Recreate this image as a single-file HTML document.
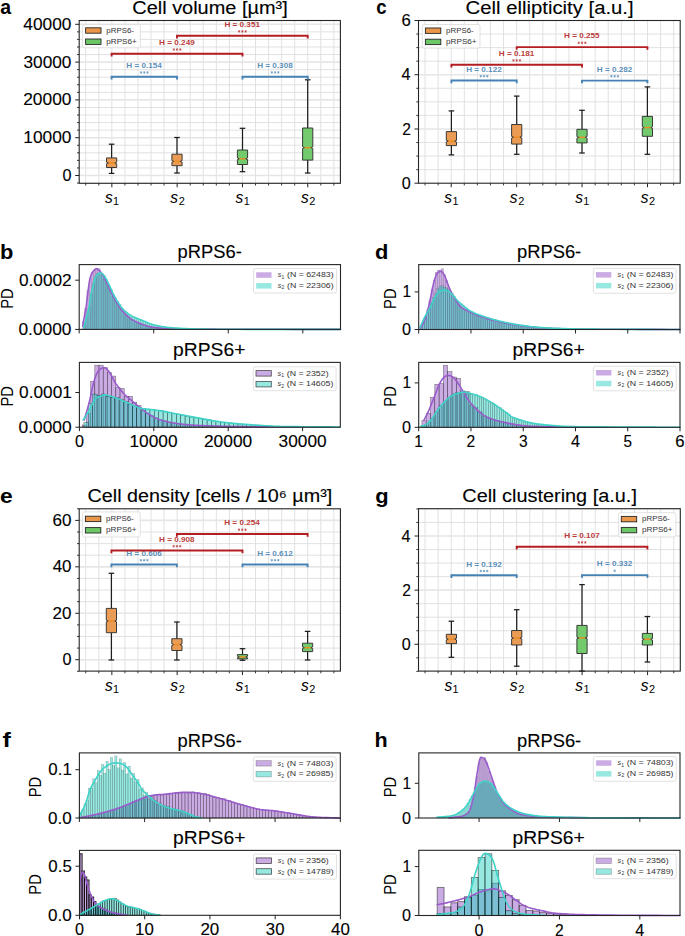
<!DOCTYPE html><html><head><meta charset="utf-8"><style>html,body{margin:0;padding:0;background:#fff;}svg{display:block;}</style></head><body><svg width="685" height="936" viewBox="0 0 685 936" font-family='"Liberation Sans", sans-serif'>
<rect width="685" height="936" fill="#fff"/>
<line x1="85.73" y1="20.5" x2="85.73" y2="183.3" stroke="#dedede" stroke-width="0.9"/>
<line x1="98.79" y1="20.5" x2="98.79" y2="183.3" stroke="#dedede" stroke-width="0.9"/>
<line x1="111.85" y1="20.5" x2="111.85" y2="183.3" stroke="#dedede" stroke-width="0.9"/>
<line x1="124.91" y1="20.5" x2="124.91" y2="183.3" stroke="#dedede" stroke-width="0.9"/>
<line x1="137.97" y1="20.5" x2="137.97" y2="183.3" stroke="#dedede" stroke-width="0.9"/>
<line x1="151.03" y1="20.5" x2="151.03" y2="183.3" stroke="#dedede" stroke-width="0.9"/>
<line x1="164.09" y1="20.5" x2="164.09" y2="183.3" stroke="#dedede" stroke-width="0.9"/>
<line x1="177.15" y1="20.5" x2="177.15" y2="183.3" stroke="#dedede" stroke-width="0.9"/>
<line x1="190.21" y1="20.5" x2="190.21" y2="183.3" stroke="#dedede" stroke-width="0.9"/>
<line x1="203.27" y1="20.5" x2="203.27" y2="183.3" stroke="#dedede" stroke-width="0.9"/>
<line x1="216.33" y1="20.5" x2="216.33" y2="183.3" stroke="#dedede" stroke-width="0.9"/>
<line x1="229.39" y1="20.5" x2="229.39" y2="183.3" stroke="#dedede" stroke-width="0.9"/>
<line x1="242.45" y1="20.5" x2="242.45" y2="183.3" stroke="#dedede" stroke-width="0.9"/>
<line x1="255.51" y1="20.5" x2="255.51" y2="183.3" stroke="#dedede" stroke-width="0.9"/>
<line x1="268.57" y1="20.5" x2="268.57" y2="183.3" stroke="#dedede" stroke-width="0.9"/>
<line x1="281.63" y1="20.5" x2="281.63" y2="183.3" stroke="#dedede" stroke-width="0.9"/>
<line x1="294.69" y1="20.5" x2="294.69" y2="183.3" stroke="#dedede" stroke-width="0.9"/>
<line x1="307.75" y1="20.5" x2="307.75" y2="183.3" stroke="#dedede" stroke-width="0.9"/>
<line x1="320.81" y1="20.5" x2="320.81" y2="183.3" stroke="#dedede" stroke-width="0.9"/>
<line x1="333.87" y1="20.5" x2="333.87" y2="183.3" stroke="#dedede" stroke-width="0.9"/>
<line x1="79.2" y1="183.06" x2="340.4" y2="183.06" stroke="#dedede" stroke-width="0.9"/>
<line x1="79.2" y1="167.94" x2="340.4" y2="167.94" stroke="#dedede" stroke-width="0.9"/>
<line x1="79.2" y1="160.38" x2="340.4" y2="160.38" stroke="#dedede" stroke-width="0.9"/>
<line x1="79.2" y1="152.82" x2="340.4" y2="152.82" stroke="#dedede" stroke-width="0.9"/>
<line x1="79.2" y1="145.26" x2="340.4" y2="145.26" stroke="#dedede" stroke-width="0.9"/>
<line x1="79.2" y1="130.14" x2="340.4" y2="130.14" stroke="#dedede" stroke-width="0.9"/>
<line x1="79.2" y1="122.58" x2="340.4" y2="122.58" stroke="#dedede" stroke-width="0.9"/>
<line x1="79.2" y1="115.02" x2="340.4" y2="115.02" stroke="#dedede" stroke-width="0.9"/>
<line x1="79.2" y1="107.46" x2="340.4" y2="107.46" stroke="#dedede" stroke-width="0.9"/>
<line x1="79.2" y1="92.34" x2="340.4" y2="92.34" stroke="#dedede" stroke-width="0.9"/>
<line x1="79.2" y1="84.78" x2="340.4" y2="84.78" stroke="#dedede" stroke-width="0.9"/>
<line x1="79.2" y1="77.22" x2="340.4" y2="77.22" stroke="#dedede" stroke-width="0.9"/>
<line x1="79.2" y1="69.66" x2="340.4" y2="69.66" stroke="#dedede" stroke-width="0.9"/>
<line x1="79.2" y1="54.54" x2="340.4" y2="54.54" stroke="#dedede" stroke-width="0.9"/>
<line x1="79.2" y1="46.98" x2="340.4" y2="46.98" stroke="#dedede" stroke-width="0.9"/>
<line x1="79.2" y1="39.42" x2="340.4" y2="39.42" stroke="#dedede" stroke-width="0.9"/>
<line x1="79.2" y1="31.86" x2="340.4" y2="31.86" stroke="#dedede" stroke-width="0.9"/>
<line x1="79.2" y1="175.5" x2="340.4" y2="175.5" stroke="#e6e6e6" stroke-width="1.6"/>
<line x1="79.2" y1="137.7" x2="340.4" y2="137.7" stroke="#e6e6e6" stroke-width="1.6"/>
<line x1="79.2" y1="99.9" x2="340.4" y2="99.9" stroke="#e6e6e6" stroke-width="1.6"/>
<line x1="79.2" y1="62.1" x2="340.4" y2="62.1" stroke="#e6e6e6" stroke-width="1.6"/>
<line x1="79.2" y1="24.3" x2="340.4" y2="24.3" stroke="#e6e6e6" stroke-width="1.6"/>
<line x1="77" y1="183.06" x2="79.2" y2="183.06" stroke="#222" stroke-width="0.9"/>
<line x1="77" y1="167.94" x2="79.2" y2="167.94" stroke="#222" stroke-width="0.9"/>
<line x1="77" y1="160.38" x2="79.2" y2="160.38" stroke="#222" stroke-width="0.9"/>
<line x1="77" y1="152.82" x2="79.2" y2="152.82" stroke="#222" stroke-width="0.9"/>
<line x1="77" y1="145.26" x2="79.2" y2="145.26" stroke="#222" stroke-width="0.9"/>
<line x1="77" y1="130.14" x2="79.2" y2="130.14" stroke="#222" stroke-width="0.9"/>
<line x1="77" y1="122.58" x2="79.2" y2="122.58" stroke="#222" stroke-width="0.9"/>
<line x1="77" y1="115.02" x2="79.2" y2="115.02" stroke="#222" stroke-width="0.9"/>
<line x1="77" y1="107.46" x2="79.2" y2="107.46" stroke="#222" stroke-width="0.9"/>
<line x1="77" y1="92.34" x2="79.2" y2="92.34" stroke="#222" stroke-width="0.9"/>
<line x1="77" y1="84.78" x2="79.2" y2="84.78" stroke="#222" stroke-width="0.9"/>
<line x1="77" y1="77.22" x2="79.2" y2="77.22" stroke="#222" stroke-width="0.9"/>
<line x1="77" y1="69.66" x2="79.2" y2="69.66" stroke="#222" stroke-width="0.9"/>
<line x1="77" y1="54.54" x2="79.2" y2="54.54" stroke="#222" stroke-width="0.9"/>
<line x1="77" y1="46.98" x2="79.2" y2="46.98" stroke="#222" stroke-width="0.9"/>
<line x1="77" y1="39.42" x2="79.2" y2="39.42" stroke="#222" stroke-width="0.9"/>
<line x1="77" y1="31.86" x2="79.2" y2="31.86" stroke="#222" stroke-width="0.9"/>
<line x1="75.2" y1="175.5" x2="79.2" y2="175.5" stroke="#222" stroke-width="1"/>
<text x="62.43" y="181.05" font-size="16.11" fill="#000" textLength="9" lengthAdjust="spacingAndGlyphs" stroke="#000" stroke-width="0.12">0</text>
<line x1="75.2" y1="137.7" x2="79.2" y2="137.7" stroke="#222" stroke-width="1"/>
<text x="23.35" y="143.25" font-size="16.11" fill="#000" textLength="48.13" lengthAdjust="spacingAndGlyphs" stroke="#000" stroke-width="0.12">10000</text>
<line x1="75.2" y1="99.9" x2="79.2" y2="99.9" stroke="#222" stroke-width="1"/>
<text x="23.23" y="105.45" font-size="16.11" fill="#000" textLength="48.24" lengthAdjust="spacingAndGlyphs" stroke="#000" stroke-width="0.12">20000</text>
<line x1="75.2" y1="62.1" x2="79.2" y2="62.1" stroke="#222" stroke-width="1"/>
<text x="23.49" y="67.65" font-size="16.11" fill="#000" textLength="47.98" lengthAdjust="spacingAndGlyphs" stroke="#000" stroke-width="0.12">30000</text>
<line x1="75.2" y1="24.3" x2="79.2" y2="24.3" stroke="#222" stroke-width="1"/>
<text x="23.33" y="29.85" font-size="16.11" fill="#000" textLength="48.14" lengthAdjust="spacingAndGlyphs" stroke="#000" stroke-width="0.12">40000</text>
<line x1="85.73" y1="183.3" x2="85.73" y2="185.5" stroke="#222" stroke-width="0.9"/>
<line x1="98.79" y1="183.3" x2="98.79" y2="185.5" stroke="#222" stroke-width="0.9"/>
<line x1="124.91" y1="183.3" x2="124.91" y2="185.5" stroke="#222" stroke-width="0.9"/>
<line x1="137.97" y1="183.3" x2="137.97" y2="185.5" stroke="#222" stroke-width="0.9"/>
<line x1="151.03" y1="183.3" x2="151.03" y2="185.5" stroke="#222" stroke-width="0.9"/>
<line x1="164.09" y1="183.3" x2="164.09" y2="185.5" stroke="#222" stroke-width="0.9"/>
<line x1="190.21" y1="183.3" x2="190.21" y2="185.5" stroke="#222" stroke-width="0.9"/>
<line x1="203.27" y1="183.3" x2="203.27" y2="185.5" stroke="#222" stroke-width="0.9"/>
<line x1="216.33" y1="183.3" x2="216.33" y2="185.5" stroke="#222" stroke-width="0.9"/>
<line x1="229.39" y1="183.3" x2="229.39" y2="185.5" stroke="#222" stroke-width="0.9"/>
<line x1="255.51" y1="183.3" x2="255.51" y2="185.5" stroke="#222" stroke-width="0.9"/>
<line x1="268.57" y1="183.3" x2="268.57" y2="185.5" stroke="#222" stroke-width="0.9"/>
<line x1="281.63" y1="183.3" x2="281.63" y2="185.5" stroke="#222" stroke-width="0.9"/>
<line x1="294.69" y1="183.3" x2="294.69" y2="185.5" stroke="#222" stroke-width="0.9"/>
<line x1="320.81" y1="183.3" x2="320.81" y2="185.5" stroke="#222" stroke-width="0.9"/>
<line x1="333.87" y1="183.3" x2="333.87" y2="185.5" stroke="#222" stroke-width="0.9"/>
<line x1="111.85" y1="183.3" x2="111.85" y2="187.3" stroke="#222" stroke-width="1"/>
<line x1="177.15" y1="183.3" x2="177.15" y2="187.3" stroke="#222" stroke-width="1"/>
<line x1="242.45" y1="183.3" x2="242.45" y2="187.3" stroke="#222" stroke-width="1"/>
<line x1="307.75" y1="183.3" x2="307.75" y2="187.3" stroke="#222" stroke-width="1"/>
<rect x="82.6" y="24.6" width="57.7" height="23.2" fill="rgba(255,255,255,0.85)" stroke="#d9d9d9" stroke-width="0.8" rx="1.8"/>
<rect x="85.6" y="27.8" width="15.4" height="5.4" fill="#ea974b" stroke="#262626" stroke-width="0.9"/>
<rect x="85.6" y="39" width="15.4" height="5.4" fill="#6cc866" stroke="#262626" stroke-width="0.9"/>
<text x="106.29" y="33.3" font-size="7.42" fill="#333" textLength="27.66" lengthAdjust="spacingAndGlyphs">pRPS6-</text>
<text x="106.28" y="44.2" font-size="7.42" fill="#333" textLength="30.53" lengthAdjust="spacingAndGlyphs">pRPS6+</text>
<line x1="111.6" y1="144.2" x2="111.6" y2="157.9" stroke="#1e1e1e" stroke-width="1.25"/>
<line x1="111.6" y1="167.5" x2="111.6" y2="173.4" stroke="#1e1e1e" stroke-width="1.25"/>
<line x1="108.8" y1="144.2" x2="114.4" y2="144.2" stroke="#1e1e1e" stroke-width="1.25"/>
<line x1="108.8" y1="173.4" x2="114.4" y2="173.4" stroke="#1e1e1e" stroke-width="1.25"/>
<path d="M106.5,167.5 L116.7,167.5 L116.7,163.8 L114.7,163 L116.7,162.2 L116.7,157.9 L106.5,157.9 L106.5,162.2 L108.5,163 L106.5,163.8 Z" fill="#ea974b" stroke="#333" stroke-width="0.95" fill-opacity="0.95" stroke-linejoin="miter"/>
<line x1="108.5" y1="163" x2="114.7" y2="163" stroke="#ef8a1c" stroke-width="1.4"/>
<line x1="177" y1="137.5" x2="177" y2="154.2" stroke="#1e1e1e" stroke-width="1.25"/>
<line x1="177" y1="165.7" x2="177" y2="173" stroke="#1e1e1e" stroke-width="1.25"/>
<line x1="174.2" y1="137.5" x2="179.8" y2="137.5" stroke="#1e1e1e" stroke-width="1.25"/>
<line x1="174.2" y1="173" x2="179.8" y2="173" stroke="#1e1e1e" stroke-width="1.25"/>
<path d="M171.9,165.7 L182.1,165.7 L182.1,162.2 L180.1,161.4 L182.1,160.6 L182.1,154.2 L171.9,154.2 L171.9,160.6 L173.9,161.4 L171.9,162.2 Z" fill="#ea974b" stroke="#333" stroke-width="0.95" fill-opacity="0.95" stroke-linejoin="miter"/>
<line x1="173.9" y1="161.4" x2="180.1" y2="161.4" stroke="#ef8a1c" stroke-width="1.4"/>
<line x1="242.5" y1="128.3" x2="242.5" y2="150" stroke="#1e1e1e" stroke-width="1.25"/>
<line x1="242.5" y1="164.5" x2="242.5" y2="171.7" stroke="#1e1e1e" stroke-width="1.25"/>
<line x1="239.7" y1="128.3" x2="245.3" y2="128.3" stroke="#1e1e1e" stroke-width="1.25"/>
<line x1="239.7" y1="171.7" x2="245.3" y2="171.7" stroke="#1e1e1e" stroke-width="1.25"/>
<path d="M237.4,164.5 L247.6,164.5 L247.6,159.6 L245.6,158.8 L247.6,158 L247.6,150 L237.4,150 L237.4,158 L239.4,158.8 L237.4,159.6 Z" fill="#6cc866" stroke="#333" stroke-width="0.95" fill-opacity="0.95" stroke-linejoin="miter"/>
<line x1="239.4" y1="158.8" x2="245.6" y2="158.8" stroke="#ef8a1c" stroke-width="1.4"/>
<line x1="307.7" y1="79.8" x2="307.7" y2="128" stroke="#1e1e1e" stroke-width="1.25"/>
<line x1="307.7" y1="160.1" x2="307.7" y2="173" stroke="#1e1e1e" stroke-width="1.25"/>
<line x1="304.9" y1="79.8" x2="310.5" y2="79.8" stroke="#1e1e1e" stroke-width="1.25"/>
<line x1="304.9" y1="173" x2="310.5" y2="173" stroke="#1e1e1e" stroke-width="1.25"/>
<path d="M302.6,160.1 L312.8,160.1 L312.8,148.4 L310.8,147.6 L312.8,146.8 L312.8,128 L302.6,128 L302.6,146.8 L304.6,147.6 L302.6,148.4 Z" fill="#6cc866" stroke="#333" stroke-width="0.95" fill-opacity="0.95" stroke-linejoin="miter"/>
<line x1="304.6" y1="147.6" x2="310.8" y2="147.6" stroke="#ef8a1c" stroke-width="1.4"/>
<path d="M111.6,78.6 L111.6,76.8 L177,76.8 L177,78.6" fill="none" stroke="#4682b4" stroke-width="1.9" stroke-linecap="square"/>
<text x="126.31" y="68.1" font-size="6.78" font-weight="bold" fill="#4682b4" textLength="35.47" lengthAdjust="spacingAndGlyphs" fill-opacity="0.9">H = 0.154</text>
<path d="M141.05,71.2 L141.05,73.8 M139.92,71.85 L142.18,73.15 M142.18,71.85 L139.92,73.15 " fill="none" stroke="#4682b4" stroke-width="0.6" stroke-opacity="0.9"/>
<path d="M144.3,71.2 L144.3,73.8 M143.17,71.85 L145.43,73.15 M145.43,71.85 L143.17,73.15 " fill="none" stroke="#4682b4" stroke-width="0.6" stroke-opacity="0.9"/>
<path d="M147.55,71.2 L147.55,73.8 M146.42,71.85 L148.68,73.15 M148.68,71.85 L146.42,73.15 " fill="none" stroke="#4682b4" stroke-width="0.6" stroke-opacity="0.9"/>
<path d="M242.5,78.5 L242.5,76.7 L307.7,76.7 L307.7,78.5" fill="none" stroke="#4682b4" stroke-width="1.9" stroke-linecap="square"/>
<text x="257.17" y="68" font-size="6.78" font-weight="bold" fill="#4682b4" textLength="35.57" lengthAdjust="spacingAndGlyphs" fill-opacity="0.9">H = 0.308</text>
<path d="M271.85,71.1 L271.85,73.7 M270.72,71.75 L272.98,73.05 M272.98,71.75 L270.72,73.05 " fill="none" stroke="#4682b4" stroke-width="0.6" stroke-opacity="0.9"/>
<path d="M275.1,71.1 L275.1,73.7 M273.97,71.75 L276.23,73.05 M276.23,71.75 L273.97,73.05 " fill="none" stroke="#4682b4" stroke-width="0.6" stroke-opacity="0.9"/>
<path d="M278.35,71.1 L278.35,73.7 M277.22,71.75 L279.48,73.05 M279.48,71.75 L277.22,73.05 " fill="none" stroke="#4682b4" stroke-width="0.6" stroke-opacity="0.9"/>
<path d="M111.6,55.6 L111.6,53.8 L242.5,53.8 L242.5,55.6" fill="none" stroke="#b41e22" stroke-width="1.9" stroke-linecap="square"/>
<text x="159.12" y="45.1" font-size="6.78" font-weight="bold" fill="#b41e22" textLength="35.61" lengthAdjust="spacingAndGlyphs" fill-opacity="0.9">H = 0.249</text>
<path d="M173.8,48.2 L173.8,50.8 M172.67,48.85 L174.93,50.15 M174.93,48.85 L172.67,50.15 " fill="none" stroke="#b41e22" stroke-width="0.6" stroke-opacity="0.9"/>
<path d="M177.05,48.2 L177.05,50.8 M175.92,48.85 L178.18,50.15 M178.18,48.85 L175.92,50.15 " fill="none" stroke="#b41e22" stroke-width="0.6" stroke-opacity="0.9"/>
<path d="M180.3,48.2 L180.3,50.8 M179.17,48.85 L181.43,50.15 M181.43,48.85 L179.17,50.15 " fill="none" stroke="#b41e22" stroke-width="0.6" stroke-opacity="0.9"/>
<path d="M177,37.5 L177,35.7 L307.7,35.7 L307.7,37.5" fill="none" stroke="#b41e22" stroke-width="1.9" stroke-linecap="square"/>
<text x="224.44" y="27" font-size="6.78" font-weight="bold" fill="#b41e22" textLength="35.51" lengthAdjust="spacingAndGlyphs" fill-opacity="0.9">H = 0.351</text>
<path d="M239.1,30.1 L239.1,32.7 M237.97,30.75 L240.23,32.05 M240.23,30.75 L237.97,32.05 " fill="none" stroke="#b41e22" stroke-width="0.6" stroke-opacity="0.9"/>
<path d="M242.35,30.1 L242.35,32.7 M241.22,30.75 L243.48,32.05 M243.48,30.75 L241.22,32.05 " fill="none" stroke="#b41e22" stroke-width="0.6" stroke-opacity="0.9"/>
<path d="M245.6,30.1 L245.6,32.7 M244.47,30.75 L246.73,32.05 M246.73,30.75 L244.47,32.05 " fill="none" stroke="#b41e22" stroke-width="0.6" stroke-opacity="0.9"/>
<rect x="79.2" y="20.5" width="261.2" height="162.8" fill="none" stroke="#262626" stroke-width="1.1"/>
<text x="105.01" y="202.5" font-size="16.32" font-style="italic" fill="#000" textLength="7.76" lengthAdjust="spacingAndGlyphs">s</text>
<text x="113.12" y="204.9" font-size="11.34" fill="#000" textLength="6.05" lengthAdjust="spacingAndGlyphs">1</text>
<text x="170.31" y="202.5" font-size="16.32" font-style="italic" fill="#000" textLength="7.76" lengthAdjust="spacingAndGlyphs">s</text>
<text x="178.7" y="204.9" font-size="11.34" fill="#000" textLength="6.11" lengthAdjust="spacingAndGlyphs">2</text>
<text x="235.61" y="202.5" font-size="16.32" font-style="italic" fill="#000" textLength="7.76" lengthAdjust="spacingAndGlyphs">s</text>
<text x="243.72" y="204.9" font-size="11.34" fill="#000" textLength="6.05" lengthAdjust="spacingAndGlyphs">1</text>
<text x="300.91" y="202.5" font-size="16.32" font-style="italic" fill="#000" textLength="7.76" lengthAdjust="spacingAndGlyphs">s</text>
<text x="309.3" y="204.9" font-size="11.34" fill="#000" textLength="6.11" lengthAdjust="spacingAndGlyphs">2</text>
<line x1="425.04" y1="20.5" x2="425.04" y2="183.2" stroke="#dedede" stroke-width="0.9"/>
<line x1="438.13" y1="20.5" x2="438.13" y2="183.2" stroke="#dedede" stroke-width="0.9"/>
<line x1="451.21" y1="20.5" x2="451.21" y2="183.2" stroke="#dedede" stroke-width="0.9"/>
<line x1="464.3" y1="20.5" x2="464.3" y2="183.2" stroke="#dedede" stroke-width="0.9"/>
<line x1="477.38" y1="20.5" x2="477.38" y2="183.2" stroke="#dedede" stroke-width="0.9"/>
<line x1="490.47" y1="20.5" x2="490.47" y2="183.2" stroke="#dedede" stroke-width="0.9"/>
<line x1="503.55" y1="20.5" x2="503.55" y2="183.2" stroke="#dedede" stroke-width="0.9"/>
<line x1="516.64" y1="20.5" x2="516.64" y2="183.2" stroke="#dedede" stroke-width="0.9"/>
<line x1="529.72" y1="20.5" x2="529.72" y2="183.2" stroke="#dedede" stroke-width="0.9"/>
<line x1="542.81" y1="20.5" x2="542.81" y2="183.2" stroke="#dedede" stroke-width="0.9"/>
<line x1="555.89" y1="20.5" x2="555.89" y2="183.2" stroke="#dedede" stroke-width="0.9"/>
<line x1="568.98" y1="20.5" x2="568.98" y2="183.2" stroke="#dedede" stroke-width="0.9"/>
<line x1="582.06" y1="20.5" x2="582.06" y2="183.2" stroke="#dedede" stroke-width="0.9"/>
<line x1="595.15" y1="20.5" x2="595.15" y2="183.2" stroke="#dedede" stroke-width="0.9"/>
<line x1="608.23" y1="20.5" x2="608.23" y2="183.2" stroke="#dedede" stroke-width="0.9"/>
<line x1="621.32" y1="20.5" x2="621.32" y2="183.2" stroke="#dedede" stroke-width="0.9"/>
<line x1="634.4" y1="20.5" x2="634.4" y2="183.2" stroke="#dedede" stroke-width="0.9"/>
<line x1="647.49" y1="20.5" x2="647.49" y2="183.2" stroke="#dedede" stroke-width="0.9"/>
<line x1="660.57" y1="20.5" x2="660.57" y2="183.2" stroke="#dedede" stroke-width="0.9"/>
<line x1="673.66" y1="20.5" x2="673.66" y2="183.2" stroke="#dedede" stroke-width="0.9"/>
<line x1="418.5" y1="169.64" x2="680.2" y2="169.64" stroke="#dedede" stroke-width="0.9"/>
<line x1="418.5" y1="156.08" x2="680.2" y2="156.08" stroke="#dedede" stroke-width="0.9"/>
<line x1="418.5" y1="142.52" x2="680.2" y2="142.52" stroke="#dedede" stroke-width="0.9"/>
<line x1="418.5" y1="115.41" x2="680.2" y2="115.41" stroke="#dedede" stroke-width="0.9"/>
<line x1="418.5" y1="101.85" x2="680.2" y2="101.85" stroke="#dedede" stroke-width="0.9"/>
<line x1="418.5" y1="88.29" x2="680.2" y2="88.29" stroke="#dedede" stroke-width="0.9"/>
<line x1="418.5" y1="61.17" x2="680.2" y2="61.17" stroke="#dedede" stroke-width="0.9"/>
<line x1="418.5" y1="47.62" x2="680.2" y2="47.62" stroke="#dedede" stroke-width="0.9"/>
<line x1="418.5" y1="34.06" x2="680.2" y2="34.06" stroke="#dedede" stroke-width="0.9"/>
<line x1="418.5" y1="128.97" x2="680.2" y2="128.97" stroke="#e6e6e6" stroke-width="1.6"/>
<line x1="418.5" y1="74.73" x2="680.2" y2="74.73" stroke="#e6e6e6" stroke-width="1.6"/>
<line x1="416.3" y1="169.64" x2="418.5" y2="169.64" stroke="#222" stroke-width="0.9"/>
<line x1="416.3" y1="156.08" x2="418.5" y2="156.08" stroke="#222" stroke-width="0.9"/>
<line x1="416.3" y1="142.52" x2="418.5" y2="142.52" stroke="#222" stroke-width="0.9"/>
<line x1="416.3" y1="115.41" x2="418.5" y2="115.41" stroke="#222" stroke-width="0.9"/>
<line x1="416.3" y1="101.85" x2="418.5" y2="101.85" stroke="#222" stroke-width="0.9"/>
<line x1="416.3" y1="88.29" x2="418.5" y2="88.29" stroke="#222" stroke-width="0.9"/>
<line x1="416.3" y1="61.17" x2="418.5" y2="61.17" stroke="#222" stroke-width="0.9"/>
<line x1="416.3" y1="47.62" x2="418.5" y2="47.62" stroke="#222" stroke-width="0.9"/>
<line x1="416.3" y1="34.06" x2="418.5" y2="34.06" stroke="#222" stroke-width="0.9"/>
<line x1="414.5" y1="183.2" x2="418.5" y2="183.2" stroke="#222" stroke-width="1"/>
<text x="401.73" y="188.75" font-size="16.11" fill="#000" textLength="9" lengthAdjust="spacingAndGlyphs" stroke="#000" stroke-width="0.12">0</text>
<line x1="414.5" y1="128.97" x2="418.5" y2="128.97" stroke="#222" stroke-width="1"/>
<text x="402.21" y="134.52" font-size="16.11" fill="#000" textLength="8.68" lengthAdjust="spacingAndGlyphs" stroke="#000" stroke-width="0.12">2</text>
<line x1="414.5" y1="74.73" x2="418.5" y2="74.73" stroke="#222" stroke-width="1"/>
<text x="401.57" y="80.28" font-size="16.11" fill="#000" textLength="9" lengthAdjust="spacingAndGlyphs" stroke="#000" stroke-width="0.12">4</text>
<line x1="414.5" y1="20.5" x2="418.5" y2="20.5" stroke="#222" stroke-width="1"/>
<text x="401.52" y="26.05" font-size="16.11" fill="#000" textLength="9.32" lengthAdjust="spacingAndGlyphs" stroke="#000" stroke-width="0.12">6</text>
<line x1="425.04" y1="183.2" x2="425.04" y2="185.4" stroke="#222" stroke-width="0.9"/>
<line x1="438.13" y1="183.2" x2="438.13" y2="185.4" stroke="#222" stroke-width="0.9"/>
<line x1="464.3" y1="183.2" x2="464.3" y2="185.4" stroke="#222" stroke-width="0.9"/>
<line x1="477.38" y1="183.2" x2="477.38" y2="185.4" stroke="#222" stroke-width="0.9"/>
<line x1="490.47" y1="183.2" x2="490.47" y2="185.4" stroke="#222" stroke-width="0.9"/>
<line x1="503.55" y1="183.2" x2="503.55" y2="185.4" stroke="#222" stroke-width="0.9"/>
<line x1="529.72" y1="183.2" x2="529.72" y2="185.4" stroke="#222" stroke-width="0.9"/>
<line x1="542.81" y1="183.2" x2="542.81" y2="185.4" stroke="#222" stroke-width="0.9"/>
<line x1="555.89" y1="183.2" x2="555.89" y2="185.4" stroke="#222" stroke-width="0.9"/>
<line x1="568.98" y1="183.2" x2="568.98" y2="185.4" stroke="#222" stroke-width="0.9"/>
<line x1="595.15" y1="183.2" x2="595.15" y2="185.4" stroke="#222" stroke-width="0.9"/>
<line x1="608.23" y1="183.2" x2="608.23" y2="185.4" stroke="#222" stroke-width="0.9"/>
<line x1="621.32" y1="183.2" x2="621.32" y2="185.4" stroke="#222" stroke-width="0.9"/>
<line x1="634.4" y1="183.2" x2="634.4" y2="185.4" stroke="#222" stroke-width="0.9"/>
<line x1="660.57" y1="183.2" x2="660.57" y2="185.4" stroke="#222" stroke-width="0.9"/>
<line x1="673.66" y1="183.2" x2="673.66" y2="185.4" stroke="#222" stroke-width="0.9"/>
<line x1="451.21" y1="183.2" x2="451.21" y2="187.2" stroke="#222" stroke-width="1"/>
<line x1="516.64" y1="183.2" x2="516.64" y2="187.2" stroke="#222" stroke-width="1"/>
<line x1="582.06" y1="183.2" x2="582.06" y2="187.2" stroke="#222" stroke-width="1"/>
<line x1="647.49" y1="183.2" x2="647.49" y2="187.2" stroke="#222" stroke-width="1"/>
<rect x="422.3" y="24.5" width="57.7" height="23.6" fill="rgba(255,255,255,0.85)" stroke="#d9d9d9" stroke-width="0.8" rx="1.8"/>
<rect x="425.4" y="28" width="15.4" height="5.4" fill="#ea974b" stroke="#262626" stroke-width="0.9"/>
<rect x="425.4" y="39.2" width="15.4" height="5.4" fill="#6cc866" stroke="#262626" stroke-width="0.9"/>
<text x="446.09" y="33.2" font-size="7.42" fill="#333" textLength="27.66" lengthAdjust="spacingAndGlyphs">pRPS6-</text>
<text x="446.08" y="44.1" font-size="7.42" fill="#333" textLength="30.53" lengthAdjust="spacingAndGlyphs">pRPS6+</text>
<line x1="451.4" y1="110.9" x2="451.4" y2="131.6" stroke="#1e1e1e" stroke-width="1.25"/>
<line x1="451.4" y1="145.6" x2="451.4" y2="154.9" stroke="#1e1e1e" stroke-width="1.25"/>
<line x1="448.6" y1="110.9" x2="454.2" y2="110.9" stroke="#1e1e1e" stroke-width="1.25"/>
<line x1="448.6" y1="154.9" x2="454.2" y2="154.9" stroke="#1e1e1e" stroke-width="1.25"/>
<path d="M446.3,145.6 L456.5,145.6 L456.5,142 L454.5,141.2 L456.5,140.4 L456.5,131.6 L446.3,131.6 L446.3,140.4 L448.3,141.2 L446.3,142 Z" fill="#ea974b" stroke="#333" stroke-width="0.95" fill-opacity="0.95" stroke-linejoin="miter"/>
<line x1="448.3" y1="141.2" x2="454.5" y2="141.2" stroke="#ef8a1c" stroke-width="1.4"/>
<line x1="516.7" y1="96.1" x2="516.7" y2="124.5" stroke="#1e1e1e" stroke-width="1.25"/>
<line x1="516.7" y1="144.1" x2="516.7" y2="154.3" stroke="#1e1e1e" stroke-width="1.25"/>
<line x1="513.9" y1="96.1" x2="519.5" y2="96.1" stroke="#1e1e1e" stroke-width="1.25"/>
<line x1="513.9" y1="154.3" x2="519.5" y2="154.3" stroke="#1e1e1e" stroke-width="1.25"/>
<path d="M511.6,144.1 L521.8,144.1 L521.8,138 L519.8,137.2 L521.8,136.4 L521.8,124.5 L511.6,124.5 L511.6,136.4 L513.6,137.2 L511.6,138 Z" fill="#ea974b" stroke="#333" stroke-width="0.95" fill-opacity="0.95" stroke-linejoin="miter"/>
<line x1="513.6" y1="137.2" x2="519.8" y2="137.2" stroke="#ef8a1c" stroke-width="1.4"/>
<line x1="582" y1="110.3" x2="582" y2="129.3" stroke="#1e1e1e" stroke-width="1.25"/>
<line x1="582" y1="142.9" x2="582" y2="153" stroke="#1e1e1e" stroke-width="1.25"/>
<line x1="579.2" y1="110.3" x2="584.8" y2="110.3" stroke="#1e1e1e" stroke-width="1.25"/>
<line x1="579.2" y1="153" x2="584.8" y2="153" stroke="#1e1e1e" stroke-width="1.25"/>
<path d="M576.9,142.9 L587.1,142.9 L587.1,138.2 L585.1,137.4 L587.1,136.6 L587.1,129.3 L576.9,129.3 L576.9,136.6 L578.9,137.4 L576.9,138.2 Z" fill="#6cc866" stroke="#333" stroke-width="0.95" fill-opacity="0.95" stroke-linejoin="miter"/>
<line x1="578.9" y1="137.4" x2="585.1" y2="137.4" stroke="#ef8a1c" stroke-width="1.4"/>
<line x1="647.4" y1="86.9" x2="647.4" y2="116.4" stroke="#1e1e1e" stroke-width="1.25"/>
<line x1="647.4" y1="136.3" x2="647.4" y2="154.3" stroke="#1e1e1e" stroke-width="1.25"/>
<line x1="644.6" y1="86.9" x2="650.2" y2="86.9" stroke="#1e1e1e" stroke-width="1.25"/>
<line x1="644.6" y1="154.3" x2="650.2" y2="154.3" stroke="#1e1e1e" stroke-width="1.25"/>
<path d="M642.3,136.3 L652.5,136.3 L652.5,128.4 L650.5,127.6 L652.5,126.8 L652.5,116.4 L642.3,116.4 L642.3,126.8 L644.3,127.6 L642.3,128.4 Z" fill="#6cc866" stroke="#333" stroke-width="0.95" fill-opacity="0.95" stroke-linejoin="miter"/>
<line x1="644.3" y1="127.6" x2="650.5" y2="127.6" stroke="#ef8a1c" stroke-width="1.4"/>
<path d="M451.4,82.3 L451.4,80.5 L516.7,80.5 L516.7,82.3" fill="none" stroke="#4682b4" stroke-width="1.9" stroke-linecap="square"/>
<text x="466.2" y="71.8" font-size="6.78" font-weight="bold" fill="#4682b4" textLength="35.49" lengthAdjust="spacingAndGlyphs" fill-opacity="0.9">H = 0.122</text>
<path d="M480.8,74.9 L480.8,77.5 M479.67,75.55 L481.93,76.85 M481.93,75.55 L479.67,76.85 " fill="none" stroke="#4682b4" stroke-width="0.6" stroke-opacity="0.9"/>
<path d="M484.05,74.9 L484.05,77.5 M482.92,75.55 L485.18,76.85 M485.18,75.55 L482.92,76.85 " fill="none" stroke="#4682b4" stroke-width="0.6" stroke-opacity="0.9"/>
<path d="M487.3,74.9 L487.3,77.5 M486.17,75.55 L488.43,76.85 M488.43,75.55 L486.17,76.85 " fill="none" stroke="#4682b4" stroke-width="0.6" stroke-opacity="0.9"/>
<path d="M582,82.4 L582,80.6 L647.4,80.6 L647.4,82.4" fill="none" stroke="#4682b4" stroke-width="1.9" stroke-linecap="square"/>
<text x="596.85" y="71.9" font-size="6.78" font-weight="bold" fill="#4682b4" textLength="35.49" lengthAdjust="spacingAndGlyphs" fill-opacity="0.9">H = 0.282</text>
<path d="M611.45,75 L611.45,77.6 M610.32,75.65 L612.58,76.95 M612.58,75.65 L610.32,76.95 " fill="none" stroke="#4682b4" stroke-width="0.6" stroke-opacity="0.9"/>
<path d="M614.7,75 L614.7,77.6 M613.57,75.65 L615.83,76.95 M615.83,75.65 L613.57,76.95 " fill="none" stroke="#4682b4" stroke-width="0.6" stroke-opacity="0.9"/>
<path d="M617.95,75 L617.95,77.6 M616.82,75.65 L619.08,76.95 M619.08,75.65 L616.82,76.95 " fill="none" stroke="#4682b4" stroke-width="0.6" stroke-opacity="0.9"/>
<path d="M451.4,66.5 L451.4,64.7 L582,64.7 L582,66.5" fill="none" stroke="#b41e22" stroke-width="1.9" stroke-linecap="square"/>
<text x="498.79" y="56" font-size="6.78" font-weight="bold" fill="#b41e22" textLength="35.51" lengthAdjust="spacingAndGlyphs" fill-opacity="0.9">H = 0.181</text>
<path d="M513.45,59.1 L513.45,61.7 M512.32,59.75 L514.58,61.05 M514.58,59.75 L512.32,61.05 " fill="none" stroke="#b41e22" stroke-width="0.6" stroke-opacity="0.9"/>
<path d="M516.7,59.1 L516.7,61.7 M515.57,59.75 L517.83,61.05 M517.83,59.75 L515.57,61.05 " fill="none" stroke="#b41e22" stroke-width="0.6" stroke-opacity="0.9"/>
<path d="M519.95,59.1 L519.95,61.7 M518.82,59.75 L521.08,61.05 M521.08,59.75 L518.82,61.05 " fill="none" stroke="#b41e22" stroke-width="0.6" stroke-opacity="0.9"/>
<path d="M516.7,48.9 L516.7,47.1 L647.4,47.1 L647.4,48.9" fill="none" stroke="#b41e22" stroke-width="1.9" stroke-linecap="square"/>
<text x="564.14" y="38.4" font-size="6.78" font-weight="bold" fill="#b41e22" textLength="35.5" lengthAdjust="spacingAndGlyphs" fill-opacity="0.9">H = 0.255</text>
<path d="M578.8,41.5 L578.8,44.1 M577.67,42.15 L579.93,43.45 M579.93,42.15 L577.67,43.45 " fill="none" stroke="#b41e22" stroke-width="0.6" stroke-opacity="0.9"/>
<path d="M582.05,41.5 L582.05,44.1 M580.92,42.15 L583.18,43.45 M583.18,42.15 L580.92,43.45 " fill="none" stroke="#b41e22" stroke-width="0.6" stroke-opacity="0.9"/>
<path d="M585.3,41.5 L585.3,44.1 M584.17,42.15 L586.43,43.45 M586.43,42.15 L584.17,43.45 " fill="none" stroke="#b41e22" stroke-width="0.6" stroke-opacity="0.9"/>
<rect x="418.5" y="20.5" width="261.7" height="162.7" fill="none" stroke="#262626" stroke-width="1.1"/>
<text x="444.37" y="202.5" font-size="16.32" font-style="italic" fill="#000" textLength="7.76" lengthAdjust="spacingAndGlyphs">s</text>
<text x="452.48" y="204.9" font-size="11.34" fill="#000" textLength="6.05" lengthAdjust="spacingAndGlyphs">1</text>
<text x="509.8" y="202.5" font-size="16.32" font-style="italic" fill="#000" textLength="7.76" lengthAdjust="spacingAndGlyphs">s</text>
<text x="518.19" y="204.9" font-size="11.34" fill="#000" textLength="6.11" lengthAdjust="spacingAndGlyphs">2</text>
<text x="575.22" y="202.5" font-size="16.32" font-style="italic" fill="#000" textLength="7.76" lengthAdjust="spacingAndGlyphs">s</text>
<text x="583.33" y="204.9" font-size="11.34" fill="#000" textLength="6.05" lengthAdjust="spacingAndGlyphs">1</text>
<text x="640.65" y="202.5" font-size="16.32" font-style="italic" fill="#000" textLength="7.76" lengthAdjust="spacingAndGlyphs">s</text>
<text x="649.04" y="204.9" font-size="11.34" fill="#000" textLength="6.11" lengthAdjust="spacingAndGlyphs">2</text>
<line x1="85.73" y1="508.8" x2="85.73" y2="671.1" stroke="#dedede" stroke-width="0.9"/>
<line x1="98.79" y1="508.8" x2="98.79" y2="671.1" stroke="#dedede" stroke-width="0.9"/>
<line x1="111.85" y1="508.8" x2="111.85" y2="671.1" stroke="#dedede" stroke-width="0.9"/>
<line x1="124.91" y1="508.8" x2="124.91" y2="671.1" stroke="#dedede" stroke-width="0.9"/>
<line x1="137.97" y1="508.8" x2="137.97" y2="671.1" stroke="#dedede" stroke-width="0.9"/>
<line x1="151.03" y1="508.8" x2="151.03" y2="671.1" stroke="#dedede" stroke-width="0.9"/>
<line x1="164.09" y1="508.8" x2="164.09" y2="671.1" stroke="#dedede" stroke-width="0.9"/>
<line x1="177.15" y1="508.8" x2="177.15" y2="671.1" stroke="#dedede" stroke-width="0.9"/>
<line x1="190.21" y1="508.8" x2="190.21" y2="671.1" stroke="#dedede" stroke-width="0.9"/>
<line x1="203.27" y1="508.8" x2="203.27" y2="671.1" stroke="#dedede" stroke-width="0.9"/>
<line x1="216.33" y1="508.8" x2="216.33" y2="671.1" stroke="#dedede" stroke-width="0.9"/>
<line x1="229.39" y1="508.8" x2="229.39" y2="671.1" stroke="#dedede" stroke-width="0.9"/>
<line x1="242.45" y1="508.8" x2="242.45" y2="671.1" stroke="#dedede" stroke-width="0.9"/>
<line x1="255.51" y1="508.8" x2="255.51" y2="671.1" stroke="#dedede" stroke-width="0.9"/>
<line x1="268.57" y1="508.8" x2="268.57" y2="671.1" stroke="#dedede" stroke-width="0.9"/>
<line x1="281.63" y1="508.8" x2="281.63" y2="671.1" stroke="#dedede" stroke-width="0.9"/>
<line x1="294.69" y1="508.8" x2="294.69" y2="671.1" stroke="#dedede" stroke-width="0.9"/>
<line x1="307.75" y1="508.8" x2="307.75" y2="671.1" stroke="#dedede" stroke-width="0.9"/>
<line x1="320.81" y1="508.8" x2="320.81" y2="671.1" stroke="#dedede" stroke-width="0.9"/>
<line x1="333.87" y1="508.8" x2="333.87" y2="671.1" stroke="#dedede" stroke-width="0.9"/>
<line x1="79.2" y1="648.09" x2="340.4" y2="648.09" stroke="#dedede" stroke-width="0.9"/>
<line x1="79.2" y1="636.48" x2="340.4" y2="636.48" stroke="#dedede" stroke-width="0.9"/>
<line x1="79.2" y1="624.88" x2="340.4" y2="624.88" stroke="#dedede" stroke-width="0.9"/>
<line x1="79.2" y1="601.66" x2="340.4" y2="601.66" stroke="#dedede" stroke-width="0.9"/>
<line x1="79.2" y1="590.05" x2="340.4" y2="590.05" stroke="#dedede" stroke-width="0.9"/>
<line x1="79.2" y1="578.44" x2="340.4" y2="578.44" stroke="#dedede" stroke-width="0.9"/>
<line x1="79.2" y1="555.23" x2="340.4" y2="555.23" stroke="#dedede" stroke-width="0.9"/>
<line x1="79.2" y1="543.62" x2="340.4" y2="543.62" stroke="#dedede" stroke-width="0.9"/>
<line x1="79.2" y1="532.01" x2="340.4" y2="532.01" stroke="#dedede" stroke-width="0.9"/>
<line x1="79.2" y1="659.7" x2="340.4" y2="659.7" stroke="#e6e6e6" stroke-width="1.6"/>
<line x1="79.2" y1="613.27" x2="340.4" y2="613.27" stroke="#e6e6e6" stroke-width="1.6"/>
<line x1="79.2" y1="566.83" x2="340.4" y2="566.83" stroke="#e6e6e6" stroke-width="1.6"/>
<line x1="79.2" y1="520.4" x2="340.4" y2="520.4" stroke="#e6e6e6" stroke-width="1.6"/>
<line x1="77" y1="671.31" x2="79.2" y2="671.31" stroke="#222" stroke-width="0.9"/>
<line x1="77" y1="648.09" x2="79.2" y2="648.09" stroke="#222" stroke-width="0.9"/>
<line x1="77" y1="636.48" x2="79.2" y2="636.48" stroke="#222" stroke-width="0.9"/>
<line x1="77" y1="624.88" x2="79.2" y2="624.88" stroke="#222" stroke-width="0.9"/>
<line x1="77" y1="601.66" x2="79.2" y2="601.66" stroke="#222" stroke-width="0.9"/>
<line x1="77" y1="590.05" x2="79.2" y2="590.05" stroke="#222" stroke-width="0.9"/>
<line x1="77" y1="578.44" x2="79.2" y2="578.44" stroke="#222" stroke-width="0.9"/>
<line x1="77" y1="555.23" x2="79.2" y2="555.23" stroke="#222" stroke-width="0.9"/>
<line x1="77" y1="543.62" x2="79.2" y2="543.62" stroke="#222" stroke-width="0.9"/>
<line x1="77" y1="532.01" x2="79.2" y2="532.01" stroke="#222" stroke-width="0.9"/>
<line x1="77" y1="508.79" x2="79.2" y2="508.79" stroke="#222" stroke-width="0.9"/>
<line x1="75.2" y1="659.7" x2="79.2" y2="659.7" stroke="#222" stroke-width="1"/>
<text x="62.43" y="665.25" font-size="16.11" fill="#000" textLength="9" lengthAdjust="spacingAndGlyphs" stroke="#000" stroke-width="0.12">0</text>
<line x1="75.2" y1="613.27" x2="79.2" y2="613.27" stroke="#222" stroke-width="1"/>
<text x="52.55" y="618.82" font-size="16.11" fill="#000" textLength="18.91" lengthAdjust="spacingAndGlyphs" stroke="#000" stroke-width="0.12">20</text>
<line x1="75.2" y1="566.83" x2="79.2" y2="566.83" stroke="#222" stroke-width="1"/>
<text x="52.65" y="572.38" font-size="16.11" fill="#000" textLength="18.81" lengthAdjust="spacingAndGlyphs" stroke="#000" stroke-width="0.12">40</text>
<line x1="75.2" y1="520.4" x2="79.2" y2="520.4" stroke="#222" stroke-width="1"/>
<text x="52.49" y="525.95" font-size="16.11" fill="#000" textLength="18.98" lengthAdjust="spacingAndGlyphs" stroke="#000" stroke-width="0.12">60</text>
<line x1="85.73" y1="671.1" x2="85.73" y2="673.3" stroke="#222" stroke-width="0.9"/>
<line x1="98.79" y1="671.1" x2="98.79" y2="673.3" stroke="#222" stroke-width="0.9"/>
<line x1="124.91" y1="671.1" x2="124.91" y2="673.3" stroke="#222" stroke-width="0.9"/>
<line x1="137.97" y1="671.1" x2="137.97" y2="673.3" stroke="#222" stroke-width="0.9"/>
<line x1="151.03" y1="671.1" x2="151.03" y2="673.3" stroke="#222" stroke-width="0.9"/>
<line x1="164.09" y1="671.1" x2="164.09" y2="673.3" stroke="#222" stroke-width="0.9"/>
<line x1="190.21" y1="671.1" x2="190.21" y2="673.3" stroke="#222" stroke-width="0.9"/>
<line x1="203.27" y1="671.1" x2="203.27" y2="673.3" stroke="#222" stroke-width="0.9"/>
<line x1="216.33" y1="671.1" x2="216.33" y2="673.3" stroke="#222" stroke-width="0.9"/>
<line x1="229.39" y1="671.1" x2="229.39" y2="673.3" stroke="#222" stroke-width="0.9"/>
<line x1="255.51" y1="671.1" x2="255.51" y2="673.3" stroke="#222" stroke-width="0.9"/>
<line x1="268.57" y1="671.1" x2="268.57" y2="673.3" stroke="#222" stroke-width="0.9"/>
<line x1="281.63" y1="671.1" x2="281.63" y2="673.3" stroke="#222" stroke-width="0.9"/>
<line x1="294.69" y1="671.1" x2="294.69" y2="673.3" stroke="#222" stroke-width="0.9"/>
<line x1="320.81" y1="671.1" x2="320.81" y2="673.3" stroke="#222" stroke-width="0.9"/>
<line x1="333.87" y1="671.1" x2="333.87" y2="673.3" stroke="#222" stroke-width="0.9"/>
<line x1="111.85" y1="671.1" x2="111.85" y2="675.1" stroke="#222" stroke-width="1"/>
<line x1="177.15" y1="671.1" x2="177.15" y2="675.1" stroke="#222" stroke-width="1"/>
<line x1="242.45" y1="671.1" x2="242.45" y2="675.1" stroke="#222" stroke-width="1"/>
<line x1="307.75" y1="671.1" x2="307.75" y2="675.1" stroke="#222" stroke-width="1"/>
<rect x="82.5" y="511.9" width="57.7" height="25.1" fill="rgba(255,255,255,0.85)" stroke="#d9d9d9" stroke-width="0.8" rx="1.8"/>
<rect x="85.4" y="516.2" width="15.4" height="5.4" fill="#ea974b" stroke="#262626" stroke-width="0.9"/>
<rect x="85.4" y="527.6" width="15.4" height="5.4" fill="#6cc866" stroke="#262626" stroke-width="0.9"/>
<text x="106.09" y="520.6" font-size="7.42" fill="#333" textLength="27.66" lengthAdjust="spacingAndGlyphs">pRPS6-</text>
<text x="106.08" y="531.5" font-size="7.42" fill="#333" textLength="30.53" lengthAdjust="spacingAndGlyphs">pRPS6+</text>
<line x1="111.4" y1="573.3" x2="111.4" y2="608.4" stroke="#1e1e1e" stroke-width="1.25"/>
<line x1="111.4" y1="632.7" x2="111.4" y2="660" stroke="#1e1e1e" stroke-width="1.25"/>
<line x1="108.6" y1="573.3" x2="114.2" y2="573.3" stroke="#1e1e1e" stroke-width="1.25"/>
<line x1="108.6" y1="660" x2="114.2" y2="660" stroke="#1e1e1e" stroke-width="1.25"/>
<path d="M106.3,632.7 L116.5,632.7 L116.5,621.9 L114.5,621.1 L116.5,620.3 L116.5,608.4 L106.3,608.4 L106.3,620.3 L108.3,621.1 L106.3,621.9 Z" fill="#ea974b" stroke="#333" stroke-width="0.95" fill-opacity="0.95" stroke-linejoin="miter"/>
<line x1="108.3" y1="621.1" x2="114.5" y2="621.1" stroke="#ef8a1c" stroke-width="1.4"/>
<line x1="176.9" y1="622" x2="176.9" y2="638.7" stroke="#1e1e1e" stroke-width="1.25"/>
<line x1="176.9" y1="650.5" x2="176.9" y2="660" stroke="#1e1e1e" stroke-width="1.25"/>
<line x1="174.1" y1="622" x2="179.7" y2="622" stroke="#1e1e1e" stroke-width="1.25"/>
<line x1="174.1" y1="660" x2="179.7" y2="660" stroke="#1e1e1e" stroke-width="1.25"/>
<path d="M171.8,650.5 L182,650.5 L182,645.4 L180,644.6 L182,643.8 L182,638.7 L171.8,638.7 L171.8,643.8 L173.8,644.6 L171.8,645.4 Z" fill="#ea974b" stroke="#333" stroke-width="0.95" fill-opacity="0.95" stroke-linejoin="miter"/>
<line x1="173.8" y1="644.6" x2="180" y2="644.6" stroke="#ef8a1c" stroke-width="1.4"/>
<line x1="242.5" y1="648.7" x2="242.5" y2="654.6" stroke="#1e1e1e" stroke-width="1.25"/>
<line x1="242.5" y1="658.9" x2="242.5" y2="660.3" stroke="#1e1e1e" stroke-width="1.25"/>
<line x1="239.7" y1="648.7" x2="245.3" y2="648.7" stroke="#1e1e1e" stroke-width="1.25"/>
<line x1="239.7" y1="660.3" x2="245.3" y2="660.3" stroke="#1e1e1e" stroke-width="1.25"/>
<path d="M237.4,658.9 L247.6,658.9 L247.6,657.8 L245.6,657 L247.6,656.2 L247.6,654.6 L237.4,654.6 L237.4,656.2 L239.4,657 L237.4,657.8 Z" fill="#6cc866" stroke="#333" stroke-width="0.95" fill-opacity="0.95" stroke-linejoin="miter"/>
<line x1="239.4" y1="657" x2="245.6" y2="657" stroke="#ef8a1c" stroke-width="1.4"/>
<line x1="307.6" y1="631.4" x2="307.6" y2="643.2" stroke="#1e1e1e" stroke-width="1.25"/>
<line x1="307.6" y1="651.6" x2="307.6" y2="660" stroke="#1e1e1e" stroke-width="1.25"/>
<line x1="304.8" y1="631.4" x2="310.4" y2="631.4" stroke="#1e1e1e" stroke-width="1.25"/>
<line x1="304.8" y1="660" x2="310.4" y2="660" stroke="#1e1e1e" stroke-width="1.25"/>
<path d="M302.5,651.6 L312.7,651.6 L312.7,648.5 L310.7,647.7 L312.7,646.9 L312.7,643.2 L302.5,643.2 L302.5,646.9 L304.5,647.7 L302.5,648.5 Z" fill="#6cc866" stroke="#333" stroke-width="0.95" fill-opacity="0.95" stroke-linejoin="miter"/>
<line x1="304.5" y1="647.7" x2="310.7" y2="647.7" stroke="#ef8a1c" stroke-width="1.4"/>
<path d="M111.4,566.3 L111.4,564.5 L176.9,564.5 L176.9,566.3" fill="none" stroke="#4682b4" stroke-width="1.9" stroke-linecap="square"/>
<text x="126.19" y="555.8" font-size="6.78" font-weight="bold" fill="#4682b4" textLength="35.67" lengthAdjust="spacingAndGlyphs" fill-opacity="0.9">H = 0.606</text>
<path d="M140.9,558.9 L140.9,561.5 M139.77,559.55 L142.03,560.85 M142.03,559.55 L139.77,560.85 " fill="none" stroke="#4682b4" stroke-width="0.6" stroke-opacity="0.9"/>
<path d="M144.15,558.9 L144.15,561.5 M143.02,559.55 L145.28,560.85 M145.28,559.55 L143.02,560.85 " fill="none" stroke="#4682b4" stroke-width="0.6" stroke-opacity="0.9"/>
<path d="M147.4,558.9 L147.4,561.5 M146.27,559.55 L148.53,560.85 M148.53,559.55 L146.27,560.85 " fill="none" stroke="#4682b4" stroke-width="0.6" stroke-opacity="0.9"/>
<path d="M242.5,566.3 L242.5,564.5 L307.6,564.5 L307.6,566.3" fill="none" stroke="#4682b4" stroke-width="1.9" stroke-linecap="square"/>
<text x="257.2" y="555.8" font-size="6.78" font-weight="bold" fill="#4682b4" textLength="35.49" lengthAdjust="spacingAndGlyphs" fill-opacity="0.9">H = 0.612</text>
<path d="M271.8,558.9 L271.8,561.5 M270.67,559.55 L272.93,560.85 M272.93,559.55 L270.67,560.85 " fill="none" stroke="#4682b4" stroke-width="0.6" stroke-opacity="0.9"/>
<path d="M275.05,558.9 L275.05,561.5 M273.92,559.55 L276.18,560.85 M276.18,559.55 L273.92,560.85 " fill="none" stroke="#4682b4" stroke-width="0.6" stroke-opacity="0.9"/>
<path d="M278.3,558.9 L278.3,561.5 M277.17,559.55 L279.43,560.85 M279.43,559.55 L277.17,560.85 " fill="none" stroke="#4682b4" stroke-width="0.6" stroke-opacity="0.9"/>
<path d="M111.4,552.3 L111.4,550.5 L242.5,550.5 L242.5,552.3" fill="none" stroke="#b41e22" stroke-width="1.9" stroke-linecap="square"/>
<text x="159.02" y="541.8" font-size="6.78" font-weight="bold" fill="#b41e22" textLength="35.57" lengthAdjust="spacingAndGlyphs" fill-opacity="0.9">H = 0.908</text>
<path d="M173.7,544.9 L173.7,547.5 M172.57,545.55 L174.83,546.85 M174.83,545.55 L172.57,546.85 " fill="none" stroke="#b41e22" stroke-width="0.6" stroke-opacity="0.9"/>
<path d="M176.95,544.9 L176.95,547.5 M175.82,545.55 L178.08,546.85 M178.08,545.55 L175.82,546.85 " fill="none" stroke="#b41e22" stroke-width="0.6" stroke-opacity="0.9"/>
<path d="M180.2,544.9 L180.2,547.5 M179.07,545.55 L181.33,546.85 M181.33,545.55 L179.07,546.85 " fill="none" stroke="#b41e22" stroke-width="0.6" stroke-opacity="0.9"/>
<path d="M176.9,535.8 L176.9,534 L307.6,534 L307.6,535.8" fill="none" stroke="#b41e22" stroke-width="1.9" stroke-linecap="square"/>
<text x="224.26" y="525.3" font-size="6.78" font-weight="bold" fill="#b41e22" textLength="35.47" lengthAdjust="spacingAndGlyphs" fill-opacity="0.9">H = 0.254</text>
<path d="M239,528.4 L239,531 M237.87,529.05 L240.13,530.35 M240.13,529.05 L237.87,530.35 " fill="none" stroke="#b41e22" stroke-width="0.6" stroke-opacity="0.9"/>
<path d="M242.25,528.4 L242.25,531 M241.12,529.05 L243.38,530.35 M243.38,529.05 L241.12,530.35 " fill="none" stroke="#b41e22" stroke-width="0.6" stroke-opacity="0.9"/>
<path d="M245.5,528.4 L245.5,531 M244.37,529.05 L246.63,530.35 M246.63,529.05 L244.37,530.35 " fill="none" stroke="#b41e22" stroke-width="0.6" stroke-opacity="0.9"/>
<rect x="79.2" y="508.8" width="261.2" height="162.3" fill="none" stroke="#262626" stroke-width="1.1"/>
<text x="105.01" y="690.7" font-size="16.32" font-style="italic" fill="#000" textLength="7.76" lengthAdjust="spacingAndGlyphs">s</text>
<text x="113.12" y="693.1" font-size="11.34" fill="#000" textLength="6.05" lengthAdjust="spacingAndGlyphs">1</text>
<text x="170.31" y="690.7" font-size="16.32" font-style="italic" fill="#000" textLength="7.76" lengthAdjust="spacingAndGlyphs">s</text>
<text x="178.7" y="693.1" font-size="11.34" fill="#000" textLength="6.11" lengthAdjust="spacingAndGlyphs">2</text>
<text x="235.61" y="690.7" font-size="16.32" font-style="italic" fill="#000" textLength="7.76" lengthAdjust="spacingAndGlyphs">s</text>
<text x="243.72" y="693.1" font-size="11.34" fill="#000" textLength="6.05" lengthAdjust="spacingAndGlyphs">1</text>
<text x="300.91" y="690.7" font-size="16.32" font-style="italic" fill="#000" textLength="7.76" lengthAdjust="spacingAndGlyphs">s</text>
<text x="309.3" y="693.1" font-size="11.34" fill="#000" textLength="6.11" lengthAdjust="spacingAndGlyphs">2</text>
<line x1="425.04" y1="508.7" x2="425.04" y2="671.1" stroke="#dedede" stroke-width="0.9"/>
<line x1="438.13" y1="508.7" x2="438.13" y2="671.1" stroke="#dedede" stroke-width="0.9"/>
<line x1="451.22" y1="508.7" x2="451.22" y2="671.1" stroke="#dedede" stroke-width="0.9"/>
<line x1="464.31" y1="508.7" x2="464.31" y2="671.1" stroke="#dedede" stroke-width="0.9"/>
<line x1="477.4" y1="508.7" x2="477.4" y2="671.1" stroke="#dedede" stroke-width="0.9"/>
<line x1="490.49" y1="508.7" x2="490.49" y2="671.1" stroke="#dedede" stroke-width="0.9"/>
<line x1="503.58" y1="508.7" x2="503.58" y2="671.1" stroke="#dedede" stroke-width="0.9"/>
<line x1="516.67" y1="508.7" x2="516.67" y2="671.1" stroke="#dedede" stroke-width="0.9"/>
<line x1="529.76" y1="508.7" x2="529.76" y2="671.1" stroke="#dedede" stroke-width="0.9"/>
<line x1="542.85" y1="508.7" x2="542.85" y2="671.1" stroke="#dedede" stroke-width="0.9"/>
<line x1="555.94" y1="508.7" x2="555.94" y2="671.1" stroke="#dedede" stroke-width="0.9"/>
<line x1="569.03" y1="508.7" x2="569.03" y2="671.1" stroke="#dedede" stroke-width="0.9"/>
<line x1="582.12" y1="508.7" x2="582.12" y2="671.1" stroke="#dedede" stroke-width="0.9"/>
<line x1="595.21" y1="508.7" x2="595.21" y2="671.1" stroke="#dedede" stroke-width="0.9"/>
<line x1="608.3" y1="508.7" x2="608.3" y2="671.1" stroke="#dedede" stroke-width="0.9"/>
<line x1="621.39" y1="508.7" x2="621.39" y2="671.1" stroke="#dedede" stroke-width="0.9"/>
<line x1="634.48" y1="508.7" x2="634.48" y2="671.1" stroke="#dedede" stroke-width="0.9"/>
<line x1="647.57" y1="508.7" x2="647.57" y2="671.1" stroke="#dedede" stroke-width="0.9"/>
<line x1="660.66" y1="508.7" x2="660.66" y2="671.1" stroke="#dedede" stroke-width="0.9"/>
<line x1="673.75" y1="508.7" x2="673.75" y2="671.1" stroke="#dedede" stroke-width="0.9"/>
<line x1="418.5" y1="657.84" x2="680.3" y2="657.84" stroke="#dedede" stroke-width="0.9"/>
<line x1="418.5" y1="630.76" x2="680.3" y2="630.76" stroke="#dedede" stroke-width="0.9"/>
<line x1="418.5" y1="617.22" x2="680.3" y2="617.22" stroke="#dedede" stroke-width="0.9"/>
<line x1="418.5" y1="603.69" x2="680.3" y2="603.69" stroke="#dedede" stroke-width="0.9"/>
<line x1="418.5" y1="576.61" x2="680.3" y2="576.61" stroke="#dedede" stroke-width="0.9"/>
<line x1="418.5" y1="563.08" x2="680.3" y2="563.08" stroke="#dedede" stroke-width="0.9"/>
<line x1="418.5" y1="549.54" x2="680.3" y2="549.54" stroke="#dedede" stroke-width="0.9"/>
<line x1="418.5" y1="522.46" x2="680.3" y2="522.46" stroke="#dedede" stroke-width="0.9"/>
<line x1="418.5" y1="508.93" x2="680.3" y2="508.93" stroke="#dedede" stroke-width="0.9"/>
<line x1="418.5" y1="644.3" x2="680.3" y2="644.3" stroke="#e6e6e6" stroke-width="1.6"/>
<line x1="418.5" y1="590.15" x2="680.3" y2="590.15" stroke="#e6e6e6" stroke-width="1.6"/>
<line x1="418.5" y1="536" x2="680.3" y2="536" stroke="#e6e6e6" stroke-width="1.6"/>
<line x1="416.3" y1="671.38" x2="418.5" y2="671.38" stroke="#222" stroke-width="0.9"/>
<line x1="416.3" y1="657.84" x2="418.5" y2="657.84" stroke="#222" stroke-width="0.9"/>
<line x1="416.3" y1="630.76" x2="418.5" y2="630.76" stroke="#222" stroke-width="0.9"/>
<line x1="416.3" y1="617.22" x2="418.5" y2="617.22" stroke="#222" stroke-width="0.9"/>
<line x1="416.3" y1="603.69" x2="418.5" y2="603.69" stroke="#222" stroke-width="0.9"/>
<line x1="416.3" y1="576.61" x2="418.5" y2="576.61" stroke="#222" stroke-width="0.9"/>
<line x1="416.3" y1="563.08" x2="418.5" y2="563.08" stroke="#222" stroke-width="0.9"/>
<line x1="416.3" y1="549.54" x2="418.5" y2="549.54" stroke="#222" stroke-width="0.9"/>
<line x1="416.3" y1="522.46" x2="418.5" y2="522.46" stroke="#222" stroke-width="0.9"/>
<line x1="416.3" y1="508.93" x2="418.5" y2="508.93" stroke="#222" stroke-width="0.9"/>
<line x1="414.5" y1="644.3" x2="418.5" y2="644.3" stroke="#222" stroke-width="1"/>
<text x="401.73" y="649.85" font-size="16.11" fill="#000" textLength="9" lengthAdjust="spacingAndGlyphs" stroke="#000" stroke-width="0.12">0</text>
<line x1="414.5" y1="590.15" x2="418.5" y2="590.15" stroke="#222" stroke-width="1"/>
<text x="402.21" y="595.7" font-size="16.11" fill="#000" textLength="8.68" lengthAdjust="spacingAndGlyphs" stroke="#000" stroke-width="0.12">2</text>
<line x1="414.5" y1="536" x2="418.5" y2="536" stroke="#222" stroke-width="1"/>
<text x="401.57" y="541.55" font-size="16.11" fill="#000" textLength="9" lengthAdjust="spacingAndGlyphs" stroke="#000" stroke-width="0.12">4</text>
<line x1="425.04" y1="671.1" x2="425.04" y2="673.3" stroke="#222" stroke-width="0.9"/>
<line x1="438.13" y1="671.1" x2="438.13" y2="673.3" stroke="#222" stroke-width="0.9"/>
<line x1="464.31" y1="671.1" x2="464.31" y2="673.3" stroke="#222" stroke-width="0.9"/>
<line x1="477.4" y1="671.1" x2="477.4" y2="673.3" stroke="#222" stroke-width="0.9"/>
<line x1="490.49" y1="671.1" x2="490.49" y2="673.3" stroke="#222" stroke-width="0.9"/>
<line x1="503.58" y1="671.1" x2="503.58" y2="673.3" stroke="#222" stroke-width="0.9"/>
<line x1="529.76" y1="671.1" x2="529.76" y2="673.3" stroke="#222" stroke-width="0.9"/>
<line x1="542.85" y1="671.1" x2="542.85" y2="673.3" stroke="#222" stroke-width="0.9"/>
<line x1="555.94" y1="671.1" x2="555.94" y2="673.3" stroke="#222" stroke-width="0.9"/>
<line x1="569.03" y1="671.1" x2="569.03" y2="673.3" stroke="#222" stroke-width="0.9"/>
<line x1="595.21" y1="671.1" x2="595.21" y2="673.3" stroke="#222" stroke-width="0.9"/>
<line x1="608.3" y1="671.1" x2="608.3" y2="673.3" stroke="#222" stroke-width="0.9"/>
<line x1="621.39" y1="671.1" x2="621.39" y2="673.3" stroke="#222" stroke-width="0.9"/>
<line x1="634.48" y1="671.1" x2="634.48" y2="673.3" stroke="#222" stroke-width="0.9"/>
<line x1="660.66" y1="671.1" x2="660.66" y2="673.3" stroke="#222" stroke-width="0.9"/>
<line x1="673.75" y1="671.1" x2="673.75" y2="673.3" stroke="#222" stroke-width="0.9"/>
<line x1="451.22" y1="671.1" x2="451.22" y2="675.1" stroke="#222" stroke-width="1"/>
<line x1="516.67" y1="671.1" x2="516.67" y2="675.1" stroke="#222" stroke-width="1"/>
<line x1="582.12" y1="671.1" x2="582.12" y2="675.1" stroke="#222" stroke-width="1"/>
<line x1="647.57" y1="671.1" x2="647.57" y2="675.1" stroke="#222" stroke-width="1"/>
<rect x="618.6" y="512.7" width="57.3" height="24.3" fill="rgba(255,255,255,0.85)" stroke="#d9d9d9" stroke-width="0.8" rx="1.8"/>
<rect x="621.3" y="516.4" width="15.4" height="5.4" fill="#ea974b" stroke="#262626" stroke-width="0.9"/>
<rect x="621.3" y="527.4" width="15.4" height="5.4" fill="#6cc866" stroke="#262626" stroke-width="0.9"/>
<text x="642.09" y="521.4" font-size="7.42" fill="#333" textLength="27.66" lengthAdjust="spacingAndGlyphs">pRPS6-</text>
<text x="642.08" y="532.3" font-size="7.42" fill="#333" textLength="30.53" lengthAdjust="spacingAndGlyphs">pRPS6+</text>
<line x1="451.4" y1="621.2" x2="451.4" y2="634.3" stroke="#1e1e1e" stroke-width="1.25"/>
<line x1="451.4" y1="643.6" x2="451.4" y2="657.3" stroke="#1e1e1e" stroke-width="1.25"/>
<line x1="448.6" y1="621.2" x2="454.2" y2="621.2" stroke="#1e1e1e" stroke-width="1.25"/>
<line x1="448.6" y1="657.3" x2="454.2" y2="657.3" stroke="#1e1e1e" stroke-width="1.25"/>
<path d="M446.3,643.6 L456.5,643.6 L456.5,639.9 L454.5,639.1 L456.5,638.3 L456.5,634.3 L446.3,634.3 L446.3,638.3 L448.3,639.1 L446.3,639.9 Z" fill="#ea974b" stroke="#333" stroke-width="0.95" fill-opacity="0.95" stroke-linejoin="miter"/>
<line x1="448.3" y1="639.1" x2="454.5" y2="639.1" stroke="#ef8a1c" stroke-width="1.4"/>
<line x1="516.7" y1="609.7" x2="516.7" y2="630.5" stroke="#1e1e1e" stroke-width="1.25"/>
<line x1="516.7" y1="645" x2="516.7" y2="666.2" stroke="#1e1e1e" stroke-width="1.25"/>
<line x1="513.9" y1="609.7" x2="519.5" y2="609.7" stroke="#1e1e1e" stroke-width="1.25"/>
<line x1="513.9" y1="666.2" x2="519.5" y2="666.2" stroke="#1e1e1e" stroke-width="1.25"/>
<path d="M511.6,645 L521.8,645 L521.8,638.9 L519.8,638.1 L521.8,637.3 L521.8,630.5 L511.6,630.5 L511.6,637.3 L513.6,638.1 L511.6,638.9 Z" fill="#ea974b" stroke="#333" stroke-width="0.95" fill-opacity="0.95" stroke-linejoin="miter"/>
<line x1="513.6" y1="638.1" x2="519.8" y2="638.1" stroke="#ef8a1c" stroke-width="1.4"/>
<line x1="582" y1="584.6" x2="582" y2="625.4" stroke="#1e1e1e" stroke-width="1.25"/>
<line x1="582" y1="653.5" x2="582" y2="671.1" stroke="#1e1e1e" stroke-width="1.25"/>
<line x1="579.2" y1="584.6" x2="584.8" y2="584.6" stroke="#1e1e1e" stroke-width="1.25"/>
<line x1="579.2" y1="671.1" x2="584.8" y2="671.1" stroke="#1e1e1e" stroke-width="1.25"/>
<path d="M576.9,653.5 L587.1,653.5 L587.1,638.7 L585.1,637.9 L587.1,637.1 L587.1,625.4 L576.9,625.4 L576.9,637.1 L578.9,637.9 L576.9,638.7 Z" fill="#6cc866" stroke="#333" stroke-width="0.95" fill-opacity="0.95" stroke-linejoin="miter"/>
<line x1="578.9" y1="637.9" x2="585.1" y2="637.9" stroke="#ef8a1c" stroke-width="1.4"/>
<line x1="647.4" y1="616.5" x2="647.4" y2="633.4" stroke="#1e1e1e" stroke-width="1.25"/>
<line x1="647.4" y1="645" x2="647.4" y2="662" stroke="#1e1e1e" stroke-width="1.25"/>
<line x1="644.6" y1="616.5" x2="650.2" y2="616.5" stroke="#1e1e1e" stroke-width="1.25"/>
<line x1="644.6" y1="662" x2="650.2" y2="662" stroke="#1e1e1e" stroke-width="1.25"/>
<path d="M642.3,645 L652.5,645 L652.5,640.1 L650.5,639.3 L652.5,638.5 L652.5,633.4 L642.3,633.4 L642.3,638.5 L644.3,639.3 L642.3,640.1 Z" fill="#6cc866" stroke="#333" stroke-width="0.95" fill-opacity="0.95" stroke-linejoin="miter"/>
<line x1="644.3" y1="639.3" x2="650.5" y2="639.3" stroke="#ef8a1c" stroke-width="1.4"/>
<path d="M451.4,577.1 L451.4,575.3 L516.7,575.3 L516.7,577.1" fill="none" stroke="#4682b4" stroke-width="1.9" stroke-linecap="square"/>
<text x="466.2" y="566.6" font-size="6.78" font-weight="bold" fill="#4682b4" textLength="35.49" lengthAdjust="spacingAndGlyphs" fill-opacity="0.9">H = 0.192</text>
<path d="M480.8,569.7 L480.8,572.3 M479.67,570.35 L481.93,571.65 M481.93,570.35 L479.67,571.65 " fill="none" stroke="#4682b4" stroke-width="0.6" stroke-opacity="0.9"/>
<path d="M484.05,569.7 L484.05,572.3 M482.92,570.35 L485.18,571.65 M485.18,570.35 L482.92,571.65 " fill="none" stroke="#4682b4" stroke-width="0.6" stroke-opacity="0.9"/>
<path d="M487.3,569.7 L487.3,572.3 M486.17,570.35 L488.43,571.65 M488.43,570.35 L486.17,571.65 " fill="none" stroke="#4682b4" stroke-width="0.6" stroke-opacity="0.9"/>
<path d="M582,576.9 L582,575.1 L647.4,575.1 L647.4,576.9" fill="none" stroke="#4682b4" stroke-width="1.9" stroke-linecap="square"/>
<text x="596.85" y="566.4" font-size="6.78" font-weight="bold" fill="#4682b4" textLength="35.49" lengthAdjust="spacingAndGlyphs" fill-opacity="0.9">H = 0.332</text>
<path d="M614.7,569.5 L614.7,572.1 M613.57,570.15 L615.83,571.45 M615.83,570.15 L613.57,571.45 " fill="none" stroke="#4682b4" stroke-width="0.6" stroke-opacity="0.9"/>
<path d="M516.7,548.5 L516.7,546.7 L647.4,546.7 L647.4,548.5" fill="none" stroke="#b41e22" stroke-width="1.9" stroke-linecap="square"/>
<text x="564.17" y="538" font-size="6.78" font-weight="bold" fill="#b41e22" textLength="35.57" lengthAdjust="spacingAndGlyphs" fill-opacity="0.9">H = 0.107</text>
<path d="M578.8,541.1 L578.8,543.7 M577.67,541.75 L579.93,543.05 M579.93,541.75 L577.67,543.05 " fill="none" stroke="#b41e22" stroke-width="0.6" stroke-opacity="0.9"/>
<path d="M582.05,541.1 L582.05,543.7 M580.92,541.75 L583.18,543.05 M583.18,541.75 L580.92,543.05 " fill="none" stroke="#b41e22" stroke-width="0.6" stroke-opacity="0.9"/>
<path d="M585.3,541.1 L585.3,543.7 M584.17,541.75 L586.43,543.05 M586.43,541.75 L584.17,543.05 " fill="none" stroke="#b41e22" stroke-width="0.6" stroke-opacity="0.9"/>
<rect x="418.5" y="508.7" width="261.8" height="162.4" fill="none" stroke="#262626" stroke-width="1.1"/>
<text x="444.39" y="690.7" font-size="16.32" font-style="italic" fill="#000" textLength="7.76" lengthAdjust="spacingAndGlyphs">s</text>
<text x="452.5" y="693.1" font-size="11.34" fill="#000" textLength="6.05" lengthAdjust="spacingAndGlyphs">1</text>
<text x="509.84" y="690.7" font-size="16.32" font-style="italic" fill="#000" textLength="7.76" lengthAdjust="spacingAndGlyphs">s</text>
<text x="518.22" y="693.1" font-size="11.34" fill="#000" textLength="6.11" lengthAdjust="spacingAndGlyphs">2</text>
<text x="575.29" y="690.7" font-size="16.32" font-style="italic" fill="#000" textLength="7.76" lengthAdjust="spacingAndGlyphs">s</text>
<text x="583.4" y="693.1" font-size="11.34" fill="#000" textLength="6.05" lengthAdjust="spacingAndGlyphs">1</text>
<text x="640.74" y="690.7" font-size="16.32" font-style="italic" fill="#000" textLength="7.76" lengthAdjust="spacingAndGlyphs">s</text>
<text x="649.12" y="693.1" font-size="11.34" fill="#000" textLength="6.11" lengthAdjust="spacingAndGlyphs">2</text>
<g fill="rgb(152,88,200)" fill-opacity="0.5" stroke="#000" stroke-opacity="0.35" stroke-width="0.28600000000000003"><rect x="82.5" y="321.16" width="2.2" height="8.24"/><rect x="84.7" y="308.31" width="2.2" height="21.09"/><rect x="86.9" y="290.72" width="2.2" height="38.68"/><rect x="89.1" y="278.69" width="2.2" height="50.71"/><rect x="91.3" y="272.53" width="2.2" height="56.87"/><rect x="93.5" y="270.02" width="2.2" height="59.38"/><rect x="95.7" y="268.16" width="2.2" height="61.24"/><rect x="97.9" y="268.75" width="2.2" height="60.65"/><rect x="100.1" y="274.53" width="2.2" height="54.87"/><rect x="102.3" y="278.42" width="2.2" height="50.98"/><rect x="104.5" y="279.3" width="2.2" height="50.1"/><rect x="106.7" y="285.41" width="2.2" height="43.99"/><rect x="108.9" y="289.2" width="2.2" height="40.2"/><rect x="111.1" y="295.97" width="2.2" height="33.43"/><rect x="113.3" y="298.81" width="2.2" height="30.59"/><rect x="115.5" y="301.91" width="2.2" height="27.49"/><rect x="117.7" y="306.48" width="2.2" height="22.92"/><rect x="119.9" y="308.45" width="2.2" height="20.95"/><rect x="122.1" y="311.28" width="2.2" height="18.12"/><rect x="124.3" y="314.74" width="2.2" height="14.66"/><rect x="126.5" y="316.73" width="2.2" height="12.67"/><rect x="128.7" y="318.01" width="2.2" height="11.39"/><rect x="130.9" y="319.25" width="2.2" height="10.15"/><rect x="133.1" y="320.92" width="2.2" height="8.48"/><rect x="135.3" y="322.07" width="2.2" height="7.33"/><rect x="137.5" y="322.91" width="2.2" height="6.49"/><rect x="139.7" y="323.97" width="2.2" height="5.43"/><rect x="141.9" y="324.7" width="2.2" height="4.7"/><rect x="144.1" y="325.36" width="2.2" height="4.04"/><rect x="146.3" y="326.01" width="2.2" height="3.39"/><rect x="148.5" y="326.63" width="2.2" height="2.77"/><rect x="150.7" y="327.08" width="2.2" height="2.32"/><rect x="152.9" y="327.43" width="2.2" height="1.97"/><rect x="155.1" y="327.66" width="2.2" height="1.74"/><rect x="157.3" y="327.9" width="2.2" height="1.5"/><rect x="159.5" y="328.12" width="2.2" height="1.28"/><rect x="161.7" y="328.21" width="2.2" height="1.19"/><rect x="163.9" y="328.38" width="2.2" height="1.02"/><rect x="166.1" y="328.49" width="2.2" height="0.91"/><rect x="168.3" y="328.6" width="2.2" height="0.8"/><rect x="170.5" y="328.62" width="2.2" height="0.78"/><rect x="172.7" y="328.69" width="2.2" height="0.71"/><rect x="174.9" y="328.78" width="2.2" height="0.62"/><rect x="177.1" y="328.81" width="2.2" height="0.59"/><rect x="179.3" y="328.84" width="2.2" height="0.56"/><rect x="181.5" y="328.88" width="2.2" height="0.52"/><rect x="183.7" y="328.91" width="2.2" height="0.49"/><rect x="185.9" y="328.97" width="2.2" height="0.43"/><rect x="188.1" y="328.99" width="2.2" height="0.41"/><rect x="190.3" y="329.02" width="2.2" height="0.38"/><rect x="192.5" y="329.05" width="2.2" height="0.35"/><rect x="194.7" y="329.07" width="2.2" height="0.33"/><rect x="196.9" y="329.08" width="2.2" height="0.32"/><rect x="199.1" y="329.09" width="2.2" height="0.31"/><rect x="201.3" y="329.12" width="2.2" height="0.28"/><rect x="203.5" y="329.13" width="2.2" height="0.27"/><rect x="205.7" y="329.15" width="2.2" height="0.25"/><rect x="207.9" y="329.16" width="2.2" height="0.24"/><rect x="210.1" y="329.16" width="2.2" height="0.24"/><rect x="212.3" y="329.18" width="2.2" height="0.22"/><rect x="214.5" y="329.19" width="2.2" height="0.21"/><rect x="216.7" y="329.19" width="2.2" height="0.21"/><rect x="218.9" y="329.2" width="2.2" height="0.2"/><rect x="221.1" y="329.2" width="2.2" height="0.2"/><rect x="223.3" y="329.22" width="2.2" height="0.18"/><rect x="225.5" y="329.22" width="2.2" height="0.18"/><rect x="227.7" y="329.23" width="2.2" height="0.17"/><rect x="229.9" y="329.23" width="2.2" height="0.17"/><rect x="232.1" y="329.24" width="2.2" height="0.16"/><rect x="234.3" y="329.24" width="2.2" height="0.16"/><rect x="236.5" y="329.25" width="2.2" height="0.15"/><rect x="238.7" y="329.26" width="2.2" height="0.14"/><rect x="240.9" y="329.26" width="2.2" height="0.14"/><rect x="243.1" y="329.26" width="2.2" height="0.14"/><rect x="245.3" y="329.26" width="2.2" height="0.14"/><rect x="247.5" y="329.27" width="2.2" height="0.13"/><rect x="249.7" y="329.28" width="2.2" height="0.12"/><rect x="251.9" y="329.28" width="2.2" height="0.12"/><rect x="254.1" y="329.28" width="2.2" height="0.12"/><rect x="256.3" y="329.28" width="2.2" height="0.12"/><rect x="258.5" y="329.29" width="2.2" height="0.11"/></g>
<g fill="rgb(45,209,195)" fill-opacity="0.5" stroke="#000" stroke-opacity="0.35" stroke-width="0.28600000000000003"><rect x="83.6" y="323.95" width="2.2" height="5.45"/><rect x="85.8" y="315.73" width="2.2" height="13.67"/><rect x="88" y="307.16" width="2.2" height="22.24"/><rect x="90.2" y="294.39" width="2.2" height="35.01"/><rect x="92.4" y="282.94" width="2.2" height="46.46"/><rect x="94.6" y="275.98" width="2.2" height="53.42"/><rect x="96.8" y="273.52" width="2.2" height="55.88"/><rect x="99" y="273.52" width="2.2" height="55.88"/><rect x="101.2" y="273.53" width="2.2" height="55.87"/><rect x="103.4" y="275.83" width="2.2" height="53.57"/><rect x="105.6" y="279.67" width="2.2" height="49.73"/><rect x="107.8" y="285.24" width="2.2" height="44.16"/><rect x="110" y="289.39" width="2.2" height="40.01"/><rect x="112.2" y="294.23" width="2.2" height="35.17"/><rect x="114.4" y="297.81" width="2.2" height="31.59"/><rect x="116.6" y="301.05" width="2.2" height="28.35"/><rect x="118.8" y="304.5" width="2.2" height="24.9"/><rect x="121" y="307.99" width="2.2" height="21.41"/><rect x="123.2" y="310.46" width="2.2" height="18.94"/><rect x="125.4" y="312.58" width="2.2" height="16.82"/><rect x="127.6" y="314.45" width="2.2" height="14.95"/><rect x="129.8" y="315.88" width="2.2" height="13.52"/><rect x="132" y="316.69" width="2.2" height="12.71"/><rect x="134.2" y="317.76" width="2.2" height="11.64"/><rect x="136.4" y="318.61" width="2.2" height="10.79"/><rect x="138.6" y="319.18" width="2.2" height="10.22"/><rect x="140.8" y="320.2" width="2.2" height="9.2"/><rect x="143" y="321.04" width="2.2" height="8.36"/><rect x="145.2" y="322.17" width="2.2" height="7.23"/><rect x="147.4" y="323.22" width="2.2" height="6.18"/><rect x="149.6" y="323.95" width="2.2" height="5.45"/><rect x="151.8" y="324.7" width="2.2" height="4.7"/><rect x="154" y="325.19" width="2.2" height="4.21"/><rect x="156.2" y="325.59" width="2.2" height="3.81"/><rect x="158.4" y="326.11" width="2.2" height="3.29"/><rect x="160.6" y="326.59" width="2.2" height="2.81"/><rect x="162.8" y="326.83" width="2.2" height="2.57"/><rect x="165" y="327.14" width="2.2" height="2.26"/><rect x="167.2" y="327.4" width="2.2" height="2"/><rect x="169.4" y="327.58" width="2.2" height="1.82"/><rect x="171.6" y="327.78" width="2.2" height="1.62"/><rect x="173.8" y="327.94" width="2.2" height="1.46"/><rect x="176" y="328.14" width="2.2" height="1.26"/><rect x="178.2" y="328.24" width="2.2" height="1.16"/><rect x="180.4" y="328.37" width="2.2" height="1.03"/><rect x="182.6" y="328.53" width="2.2" height="0.87"/><rect x="184.8" y="328.61" width="2.2" height="0.79"/><rect x="187" y="328.71" width="2.2" height="0.69"/><rect x="189.2" y="328.8" width="2.2" height="0.6"/><rect x="191.4" y="328.87" width="2.2" height="0.53"/><rect x="193.6" y="328.93" width="2.2" height="0.47"/><rect x="195.8" y="328.98" width="2.2" height="0.42"/><rect x="198" y="329.04" width="2.2" height="0.36"/><rect x="200.2" y="329.08" width="2.2" height="0.32"/><rect x="202.4" y="329.13" width="2.2" height="0.27"/><rect x="204.6" y="329.16" width="2.2" height="0.24"/><rect x="206.8" y="329.18" width="2.2" height="0.22"/><rect x="209" y="329.21" width="2.2" height="0.19"/><rect x="211.2" y="329.22" width="2.2" height="0.18"/><rect x="213.4" y="329.23" width="2.2" height="0.17"/><rect x="215.6" y="329.24" width="2.2" height="0.16"/><rect x="217.8" y="329.26" width="2.2" height="0.14"/><rect x="220" y="329.27" width="2.2" height="0.13"/><rect x="222.2" y="329.28" width="2.2" height="0.12"/><rect x="224.4" y="329.28" width="2.2" height="0.12"/><rect x="226.6" y="329.29" width="2.2" height="0.11"/><rect x="228.8" y="329.3" width="2.2" height="0.1"/><rect x="231" y="329.31" width="2.2" height="0.09"/><rect x="233.2" y="329.31" width="2.2" height="0.09"/><rect x="235.4" y="329.32" width="2.2" height="0.08"/><rect x="237.6" y="329.32" width="2.2" height="0.08"/><rect x="239.8" y="329.33" width="2.2" height="0.07"/><rect x="242" y="329.33" width="2.2" height="0.07"/><rect x="244.2" y="329.33" width="2.2" height="0.07"/><rect x="246.4" y="329.34" width="2.2" height="0.06"/><rect x="248.6" y="329.34" width="2.2" height="0.06"/><rect x="250.8" y="329.34" width="2.2" height="0.06"/><rect x="253" y="329.35" width="2.2" height="0.05"/><rect x="255.2" y="329.35" width="2.2" height="0.05"/></g>
<path d="M82.7,326.5 L82.79,325.96 L82.9,325.27 L83.03,324.45 L83.18,323.53 L83.34,322.54 L83.51,321.49 L83.68,320.42 L83.86,319.34 L84.03,318.29 L84.2,317.28 L84.35,316.34 L84.5,315.5 L84.63,314.75 L84.76,314.08 L84.89,313.46 L85.01,312.89 L85.13,312.33 L85.25,311.77 L85.37,311.21 L85.49,310.61 L85.61,309.97 L85.74,309.27 L85.87,308.48 L86,307.6 L86.14,306.62 L86.28,305.55 L86.42,304.42 L86.56,303.23 L86.71,301.99 L86.86,300.71 L87.01,299.42 L87.16,298.11 L87.31,296.8 L87.47,295.51 L87.64,294.23 L87.8,293 L87.97,291.76 L88.14,290.48 L88.31,289.18 L88.49,287.86 L88.67,286.54 L88.85,285.23 L89.03,283.96 L89.22,282.72 L89.41,281.55 L89.61,280.44 L89.8,279.42 L90,278.5 L90.2,277.68 L90.4,276.94 L90.6,276.28 L90.8,275.68 L91,275.14 L91.21,274.65 L91.43,274.2 L91.64,273.77 L91.87,273.37 L92.1,272.98 L92.35,272.59 L92.6,272.2 L92.86,271.8 L93.14,271.41 L93.43,271.04 L93.72,270.68 L94.02,270.34 L94.33,270.02 L94.64,269.74 L94.96,269.49 L95.27,269.27 L95.58,269.1 L95.89,268.98 L96.2,268.9 L96.51,268.87 L96.81,268.9 L97.12,268.96 L97.43,269.07 L97.74,269.21 L98.05,269.39 L98.36,269.6 L98.67,269.84 L98.98,270.1 L99.29,270.38 L99.59,270.69 L99.9,271 L100.2,271.34 L100.5,271.71 L100.8,272.11 L101.1,272.54 L101.4,273 L101.7,273.48 L102,273.97 L102.3,274.48 L102.6,275 L102.9,275.53 L103.2,276.06 L103.5,276.6 L103.8,277.14 L104.1,277.69 L104.4,278.25 L104.7,278.83 L105,279.41 L105.3,280.01 L105.6,280.62 L105.91,281.24 L106.22,281.88 L106.54,282.54 L106.87,283.21 L107.2,283.9 L107.54,284.62 L107.89,285.37 L108.25,286.16 L108.61,286.96 L108.98,287.78 L109.36,288.61 L109.73,289.44 L110.11,290.26 L110.48,291.08 L110.86,291.88 L111.23,292.65 L111.6,293.4 L111.96,294.12 L112.32,294.81 L112.67,295.49 L113.01,296.15 L113.36,296.8 L113.71,297.44 L114.07,298.09 L114.43,298.73 L114.8,299.38 L115.19,300.04 L115.58,300.71 L116,301.4 L116.43,302.11 L116.87,302.84 L117.32,303.58 L117.77,304.33 L118.24,305.09 L118.72,305.84 L119.21,306.6 L119.7,307.35 L120.21,308.09 L120.73,308.81 L121.26,309.52 L121.8,310.2 L122.36,310.87 L122.93,311.54 L123.52,312.2 L124.12,312.85 L124.74,313.49 L125.36,314.12 L125.98,314.74 L126.61,315.34 L127.24,315.91 L127.87,316.47 L128.49,317 L129.1,317.5 L129.69,317.97 L130.27,318.4 L130.82,318.81 L131.37,319.19 L131.92,319.54 L132.48,319.89 L133.05,320.22 L133.64,320.55 L134.27,320.87 L134.93,321.21 L135.64,321.55 L136.4,321.9 L137.22,322.27 L138.1,322.65 L139.02,323.04 L139.97,323.43 L140.96,323.83 L141.97,324.21 L143,324.59 L144.04,324.96 L145.07,325.3 L146.1,325.63 L147.11,325.93 L148.1,326.2 L149.05,326.44 L149.97,326.66 L150.87,326.85 L151.76,327.02 L152.65,327.18 L153.54,327.32 L154.46,327.45 L155.42,327.57 L156.42,327.68 L157.47,327.79 L158.6,327.89 L159.8,328 L161.01,328.1 L162.18,328.2 L163.34,328.28 L164.5,328.36 L165.72,328.42 L167.01,328.49 L168.4,328.55 L169.93,328.6 L171.62,328.65 L173.51,328.7 L175.63,328.75 L178,328.8 L180.42,328.85 L182.71,328.89 L184.99,328.93 L187.33,328.97 L189.84,329.01 L192.61,329.04 L195.73,329.07 L199.3,329.1 L203.42,329.12 L208.18,329.15 L213.68,329.17 L220,329.2 L227.68,329.22 L236.94,329.25 L247.43,329.27 L258.81,329.29 L270.75,329.31 L282.88,329.32 L294.86,329.34 L306.35,329.36 L317.01,329.37 L326.48,329.38 L334.43,329.39 L340.5,329.4" fill="none" stroke="#9a5ccc" stroke-width="1.6" stroke-linejoin="round" stroke-linecap="round"/>
<path d="M83.8,327.2 L83.93,326.76 L84.08,326.21 L84.27,325.57 L84.48,324.86 L84.7,324.08 L84.94,323.25 L85.19,322.38 L85.44,321.5 L85.7,320.6 L85.94,319.71 L86.18,318.84 L86.4,318 L86.61,317.19 L86.82,316.38 L87.03,315.58 L87.24,314.78 L87.45,313.96 L87.66,313.14 L87.86,312.29 L88.07,311.42 L88.28,310.52 L88.48,309.59 L88.69,308.62 L88.9,307.6 L89.1,306.53 L89.3,305.41 L89.5,304.24 L89.69,303.04 L89.89,301.81 L90.08,300.56 L90.28,299.29 L90.49,298.01 L90.7,296.74 L90.92,295.48 L91.15,294.23 L91.4,293 L91.66,291.76 L91.95,290.46 L92.25,289.12 L92.56,287.77 L92.87,286.42 L93.19,285.09 L93.52,283.8 L93.83,282.56 L94.14,281.39 L94.45,280.31 L94.73,279.34 L95,278.5 L95.25,277.79 L95.49,277.18 L95.72,276.68 L95.94,276.27 L96.15,275.92 L96.36,275.64 L96.56,275.4 L96.76,275.19 L96.97,275 L97.17,274.81 L97.38,274.62 L97.6,274.4 L97.82,274.17 L98.03,273.95 L98.24,273.74 L98.44,273.54 L98.65,273.36 L98.86,273.21 L99.08,273.07 L99.3,272.97 L99.53,272.9 L99.77,272.86 L100.03,272.86 L100.3,272.9 L100.59,272.98 L100.89,273.08 L101.2,273.22 L101.52,273.38 L101.85,273.58 L102.19,273.81 L102.54,274.07 L102.89,274.36 L103.24,274.69 L103.6,275.06 L103.95,275.46 L104.3,275.9 L104.65,276.39 L105.01,276.93 L105.37,277.51 L105.74,278.14 L106.11,278.8 L106.48,279.49 L106.85,280.21 L107.23,280.94 L107.6,281.68 L107.97,282.42 L108.34,283.16 L108.7,283.9 L109.06,284.64 L109.42,285.41 L109.78,286.2 L110.14,287.01 L110.49,287.83 L110.85,288.65 L111.21,289.47 L111.56,290.29 L111.92,291.1 L112.28,291.89 L112.64,292.66 L113,293.4 L113.36,294.12 L113.71,294.82 L114.06,295.51 L114.4,296.18 L114.75,296.84 L115.1,297.49 L115.46,298.14 L115.82,298.79 L116.19,299.44 L116.58,300.08 L116.98,300.74 L117.4,301.4 L117.83,302.07 L118.28,302.76 L118.74,303.45 L119.2,304.14 L119.68,304.84 L120.17,305.53 L120.67,306.22 L121.17,306.89 L121.69,307.55 L122.22,308.19 L122.75,308.81 L123.3,309.4 L123.86,309.97 L124.44,310.53 L125.03,311.08 L125.63,311.61 L126.24,312.13 L126.86,312.64 L127.49,313.13 L128.11,313.6 L128.74,314.05 L129.37,314.49 L129.99,314.9 L130.6,315.3 L131.21,315.67 L131.83,316.03 L132.46,316.35 L133.09,316.66 L133.72,316.95 L134.34,317.23 L134.96,317.49 L135.58,317.75 L136.18,317.99 L136.77,318.23 L137.34,318.47 L137.9,318.7 L138.43,318.92 L138.94,319.13 L139.42,319.31 L139.89,319.49 L140.35,319.66 L140.8,319.82 L141.25,319.98 L141.71,320.14 L142.18,320.31 L142.66,320.5 L143.17,320.69 L143.7,320.9 L144.25,321.13 L144.81,321.38 L145.38,321.63 L145.97,321.9 L146.56,322.17 L147.16,322.45 L147.78,322.73 L148.4,323 L149.03,323.27 L149.68,323.52 L150.33,323.77 L151,324 L151.67,324.22 L152.35,324.43 L153.03,324.63 L153.72,324.83 L154.42,325.02 L155.13,325.2 L155.86,325.38 L156.6,325.55 L157.37,325.72 L158.15,325.88 L158.96,326.04 L159.8,326.2 L160.63,326.35 L161.45,326.49 L162.25,326.63 L163.07,326.76 L163.9,326.89 L164.76,327.01 L165.67,327.13 L166.64,327.25 L167.69,327.36 L168.82,327.48 L170.05,327.59 L171.4,327.7 L172.83,327.81 L174.32,327.93 L175.87,328.04 L177.49,328.15 L179.18,328.26 L180.95,328.37 L182.81,328.47 L184.76,328.57 L186.8,328.66 L188.96,328.75 L191.22,328.83 L193.6,328.9 L195.9,328.96 L197.99,329.02 L199.96,329.06 L201.94,329.1 L204.01,329.14 L206.28,329.17 L208.86,329.2 L211.85,329.22 L215.36,329.24 L219.48,329.26 L224.33,329.28 L230,329.3 L236.97,329.32 L245.41,329.34 L255,329.35 L265.44,329.36 L276.38,329.37 L287.52,329.38 L298.54,329.38 L309.11,329.39 L318.91,329.39 L327.62,329.39 L334.92,329.4 L340.5,329.4" fill="none" stroke="#3fd3c8" stroke-width="1.6" stroke-linejoin="round" stroke-linecap="round"/>
<rect x="79.2" y="264.6" width="261.3" height="64.8" fill="none" stroke="#262626" stroke-width="1.1"/>
<line x1="75.2" y1="329.4" x2="79.2" y2="329.4" stroke="#222" stroke-width="1"/>
<text x="18.44" y="334.95" font-size="16.11" fill="#000" textLength="53.04" lengthAdjust="spacingAndGlyphs" stroke="#000" stroke-width="0.12">0.0000</text>
<line x1="75.2" y1="280.2" x2="79.2" y2="280.2" stroke="#222" stroke-width="1"/>
<text x="18.96" y="285.75" font-size="16.11" fill="#000" textLength="52.71" lengthAdjust="spacingAndGlyphs" stroke="#000" stroke-width="0.12">0.0002</text>
<line x1="79.2" y1="329.4" x2="79.2" y2="333.4" stroke="#222" stroke-width="1"/>
<line x1="153.73" y1="329.4" x2="153.73" y2="333.4" stroke="#222" stroke-width="1"/>
<line x1="228.27" y1="329.4" x2="228.27" y2="333.4" stroke="#222" stroke-width="1"/>
<line x1="302.8" y1="329.4" x2="302.8" y2="333.4" stroke="#222" stroke-width="1"/>
<rect x="253.5" y="268.5" width="83.1" height="24.5" fill="rgba(255,255,255,0.85)" stroke="#d9d9d9" stroke-width="0.8" rx="1.8"/>
<rect x="256.2" y="272.3" width="15.3" height="5.5" fill="rgba(152,88,200,0.5)" stroke="none" stroke-width="0.8"/>
<rect x="256.2" y="283.1" width="15.3" height="5.5" fill="rgba(45,209,195,0.5)" stroke="none" stroke-width="0.8"/>
<text x="277.68" y="277.2" font-size="7.42" font-style="italic" fill="#333" textLength="3.56" lengthAdjust="spacingAndGlyphs">s</text>
<text x="281.42" y="278.6" font-size="5.19" fill="#333" textLength="2.77" lengthAdjust="spacingAndGlyphs">1</text>
<text x="286.96" y="277.2" font-size="7.42" fill="#333" textLength="46.64" lengthAdjust="spacingAndGlyphs">(N = 62483)</text>
<text x="277.68" y="287.9" font-size="7.42" font-style="italic" fill="#333" textLength="3.56" lengthAdjust="spacingAndGlyphs">s</text>
<text x="281.55" y="289.3" font-size="5.19" fill="#333" textLength="2.8" lengthAdjust="spacingAndGlyphs">2</text>
<text x="286.96" y="287.9" font-size="7.42" fill="#333" textLength="46.64" lengthAdjust="spacingAndGlyphs">(N = 22306)</text>
<text x="-10.51" y="0" font-size="15.9" transform="translate(12.6,298.3) rotate(-90)" textLength="20.52" lengthAdjust="spacingAndGlyphs">PD</text>
<g fill="rgb(152,88,200)" fill-opacity="0.5" stroke="#000" stroke-opacity="0.5" stroke-width="0.546"><rect x="82.2" y="425" width="4.2" height="2.2"/><rect x="86.4" y="413" width="4.2" height="14.2"/><rect x="90.6" y="381.4" width="4.2" height="45.8"/><rect x="94.8" y="365.2" width="4.2" height="62"/><rect x="99" y="365.2" width="4.2" height="62"/><rect x="103.2" y="367.6" width="4.2" height="59.6"/><rect x="107.4" y="372.7" width="4.2" height="54.5"/><rect x="111.6" y="376.1" width="4.2" height="51.1"/><rect x="115.8" y="387.4" width="4.2" height="39.8"/><rect x="120" y="388.4" width="4.2" height="38.8"/><rect x="124.2" y="396.3" width="4.2" height="30.9"/><rect x="128.4" y="396.3" width="4.2" height="30.9"/><rect x="132.6" y="402.4" width="4.2" height="24.8"/><rect x="136.8" y="405.5" width="4.2" height="21.7"/><rect x="141" y="410" width="4.2" height="17.2"/><rect x="145.2" y="413.81" width="4.2" height="13.39"/><rect x="149.4" y="415.35" width="4.2" height="11.85"/><rect x="153.6" y="417.77" width="4.2" height="9.43"/><rect x="157.8" y="419.93" width="4.2" height="7.27"/><rect x="162" y="420.94" width="4.2" height="6.26"/><rect x="166.2" y="421.97" width="4.2" height="5.23"/><rect x="170.4" y="422.68" width="4.2" height="4.52"/><rect x="174.6" y="423.3" width="4.2" height="3.9"/><rect x="178.8" y="424.14" width="4.2" height="3.06"/><rect x="183" y="424.61" width="4.2" height="2.59"/><rect x="187.2" y="424.74" width="4.2" height="2.46"/><rect x="191.4" y="425.15" width="4.2" height="2.05"/><rect x="195.6" y="425.32" width="4.2" height="1.88"/><rect x="199.8" y="425.69" width="4.2" height="1.51"/><rect x="204" y="425.78" width="4.2" height="1.42"/><rect x="208.2" y="425.89" width="4.2" height="1.31"/><rect x="212.4" y="426.09" width="4.2" height="1.11"/><rect x="216.6" y="426.11" width="4.2" height="1.09"/><rect x="220.8" y="426.23" width="4.2" height="0.97"/><rect x="225" y="426.41" width="4.2" height="0.79"/><rect x="229.2" y="426.49" width="4.2" height="0.71"/><rect x="233.4" y="426.52" width="4.2" height="0.68"/><rect x="237.6" y="426.56" width="4.2" height="0.64"/><rect x="241.8" y="426.66" width="4.2" height="0.54"/><rect x="246" y="426.72" width="4.2" height="0.48"/></g>
<g fill="rgb(45,209,195)" fill-opacity="0.5" stroke="#000" stroke-opacity="0.5" stroke-width="0.5720000000000001"><rect x="83.9" y="422.3" width="4.4" height="4.9"/><rect x="88.3" y="403.6" width="4.4" height="23.6"/><rect x="92.7" y="394.1" width="4.4" height="33.1"/><rect x="97.1" y="395.71" width="4.4" height="31.49"/><rect x="101.5" y="394.06" width="4.4" height="33.14"/><rect x="105.9" y="396.25" width="4.4" height="30.95"/><rect x="110.3" y="397.48" width="4.4" height="29.72"/><rect x="114.7" y="397.69" width="4.4" height="29.51"/><rect x="119.1" y="399.69" width="4.4" height="27.51"/><rect x="123.5" y="401.72" width="4.4" height="25.48"/><rect x="127.9" y="404.15" width="4.4" height="23.05"/><rect x="132.3" y="405.83" width="4.4" height="21.37"/><rect x="136.7" y="407.55" width="4.4" height="19.65"/><rect x="141.1" y="408.59" width="4.4" height="18.61"/><rect x="145.5" y="409.59" width="4.4" height="17.61"/><rect x="149.9" y="409.71" width="4.4" height="17.49"/><rect x="154.3" y="410.28" width="4.4" height="16.92"/><rect x="158.7" y="410.69" width="4.4" height="16.51"/><rect x="163.1" y="411.25" width="4.4" height="15.95"/><rect x="167.5" y="412.16" width="4.4" height="15.04"/><rect x="171.9" y="413.35" width="4.4" height="13.85"/><rect x="176.3" y="414.26" width="4.4" height="12.94"/><rect x="180.7" y="415.23" width="4.4" height="11.97"/><rect x="185.1" y="416.22" width="4.4" height="10.98"/><rect x="189.5" y="417.04" width="4.4" height="10.16"/><rect x="193.9" y="417.6" width="4.4" height="9.6"/><rect x="198.3" y="418.52" width="4.4" height="8.68"/><rect x="202.7" y="419.29" width="4.4" height="7.91"/><rect x="207.1" y="419.88" width="4.4" height="7.32"/><rect x="211.5" y="420.84" width="4.4" height="6.36"/><rect x="215.9" y="421.55" width="4.4" height="5.65"/><rect x="220.3" y="422.24" width="4.4" height="4.96"/><rect x="224.7" y="422.79" width="4.4" height="4.41"/><rect x="229.1" y="423.15" width="4.4" height="4.05"/><rect x="233.5" y="423.6" width="4.4" height="3.6"/><rect x="237.9" y="423.91" width="4.4" height="3.29"/><rect x="242.3" y="424.2" width="4.4" height="3"/><rect x="246.7" y="424.6" width="4.4" height="2.6"/><rect x="251.1" y="425" width="4.4" height="2.2"/><rect x="255.5" y="425.2" width="4.4" height="2"/><rect x="259.9" y="425.49" width="4.4" height="1.71"/><rect x="264.3" y="425.76" width="4.4" height="1.44"/><rect x="268.7" y="426.03" width="4.4" height="1.17"/><rect x="273.1" y="426.24" width="4.4" height="0.96"/><rect x="277.5" y="426.38" width="4.4" height="0.82"/><rect x="281.9" y="426.49" width="4.4" height="0.71"/><rect x="286.3" y="426.54" width="4.4" height="0.66"/><rect x="290.7" y="426.6" width="4.4" height="0.6"/><rect x="295.1" y="426.67" width="4.4" height="0.53"/><rect x="299.5" y="426.7" width="4.4" height="0.5"/><rect x="303.9" y="426.74" width="4.4" height="0.46"/><rect x="308.3" y="426.78" width="4.4" height="0.42"/><rect x="312.7" y="426.81" width="4.4" height="0.39"/><rect x="317.1" y="426.85" width="4.4" height="0.35"/><rect x="321.5" y="426.87" width="4.4" height="0.33"/><rect x="325.9" y="426.91" width="4.4" height="0.29"/></g>
<path d="M84.2,420 L84.45,419.13 L84.77,418.05 L85.14,416.77 L85.56,415.35 L86.01,413.8 L86.49,412.15 L86.99,410.44 L87.49,408.7 L87.98,406.95 L88.45,405.23 L88.89,403.57 L89.3,402 L89.68,400.46 L90.04,398.87 L90.4,397.26 L90.74,395.63 L91.08,394 L91.41,392.37 L91.74,390.78 L92.07,389.21 L92.4,387.7 L92.73,386.25 L93.06,384.88 L93.4,383.6 L93.74,382.39 L94.06,381.24 L94.39,380.14 L94.71,379.09 L95.03,378.09 L95.35,377.14 L95.68,376.24 L96.01,375.39 L96.36,374.57 L96.72,373.81 L97.1,373.08 L97.5,372.4 L97.92,371.75 L98.36,371.14 L98.82,370.57 L99.29,370.04 L99.77,369.56 L100.26,369.12 L100.76,368.74 L101.26,368.41 L101.75,368.14 L102.24,367.93 L102.73,367.78 L103.2,367.7 L103.66,367.68 L104.11,367.72 L104.55,367.81 L104.99,367.96 L105.42,368.17 L105.86,368.44 L106.3,368.76 L106.75,369.15 L107.21,369.59 L107.69,370.1 L108.18,370.67 L108.7,371.3 L109.24,372.03 L109.79,372.87 L110.36,373.81 L110.94,374.83 L111.53,375.91 L112.14,377.04 L112.75,378.18 L113.37,379.33 L114,380.47 L114.63,381.57 L115.26,382.62 L115.9,383.6 L116.54,384.53 L117.2,385.46 L117.86,386.37 L118.53,387.27 L119.21,388.15 L119.89,389.02 L120.57,389.87 L121.26,390.7 L121.95,391.51 L122.63,392.3 L123.32,393.06 L124,393.8 L124.68,394.51 L125.36,395.17 L126.04,395.81 L126.73,396.43 L127.41,397.02 L128.09,397.59 L128.78,398.16 L129.46,398.72 L130.15,399.28 L130.83,399.84 L131.52,400.41 L132.2,401 L132.88,401.59 L133.54,402.19 L134.2,402.78 L134.86,403.37 L135.52,403.96 L136.17,404.55 L136.84,405.14 L137.52,405.73 L138.21,406.32 L138.92,406.91 L139.65,407.51 L140.4,408.1 L141.18,408.7 L141.98,409.32 L142.81,409.95 L143.65,410.59 L144.51,411.22 L145.38,411.85 L146.25,412.47 L147.13,413.08 L148,413.67 L148.88,414.24 L149.74,414.79 L150.6,415.3 L151.43,415.78 L152.23,416.24 L153,416.68 L153.77,417.1 L154.54,417.5 L155.31,417.88 L156.11,418.25 L156.94,418.61 L157.81,418.97 L158.74,419.32 L159.73,419.66 L160.8,420 L161.93,420.34 L163.1,420.67 L164.31,420.99 L165.57,421.31 L166.87,421.62 L168.21,421.92 L169.6,422.21 L171.03,422.49 L172.5,422.76 L174.02,423.02 L175.59,423.26 L177.2,423.5 L178.82,423.72 L180.43,423.93 L182.05,424.13 L183.69,424.31 L185.38,424.49 L187.12,424.65 L188.96,424.81 L190.89,424.96 L192.94,425.1 L195.13,425.24 L197.48,425.37 L200,425.5 L202.67,425.63 L205.44,425.74 L208.32,425.85 L211.32,425.96 L214.43,426.05 L217.68,426.14 L221.04,426.23 L224.55,426.31 L228.19,426.39 L231.98,426.46 L235.91,426.53 L240,426.6 L244.49,426.66 L249.54,426.72 L255,426.78 L260.74,426.83 L266.62,426.88 L272.5,426.92 L278.24,426.96 L283.7,426.99 L288.75,427.02 L293.24,427.05 L297.04,427.08 L300,427.1" fill="none" stroke="#9a5ccc" stroke-width="1.6" stroke-linejoin="round" stroke-linecap="round"/>
<path d="M83.2,420 L83.49,419.53 L83.86,418.95 L84.3,418.27 L84.78,417.51 L85.31,416.69 L85.87,415.81 L86.45,414.89 L87.04,413.94 L87.63,412.99 L88.21,412.03 L88.77,411.1 L89.3,410.2 L89.81,409.28 L90.32,408.31 L90.82,407.29 L91.33,406.24 L91.84,405.18 L92.34,404.12 L92.85,403.1 L93.36,402.11 L93.87,401.18 L94.38,400.32 L94.89,399.56 L95.4,398.9 L95.92,398.35 L96.45,397.9 L96.99,397.52 L97.54,397.21 L98.08,396.96 L98.63,396.76 L99.16,396.59 L99.69,396.44 L100.2,396.31 L100.69,396.19 L101.16,396.05 L101.6,395.9 L102,395.73 L102.33,395.57 L102.63,395.42 L102.9,395.27 L103.15,395.14 L103.4,395.02 L103.67,394.93 L103.96,394.86 L104.3,394.82 L104.69,394.81 L105.15,394.84 L105.7,394.9 L106.33,395 L107.02,395.14 L107.77,395.32 L108.57,395.53 L109.42,395.76 L110.29,396.02 L111.2,396.3 L112.13,396.6 L113.07,396.91 L114.01,397.23 L114.96,397.56 L115.9,397.9 L116.85,398.25 L117.82,398.63 L118.81,399.03 L119.81,399.44 L120.84,399.88 L121.87,400.32 L122.91,400.77 L123.95,401.22 L125,401.68 L126.04,402.13 L127.07,402.57 L128.1,403 L129.11,403.43 L130.1,403.88 L131.07,404.35 L132.04,404.81 L133.02,405.28 L133.99,405.74 L134.99,406.19 L136,406.62 L137.04,407.04 L138.12,407.42 L139.23,407.78 L140.4,408.1 L141.62,408.38 L142.88,408.61 L144.19,408.81 L145.53,408.99 L146.9,409.14 L148.29,409.28 L149.7,409.41 L151.11,409.54 L152.52,409.68 L153.93,409.83 L155.33,410 L156.7,410.2 L158.06,410.42 L159.43,410.65 L160.8,410.88 L162.16,411.13 L163.53,411.38 L164.9,411.64 L166.27,411.9 L167.64,412.16 L169,412.42 L170.37,412.68 L171.74,412.94 L173.1,413.2 L174.46,413.45 L175.82,413.71 L177.18,413.97 L178.54,414.23 L179.89,414.48 L181.25,414.74 L182.61,415 L183.96,415.26 L185.32,415.52 L186.68,415.78 L188.04,416.04 L189.4,416.3 L190.77,416.56 L192.14,416.82 L193.52,417.09 L194.9,417.35 L196.28,417.62 L197.66,417.88 L199.03,418.14 L200.4,418.4 L201.77,418.66 L203.12,418.91 L204.47,419.16 L205.8,419.4 L207.1,419.64 L208.36,419.87 L209.59,420.1 L210.8,420.32 L212,420.54 L213.21,420.76 L214.43,420.98 L215.68,421.19 L216.97,421.4 L218.32,421.6 L219.72,421.8 L221.2,422 L222.76,422.19 L224.39,422.39 L226.07,422.57 L227.81,422.76 L229.58,422.94 L231.39,423.12 L233.21,423.29 L235.05,423.46 L236.88,423.63 L238.71,423.79 L240.52,423.95 L242.3,424.1 L244.06,424.25 L245.83,424.39 L247.59,424.53 L249.36,424.67 L251.13,424.8 L252.89,424.93 L254.66,425.05 L256.43,425.17 L258.2,425.28 L259.97,425.39 L261.73,425.5 L263.5,425.6 L265.16,425.7 L266.64,425.79 L267.99,425.88 L269.29,425.96 L270.59,426.04 L271.95,426.11 L273.43,426.18 L275.09,426.25 L276.98,426.32 L279.18,426.38 L281.73,426.44 L284.7,426.5 L288.31,426.56 L292.62,426.61 L297.48,426.66 L302.74,426.71 L308.24,426.76 L313.82,426.81 L319.33,426.85 L324.61,426.89 L329.5,426.92 L333.85,426.95 L337.5,426.98 L340.3,427" fill="none" stroke="#3fd3c8" stroke-width="1.6" stroke-linejoin="round" stroke-linecap="round"/>
<rect x="79.4" y="362.4" width="260.9" height="64.8" fill="none" stroke="#262626" stroke-width="1.1"/>
<line x1="75.4" y1="427.2" x2="79.4" y2="427.2" stroke="#222" stroke-width="1"/>
<text x="18.64" y="432.75" font-size="16.11" fill="#000" textLength="53.04" lengthAdjust="spacingAndGlyphs" stroke="#000" stroke-width="0.12">0.0000</text>
<line x1="75.4" y1="392.5" x2="79.4" y2="392.5" stroke="#222" stroke-width="1"/>
<text x="19.04" y="398.05" font-size="16.11" fill="#000" textLength="52.81" lengthAdjust="spacingAndGlyphs" stroke="#000" stroke-width="0.12">0.0001</text>
<line x1="79.4" y1="427.2" x2="79.4" y2="431.2" stroke="#222" stroke-width="1"/>
<text x="74.9" y="447.28" font-size="16.11" fill="#000" textLength="9" lengthAdjust="spacingAndGlyphs" stroke="#000" stroke-width="0.12">0</text>
<line x1="153.8" y1="427.2" x2="153.8" y2="431.2" stroke="#222" stroke-width="1"/>
<text x="129.42" y="447.28" font-size="16.11" fill="#000" textLength="48.13" lengthAdjust="spacingAndGlyphs" stroke="#000" stroke-width="0.12">10000</text>
<line x1="228.2" y1="427.2" x2="228.2" y2="431.2" stroke="#222" stroke-width="1"/>
<text x="203.98" y="447.28" font-size="16.11" fill="#000" textLength="48.24" lengthAdjust="spacingAndGlyphs" stroke="#000" stroke-width="0.12">20000</text>
<line x1="302.6" y1="427.2" x2="302.6" y2="431.2" stroke="#222" stroke-width="1"/>
<text x="278.62" y="447.28" font-size="16.11" fill="#000" textLength="47.98" lengthAdjust="spacingAndGlyphs" stroke="#000" stroke-width="0.12">30000</text>
<rect x="253.3" y="366.8" width="82.8" height="23.9" fill="rgba(255,255,255,0.85)" stroke="#d9d9d9" stroke-width="0.8" rx="1.8"/>
<rect x="256" y="370.6" width="15.3" height="5.5" fill="rgba(152,88,200,0.5)" stroke="#262626" stroke-width="0.8" stroke-opacity="0.8"/>
<rect x="256" y="381.4" width="15.3" height="5.5" fill="rgba(45,209,195,0.5)" stroke="#262626" stroke-width="0.8" stroke-opacity="0.8"/>
<text x="277.48" y="375.5" font-size="7.42" font-style="italic" fill="#333" textLength="3.56" lengthAdjust="spacingAndGlyphs">s</text>
<text x="281.22" y="376.9" font-size="5.19" fill="#333" textLength="2.77" lengthAdjust="spacingAndGlyphs">1</text>
<text x="286.75" y="375.5" font-size="7.42" fill="#333" textLength="41.82" lengthAdjust="spacingAndGlyphs">(N = 2352)</text>
<text x="277.48" y="386.2" font-size="7.42" font-style="italic" fill="#333" textLength="3.56" lengthAdjust="spacingAndGlyphs">s</text>
<text x="281.35" y="387.6" font-size="5.19" fill="#333" textLength="2.8" lengthAdjust="spacingAndGlyphs">2</text>
<text x="286.76" y="386.2" font-size="7.42" fill="#333" textLength="46.64" lengthAdjust="spacingAndGlyphs">(N = 14605)</text>
<text x="-10.51" y="0" font-size="15.9" transform="translate(12.6,396.1) rotate(-90)" textLength="20.52" lengthAdjust="spacingAndGlyphs">PD</text>
<g fill="rgb(152,88,200)" fill-opacity="0.5" stroke="#000" stroke-opacity="0.35" stroke-width="0.273"><rect x="420.5" y="326.69" width="2.1" height="2.81"/><rect x="422.6" y="322.34" width="2.1" height="7.16"/><rect x="424.7" y="316.78" width="2.1" height="12.72"/><rect x="426.8" y="309.98" width="2.1" height="19.52"/><rect x="428.9" y="300.18" width="2.1" height="29.32"/><rect x="431" y="289.72" width="2.1" height="39.78"/><rect x="433.1" y="280.32" width="2.1" height="49.18"/><rect x="435.2" y="272.07" width="2.1" height="57.43"/><rect x="437.3" y="270.1" width="2.1" height="59.4"/><rect x="439.4" y="269.94" width="2.1" height="59.56"/><rect x="441.5" y="268.71" width="2.1" height="60.79"/><rect x="443.6" y="274.68" width="2.1" height="54.82"/><rect x="445.7" y="280.27" width="2.1" height="49.23"/><rect x="447.8" y="288.07" width="2.1" height="41.43"/><rect x="449.9" y="291.65" width="2.1" height="37.85"/><rect x="452" y="295.14" width="2.1" height="34.36"/><rect x="454.1" y="299.75" width="2.1" height="29.75"/><rect x="456.2" y="301.82" width="2.1" height="27.68"/><rect x="458.3" y="304.77" width="2.1" height="24.73"/><rect x="460.4" y="307.92" width="2.1" height="21.58"/><rect x="462.5" y="309.32" width="2.1" height="20.18"/><rect x="464.6" y="309.83" width="2.1" height="19.67"/><rect x="466.7" y="310.45" width="2.1" height="19.05"/><rect x="468.8" y="312.09" width="2.1" height="17.41"/><rect x="470.9" y="313.23" width="2.1" height="16.27"/><rect x="473" y="313.96" width="2.1" height="15.54"/><rect x="475.1" y="315.19" width="2.1" height="14.31"/><rect x="477.2" y="315.82" width="2.1" height="13.68"/><rect x="479.3" y="316.4" width="2.1" height="13.1"/><rect x="481.4" y="317.06" width="2.1" height="12.44"/><rect x="483.5" y="317.91" width="2.1" height="11.59"/><rect x="485.6" y="318.54" width="2.1" height="10.96"/><rect x="487.7" y="319.15" width="2.1" height="10.35"/><rect x="489.8" y="319.58" width="2.1" height="9.92"/><rect x="491.9" y="320.24" width="2.1" height="9.26"/><rect x="494" y="320.93" width="2.1" height="8.57"/><rect x="496.1" y="321.04" width="2.1" height="8.46"/><rect x="498.2" y="321.69" width="2.1" height="7.81"/><rect x="500.3" y="322.14" width="2.1" height="7.36"/><rect x="502.4" y="322.79" width="2.1" height="6.71"/><rect x="504.5" y="322.91" width="2.1" height="6.59"/><rect x="506.6" y="323.39" width="2.1" height="6.11"/><rect x="508.7" y="324.04" width="2.1" height="5.46"/><rect x="510.8" y="324.34" width="2.1" height="5.16"/><rect x="512.9" y="324.58" width="2.1" height="4.92"/><rect x="515" y="324.92" width="2.1" height="4.58"/><rect x="517.1" y="325.19" width="2.1" height="4.31"/><rect x="519.2" y="325.63" width="2.1" height="3.87"/><rect x="521.3" y="325.83" width="2.1" height="3.67"/><rect x="523.4" y="326.16" width="2.1" height="3.34"/><rect x="525.5" y="326.52" width="2.1" height="2.98"/><rect x="527.6" y="326.73" width="2.1" height="2.77"/><rect x="529.7" y="326.93" width="2.1" height="2.57"/><rect x="531.8" y="327.16" width="2.1" height="2.34"/><rect x="533.9" y="327.39" width="2.1" height="2.11"/><rect x="536" y="327.55" width="2.1" height="1.95"/><rect x="538.1" y="327.75" width="2.1" height="1.75"/><rect x="540.2" y="327.86" width="2.1" height="1.64"/><rect x="542.3" y="327.92" width="2.1" height="1.58"/><rect x="544.4" y="328.07" width="2.1" height="1.43"/><rect x="546.5" y="328.2" width="2.1" height="1.3"/><rect x="548.6" y="328.28" width="2.1" height="1.22"/><rect x="550.7" y="328.36" width="2.1" height="1.14"/><rect x="552.8" y="328.45" width="2.1" height="1.05"/><rect x="554.9" y="328.55" width="2.1" height="0.95"/><rect x="557" y="328.61" width="2.1" height="0.89"/><rect x="559.1" y="328.66" width="2.1" height="0.84"/><rect x="561.2" y="328.7" width="2.1" height="0.8"/><rect x="563.3" y="328.76" width="2.1" height="0.74"/><rect x="565.4" y="328.81" width="2.1" height="0.69"/><rect x="567.5" y="328.84" width="2.1" height="0.66"/><rect x="569.6" y="328.89" width="2.1" height="0.61"/><rect x="571.7" y="328.92" width="2.1" height="0.58"/><rect x="573.8" y="328.93" width="2.1" height="0.57"/><rect x="575.9" y="328.95" width="2.1" height="0.55"/><rect x="578" y="328.99" width="2.1" height="0.51"/><rect x="580.1" y="329.01" width="2.1" height="0.49"/><rect x="582.2" y="329.04" width="2.1" height="0.46"/><rect x="584.3" y="329.05" width="2.1" height="0.45"/><rect x="586.4" y="329.06" width="2.1" height="0.44"/><rect x="588.5" y="329.08" width="2.1" height="0.42"/><rect x="590.6" y="329.1" width="2.1" height="0.4"/><rect x="592.7" y="329.11" width="2.1" height="0.39"/><rect x="594.8" y="329.14" width="2.1" height="0.36"/><rect x="596.9" y="329.15" width="2.1" height="0.35"/><rect x="599" y="329.15" width="2.1" height="0.35"/></g>
<g fill="rgb(45,209,195)" fill-opacity="0.5" stroke="#000" stroke-opacity="0.35" stroke-width="0.273"><rect x="420" y="325.07" width="2.1" height="4.43"/><rect x="422.1" y="320.16" width="2.1" height="9.34"/><rect x="424.2" y="316.39" width="2.1" height="13.11"/><rect x="426.3" y="312.69" width="2.1" height="16.81"/><rect x="428.4" y="307.83" width="2.1" height="21.67"/><rect x="430.5" y="302.74" width="2.1" height="26.76"/><rect x="432.6" y="297.68" width="2.1" height="31.82"/><rect x="434.7" y="293.57" width="2.1" height="35.93"/><rect x="436.8" y="288.86" width="2.1" height="40.64"/><rect x="438.9" y="286.41" width="2.1" height="43.09"/><rect x="441" y="285.7" width="2.1" height="43.8"/><rect x="443.1" y="287.26" width="2.1" height="42.24"/><rect x="445.2" y="287.85" width="2.1" height="41.65"/><rect x="447.3" y="289.62" width="2.1" height="39.88"/><rect x="449.4" y="291.11" width="2.1" height="38.39"/><rect x="451.5" y="293.38" width="2.1" height="36.12"/><rect x="453.6" y="296.25" width="2.1" height="33.25"/><rect x="455.7" y="299.66" width="2.1" height="29.84"/><rect x="457.8" y="302.05" width="2.1" height="27.45"/><rect x="459.9" y="304.13" width="2.1" height="25.37"/><rect x="462" y="306.09" width="2.1" height="23.41"/><rect x="464.1" y="307.82" width="2.1" height="21.68"/><rect x="466.2" y="308.92" width="2.1" height="20.58"/><rect x="468.3" y="310.55" width="2.1" height="18.95"/><rect x="470.4" y="311.69" width="2.1" height="17.81"/><rect x="472.5" y="312.19" width="2.1" height="17.31"/><rect x="474.6" y="313.48" width="2.1" height="16.02"/><rect x="476.7" y="314.29" width="2.1" height="15.21"/><rect x="478.8" y="315.36" width="2.1" height="14.14"/><rect x="480.9" y="316.27" width="2.1" height="13.23"/><rect x="483" y="316.72" width="2.1" height="12.78"/><rect x="485.1" y="317.53" width="2.1" height="11.97"/><rect x="487.2" y="317.92" width="2.1" height="11.58"/><rect x="489.3" y="318.23" width="2.1" height="11.27"/><rect x="491.4" y="319.06" width="2.1" height="10.44"/><rect x="493.5" y="319.94" width="2.1" height="9.56"/><rect x="495.6" y="320.1" width="2.1" height="9.4"/><rect x="497.7" y="320.71" width="2.1" height="8.79"/><rect x="499.8" y="321.26" width="2.1" height="8.24"/><rect x="501.9" y="321.69" width="2.1" height="7.81"/><rect x="504" y="322.23" width="2.1" height="7.27"/><rect x="506.1" y="322.67" width="2.1" height="6.83"/><rect x="508.2" y="323.26" width="2.1" height="6.24"/><rect x="510.3" y="323.44" width="2.1" height="6.06"/><rect x="512.4" y="323.84" width="2.1" height="5.66"/><rect x="514.5" y="324.46" width="2.1" height="5.04"/><rect x="516.6" y="324.63" width="2.1" height="4.87"/><rect x="518.7" y="324.98" width="2.1" height="4.52"/><rect x="520.8" y="325.36" width="2.1" height="4.14"/><rect x="522.9" y="325.65" width="2.1" height="3.85"/><rect x="525" y="325.94" width="2.1" height="3.56"/><rect x="527.1" y="326.13" width="2.1" height="3.37"/><rect x="529.2" y="326.47" width="2.1" height="3.03"/><rect x="531.3" y="326.65" width="2.1" height="2.85"/><rect x="533.4" y="326.96" width="2.1" height="2.54"/><rect x="535.5" y="327.09" width="2.1" height="2.41"/><rect x="537.6" y="327.29" width="2.1" height="2.21"/><rect x="539.7" y="327.52" width="2.1" height="1.98"/><rect x="541.8" y="327.67" width="2.1" height="1.83"/><rect x="543.9" y="327.77" width="2.1" height="1.73"/><rect x="546" y="327.92" width="2.1" height="1.58"/><rect x="548.1" y="328.05" width="2.1" height="1.45"/><rect x="550.2" y="328.18" width="2.1" height="1.32"/><rect x="552.3" y="328.26" width="2.1" height="1.24"/><rect x="554.4" y="328.32" width="2.1" height="1.18"/><rect x="556.5" y="328.43" width="2.1" height="1.07"/><rect x="558.6" y="328.46" width="2.1" height="1.04"/><rect x="560.7" y="328.57" width="2.1" height="0.93"/><rect x="562.8" y="328.6" width="2.1" height="0.9"/><rect x="564.9" y="328.7" width="2.1" height="0.8"/><rect x="567" y="328.73" width="2.1" height="0.77"/><rect x="569.1" y="328.79" width="2.1" height="0.71"/><rect x="571.2" y="328.85" width="2.1" height="0.65"/><rect x="573.3" y="328.89" width="2.1" height="0.61"/><rect x="575.4" y="328.92" width="2.1" height="0.58"/><rect x="577.5" y="328.96" width="2.1" height="0.54"/><rect x="579.6" y="329" width="2.1" height="0.5"/><rect x="581.7" y="329.03" width="2.1" height="0.47"/><rect x="583.8" y="329.05" width="2.1" height="0.45"/><rect x="585.9" y="329.06" width="2.1" height="0.44"/><rect x="588" y="329.09" width="2.1" height="0.41"/><rect x="590.1" y="329.13" width="2.1" height="0.37"/><rect x="592.2" y="329.13" width="2.1" height="0.37"/><rect x="594.3" y="329.16" width="2.1" height="0.34"/><rect x="596.4" y="329.17" width="2.1" height="0.33"/><rect x="598.5" y="329.2" width="2.1" height="0.3"/><rect x="600.6" y="329.21" width="2.1" height="0.29"/><rect x="602.7" y="329.23" width="2.1" height="0.27"/><rect x="604.8" y="329.24" width="2.1" height="0.26"/><rect x="606.9" y="329.26" width="2.1" height="0.24"/><rect x="609" y="329.27" width="2.1" height="0.23"/><rect x="611.1" y="329.27" width="2.1" height="0.23"/><rect x="613.2" y="329.29" width="2.1" height="0.21"/><rect x="615.3" y="329.3" width="2.1" height="0.2"/><rect x="617.4" y="329.3" width="2.1" height="0.2"/><rect x="619.5" y="329.32" width="2.1" height="0.18"/><rect x="621.6" y="329.33" width="2.1" height="0.17"/><rect x="623.7" y="329.33" width="2.1" height="0.17"/><rect x="625.8" y="329.34" width="2.1" height="0.16"/><rect x="627.9" y="329.35" width="2.1" height="0.15"/><rect x="630" y="329.36" width="2.1" height="0.14"/><rect x="632.1" y="329.36" width="2.1" height="0.14"/><rect x="634.2" y="329.37" width="2.1" height="0.13"/><rect x="636.3" y="329.38" width="2.1" height="0.12"/><rect x="638.4" y="329.39" width="2.1" height="0.11"/></g>
<path d="M420.5,328.6 L420.7,328.22 L420.94,327.75 L421.23,327.21 L421.56,326.61 L421.91,325.95 L422.29,325.24 L422.67,324.49 L423.06,323.71 L423.45,322.92 L423.82,322.11 L424.17,321.3 L424.5,320.5 L424.81,319.69 L425.11,318.86 L425.4,318 L425.7,317.11 L425.98,316.21 L426.27,315.29 L426.55,314.36 L426.83,313.41 L427.1,312.44 L427.37,311.47 L427.64,310.49 L427.9,309.5 L428.16,308.49 L428.42,307.43 L428.69,306.34 L428.94,305.24 L429.2,304.12 L429.45,302.99 L429.69,301.88 L429.93,300.77 L430.16,299.7 L430.39,298.65 L430.6,297.65 L430.8,296.7 L430.99,295.8 L431.16,294.94 L431.32,294.12 L431.46,293.32 L431.6,292.55 L431.74,291.8 L431.87,291.06 L432,290.33 L432.14,289.61 L432.28,288.88 L432.44,288.15 L432.6,287.4 L432.77,286.64 L432.95,285.86 L433.14,285.08 L433.33,284.3 L433.52,283.52 L433.71,282.75 L433.91,281.99 L434.11,281.26 L434.31,280.54 L434.51,279.86 L434.7,279.21 L434.9,278.6 L435.09,278.03 L435.29,277.48 L435.48,276.95 L435.67,276.45 L435.86,275.98 L436.06,275.53 L436.25,275.1 L436.45,274.69 L436.66,274.31 L436.86,273.95 L437.08,273.61 L437.3,273.3 L437.53,273.01 L437.77,272.74 L438.03,272.49 L438.29,272.27 L438.55,272.07 L438.81,271.89 L439.08,271.74 L439.34,271.61 L439.59,271.5 L439.84,271.41 L440.08,271.34 L440.3,271.3 L440.51,271.28 L440.71,271.28 L440.9,271.31 L441.09,271.37 L441.26,271.44 L441.44,271.54 L441.61,271.65 L441.78,271.79 L441.95,271.94 L442.13,272.11 L442.31,272.3 L442.5,272.5 L442.69,272.72 L442.89,272.95 L443.08,273.19 L443.28,273.46 L443.48,273.74 L443.67,274.04 L443.88,274.36 L444.08,274.7 L444.28,275.06 L444.49,275.45 L444.69,275.86 L444.9,276.3 L445.11,276.77 L445.32,277.29 L445.54,277.84 L445.75,278.42 L445.97,279.02 L446.19,279.64 L446.41,280.26 L446.63,280.89 L446.85,281.52 L447.06,282.13 L447.28,282.73 L447.5,283.3 L447.72,283.86 L447.93,284.41 L448.14,284.96 L448.36,285.5 L448.57,286.04 L448.78,286.57 L449,287.11 L449.21,287.63 L449.43,288.16 L449.65,288.68 L449.87,289.19 L450.1,289.7 L450.33,290.2 L450.56,290.7 L450.79,291.19 L451.02,291.67 L451.26,292.15 L451.49,292.63 L451.73,293.11 L451.98,293.58 L452.23,294.06 L452.48,294.53 L452.74,295.02 L453,295.5 L453.27,295.99 L453.55,296.49 L453.83,297 L454.12,297.51 L454.42,298.02 L454.71,298.53 L455.01,299.03 L455.31,299.53 L455.61,300.01 L455.91,300.49 L456.21,300.95 L456.5,301.4 L456.78,301.83 L457.06,302.25 L457.32,302.66 L457.59,303.06 L457.85,303.44 L458.11,303.82 L458.39,304.2 L458.67,304.57 L458.97,304.93 L459.29,305.29 L459.63,305.65 L460,306 L460.37,306.34 L460.72,306.66 L461.06,306.97 L461.41,307.26 L461.77,307.55 L462.16,307.84 L462.59,308.13 L463.07,308.44 L463.6,308.77 L464.22,309.11 L464.91,309.49 L465.7,309.9 L466.58,310.35 L467.54,310.83 L468.56,311.34 L469.65,311.87 L470.8,312.42 L472.01,312.98 L473.27,313.55 L474.58,314.12 L475.93,314.68 L477.32,315.24 L478.75,315.78 L480.2,316.3 L481.71,316.81 L483.29,317.33 L484.94,317.84 L486.64,318.36 L488.39,318.87 L490.16,319.37 L491.96,319.86 L493.77,320.34 L495.58,320.81 L497.38,321.26 L499.16,321.69 L500.9,322.1 L502.62,322.49 L504.35,322.86 L506.07,323.21 L507.8,323.55 L509.52,323.87 L511.24,324.18 L512.97,324.48 L514.69,324.76 L516.42,325.04 L518.14,325.3 L519.87,325.55 L521.6,325.8 L523.28,326.03 L524.87,326.25 L526.4,326.46 L527.9,326.66 L529.41,326.84 L530.94,327.01 L532.54,327.18 L534.22,327.33 L536.02,327.48 L537.96,327.63 L540.08,327.77 L542.4,327.9 L544.75,328.03 L546.97,328.15 L549.16,328.26 L551.38,328.36 L553.72,328.46 L556.25,328.55 L559.06,328.63 L562.22,328.71 L565.82,328.79 L569.93,328.86 L574.63,328.93 L580,329 L586.47,329.06 L594.21,329.12 L602.96,329.18 L612.41,329.23 L622.31,329.28 L632.35,329.32 L642.26,329.36 L651.76,329.39 L660.57,329.42 L668.4,329.45 L674.97,329.48 L680,329.5" fill="none" stroke="#9a5ccc" stroke-width="1.6" stroke-linejoin="round" stroke-linecap="round"/>
<path d="M420,327.6 L420.22,327.11 L420.49,326.48 L420.81,325.74 L421.16,324.9 L421.55,324 L421.96,323.05 L422.39,322.07 L422.83,321.09 L423.26,320.11 L423.69,319.18 L424.11,318.3 L424.5,317.5 L424.89,316.75 L425.28,316.02 L425.68,315.3 L426.09,314.6 L426.5,313.91 L426.9,313.23 L427.3,312.57 L427.69,311.93 L428.07,311.3 L428.43,310.68 L428.78,310.08 L429.1,309.5 L429.4,308.94 L429.69,308.4 L429.96,307.88 L430.21,307.38 L430.46,306.9 L430.69,306.42 L430.92,305.96 L431.14,305.51 L431.36,305.06 L431.57,304.61 L431.78,304.16 L432,303.7 L432.21,303.24 L432.41,302.79 L432.6,302.35 L432.79,301.9 L432.97,301.47 L433.14,301.03 L433.32,300.6 L433.5,300.17 L433.69,299.75 L433.88,299.33 L434.09,298.91 L434.3,298.5 L434.53,298.08 L434.76,297.66 L435,297.24 L435.25,296.81 L435.51,296.39 L435.76,295.97 L436.02,295.57 L436.28,295.18 L436.54,294.8 L436.8,294.44 L437.05,294.11 L437.3,293.8 L437.54,293.52 L437.78,293.25 L438.02,293.01 L438.25,292.78 L438.49,292.57 L438.72,292.37 L438.95,292.19 L439.19,292.02 L439.44,291.85 L439.68,291.7 L439.94,291.55 L440.2,291.4 L440.47,291.26 L440.76,291.13 L441.06,291 L441.37,290.89 L441.68,290.78 L441.99,290.68 L442.3,290.59 L442.6,290.51 L442.9,290.45 L443.18,290.39 L443.45,290.34 L443.7,290.3 L443.93,290.27 L444.14,290.26 L444.33,290.25 L444.51,290.26 L444.68,290.27 L444.85,290.29 L445.02,290.33 L445.19,290.37 L445.37,290.41 L445.56,290.47 L445.77,290.53 L446,290.6 L446.25,290.67 L446.51,290.75 L446.79,290.82 L447.08,290.91 L447.37,291 L447.68,291.1 L447.98,291.21 L448.29,291.34 L448.6,291.48 L448.9,291.63 L449.2,291.81 L449.5,292 L449.79,292.21 L450.07,292.44 L450.35,292.69 L450.62,292.94 L450.9,293.22 L451.18,293.51 L451.46,293.81 L451.74,294.12 L452.04,294.45 L452.35,294.79 L452.67,295.14 L453,295.5 L453.35,295.88 L453.71,296.29 L454.09,296.73 L454.48,297.18 L454.87,297.64 L455.28,298.11 L455.68,298.59 L456.09,299.06 L456.5,299.52 L456.9,299.97 L457.3,300.39 L457.7,300.8 L458.08,301.17 L458.43,301.52 L458.76,301.84 L459.09,302.15 L459.42,302.45 L459.75,302.75 L460.1,303.05 L460.48,303.37 L460.89,303.71 L461.34,304.07 L461.84,304.46 L462.4,304.9 L463,305.38 L463.62,305.9 L464.27,306.44 L464.95,307.02 L465.66,307.61 L466.41,308.22 L467.2,308.83 L468.03,309.45 L468.91,310.06 L469.85,310.66 L470.84,311.24 L471.9,311.8 L473.02,312.34 L474.21,312.89 L475.45,313.42 L476.76,313.96 L478.11,314.48 L479.5,315.01 L480.93,315.52 L482.4,316.03 L483.9,316.54 L485.41,317.03 L486.95,317.52 L488.5,318 L490.07,318.47 L491.66,318.94 L493.29,319.41 L494.94,319.86 L496.62,320.31 L498.33,320.76 L500.07,321.19 L501.84,321.61 L503.63,322.03 L505.46,322.43 L507.31,322.82 L509.2,323.2 L511.12,323.57 L513.1,323.93 L515.11,324.28 L517.15,324.62 L519.23,324.95 L521.33,325.27 L523.44,325.58 L525.57,325.88 L527.71,326.16 L529.84,326.42 L531.98,326.67 L534.1,326.9 L536.18,327.11 L538.2,327.3 L540.17,327.47 L542.14,327.62 L544.11,327.76 L546.11,327.89 L548.16,328 L550.29,328.11 L552.51,328.21 L554.86,328.31 L557.34,328.4 L560,328.5 L562.71,328.59 L565.39,328.67 L568.07,328.75 L570.81,328.81 L573.64,328.88 L576.62,328.93 L579.78,328.98 L583.18,329.03 L586.86,329.07 L590.86,329.12 L595.22,329.16 L600,329.2 L605.52,329.24 L611.94,329.28 L619.06,329.31 L626.67,329.34 L634.55,329.37 L642.5,329.39 L650.31,329.42 L657.78,329.44 L664.69,329.46 L670.83,329.47 L676.01,329.49 L680,329.5" fill="none" stroke="#3fd3c8" stroke-width="1.6" stroke-linejoin="round" stroke-linecap="round"/>
<rect x="418.7" y="264.6" width="261.3" height="64.9" fill="none" stroke="#262626" stroke-width="1.1"/>
<line x1="414.7" y1="329.5" x2="418.7" y2="329.5" stroke="#222" stroke-width="1"/>
<text x="401.93" y="335.05" font-size="16.11" fill="#000" textLength="9" lengthAdjust="spacingAndGlyphs" stroke="#000" stroke-width="0.12">0</text>
<line x1="414.7" y1="291.9" x2="418.7" y2="291.9" stroke="#222" stroke-width="1"/>
<text x="402.46" y="297.45" font-size="16.11" fill="#000" textLength="8.6" lengthAdjust="spacingAndGlyphs" stroke="#000" stroke-width="0.12">1</text>
<line x1="418.7" y1="329.5" x2="418.7" y2="333.5" stroke="#222" stroke-width="1"/>
<line x1="470.96" y1="329.5" x2="470.96" y2="333.5" stroke="#222" stroke-width="1"/>
<line x1="523.22" y1="329.5" x2="523.22" y2="333.5" stroke="#222" stroke-width="1"/>
<line x1="575.48" y1="329.5" x2="575.48" y2="333.5" stroke="#222" stroke-width="1"/>
<line x1="627.74" y1="329.5" x2="627.74" y2="333.5" stroke="#222" stroke-width="1"/>
<line x1="680" y1="329.5" x2="680" y2="333.5" stroke="#222" stroke-width="1"/>
<rect x="593.3" y="268.3" width="82.7" height="25" fill="rgba(255,255,255,0.85)" stroke="#d9d9d9" stroke-width="0.8" rx="1.8"/>
<rect x="596" y="272.1" width="15.3" height="5.5" fill="rgba(152,88,200,0.5)" stroke="none" stroke-width="0.8"/>
<rect x="596" y="282.9" width="15.3" height="5.5" fill="rgba(45,209,195,0.5)" stroke="none" stroke-width="0.8"/>
<text x="617.48" y="277" font-size="7.42" font-style="italic" fill="#333" textLength="3.56" lengthAdjust="spacingAndGlyphs">s</text>
<text x="621.22" y="278.4" font-size="5.19" fill="#333" textLength="2.77" lengthAdjust="spacingAndGlyphs">1</text>
<text x="626.76" y="277" font-size="7.42" fill="#333" textLength="46.64" lengthAdjust="spacingAndGlyphs">(N = 62483)</text>
<text x="617.48" y="287.7" font-size="7.42" font-style="italic" fill="#333" textLength="3.56" lengthAdjust="spacingAndGlyphs">s</text>
<text x="621.35" y="289.1" font-size="5.19" fill="#333" textLength="2.8" lengthAdjust="spacingAndGlyphs">2</text>
<text x="626.76" y="287.7" font-size="7.42" fill="#333" textLength="46.64" lengthAdjust="spacingAndGlyphs">(N = 22306)</text>
<text x="-10.51" y="0" font-size="15.9" transform="translate(395.6,298.4) rotate(-90)" textLength="20.52" lengthAdjust="spacingAndGlyphs">PD</text>
<g fill="rgb(152,88,200)" fill-opacity="0.5" stroke="#000" stroke-opacity="0.5" stroke-width="0.5589999999999999"><rect x="421.9" y="420.7" width="4.3" height="6.6"/><rect x="426.2" y="413.2" width="4.3" height="14.1"/><rect x="430.5" y="397.4" width="4.3" height="29.9"/><rect x="434.8" y="384.3" width="4.3" height="43"/><rect x="439.1" y="383.5" width="4.3" height="43.8"/><rect x="443.4" y="365.3" width="4.3" height="62"/><rect x="447.7" y="371.6" width="4.3" height="55.7"/><rect x="452" y="377" width="4.3" height="50.3"/><rect x="456.3" y="378.4" width="4.3" height="48.9"/><rect x="460.6" y="390.9" width="4.3" height="36.4"/><rect x="464.9" y="391.5" width="4.3" height="35.8"/><rect x="469.2" y="405.07" width="4.3" height="22.23"/><rect x="473.5" y="407.52" width="4.3" height="19.78"/><rect x="477.8" y="411.85" width="4.3" height="15.45"/><rect x="482.1" y="415.94" width="4.3" height="11.36"/><rect x="486.4" y="417.74" width="4.3" height="9.56"/><rect x="490.7" y="419.41" width="4.3" height="7.89"/><rect x="495" y="420.54" width="4.3" height="6.76"/><rect x="499.3" y="421.52" width="4.3" height="5.78"/><rect x="503.6" y="422.92" width="4.3" height="4.38"/><rect x="507.9" y="423.76" width="4.3" height="3.54"/><rect x="512.2" y="424.26" width="4.3" height="3.04"/><rect x="516.5" y="425.15" width="4.3" height="2.15"/><rect x="520.8" y="425.59" width="4.3" height="1.71"/><rect x="525.1" y="426.09" width="4.3" height="1.21"/><rect x="529.4" y="426.25" width="4.3" height="1.05"/><rect x="533.7" y="426.4" width="4.3" height="0.9"/><rect x="538" y="426.59" width="4.3" height="0.71"/><rect x="542.3" y="426.64" width="4.3" height="0.66"/><rect x="546.6" y="426.75" width="4.3" height="0.55"/><rect x="550.9" y="426.9" width="4.3" height="0.4"/><rect x="555.2" y="426.97" width="4.3" height="0.33"/><rect x="559.5" y="427.03" width="4.3" height="0.27"/></g>
<g fill="rgb(45,209,195)" fill-opacity="0.5" stroke="#000" stroke-opacity="0.5" stroke-width="0.28600000000000003"><rect x="420" y="426.2" width="2.2" height="1.1"/><rect x="422.2" y="425.5" width="2.2" height="1.8"/><rect x="424.4" y="424.73" width="2.2" height="2.57"/><rect x="426.6" y="423.31" width="2.2" height="3.99"/><rect x="428.8" y="421.01" width="2.2" height="6.29"/><rect x="431" y="418.29" width="2.2" height="9.01"/><rect x="433.2" y="414.91" width="2.2" height="12.39"/><rect x="435.4" y="411.86" width="2.2" height="15.44"/><rect x="437.6" y="408.41" width="2.2" height="18.89"/><rect x="439.8" y="405.58" width="2.2" height="21.72"/><rect x="442" y="403.08" width="2.2" height="24.22"/><rect x="444.2" y="401.73" width="2.2" height="25.57"/><rect x="446.4" y="399.07" width="2.2" height="28.23"/><rect x="448.6" y="397.36" width="2.2" height="29.94"/><rect x="450.8" y="395.1" width="2.2" height="32.2"/><rect x="453" y="393.3" width="2.2" height="34"/><rect x="455.2" y="392.54" width="2.2" height="34.76"/><rect x="457.4" y="392.93" width="2.2" height="34.37"/><rect x="459.6" y="392.68" width="2.2" height="34.62"/><rect x="461.8" y="392.84" width="2.2" height="34.46"/><rect x="464" y="393.51" width="2.2" height="33.79"/><rect x="466.2" y="393.93" width="2.2" height="33.37"/><rect x="468.4" y="393.31" width="2.2" height="33.99"/><rect x="470.6" y="394.25" width="2.2" height="33.05"/><rect x="472.8" y="394.7" width="2.2" height="32.6"/><rect x="475" y="394.12" width="2.2" height="33.18"/><rect x="477.2" y="395.88" width="2.2" height="31.42"/><rect x="479.4" y="396.64" width="2.2" height="30.66"/><rect x="481.6" y="398.31" width="2.2" height="28.99"/><rect x="483.8" y="399.78" width="2.2" height="27.52"/><rect x="486" y="400.22" width="2.2" height="27.08"/><rect x="488.2" y="401.88" width="2.2" height="25.42"/><rect x="490.4" y="402.48" width="2.2" height="24.82"/><rect x="492.6" y="403" width="2.2" height="24.3"/><rect x="494.8" y="405.09" width="2.2" height="22.21"/><rect x="497" y="407.4" width="2.2" height="19.9"/><rect x="499.2" y="407.82" width="2.2" height="19.48"/><rect x="501.4" y="409.57" width="2.2" height="17.73"/><rect x="503.6" y="411.26" width="2.2" height="16.04"/><rect x="505.8" y="412.67" width="2.2" height="14.63"/><rect x="508" y="414.46" width="2.2" height="12.84"/><rect x="510.2" y="416.29" width="2.2" height="11.01"/><rect x="512.4" y="417.65" width="2.2" height="9.65"/><rect x="514.6" y="418.03" width="2.2" height="9.27"/><rect x="516.8" y="418.86" width="2.2" height="8.44"/><rect x="519" y="420.1" width="2.2" height="7.2"/><rect x="521.2" y="420.46" width="2.2" height="6.84"/><rect x="523.4" y="421.13" width="2.2" height="6.17"/><rect x="525.6" y="421.84" width="2.2" height="5.46"/><rect x="527.8" y="422.34" width="2.2" height="4.96"/><rect x="530" y="422.83" width="2.2" height="4.47"/><rect x="532.2" y="423.1" width="2.2" height="4.2"/><rect x="534.4" y="423.6" width="2.2" height="3.7"/><rect x="536.6" y="423.84" width="2.2" height="3.46"/><rect x="538.8" y="424.26" width="2.2" height="3.04"/><rect x="541" y="424.4" width="2.2" height="2.9"/><rect x="543.2" y="424.64" width="2.2" height="2.66"/><rect x="545.4" y="424.94" width="2.2" height="2.36"/><rect x="547.6" y="425.12" width="2.2" height="2.18"/><rect x="549.8" y="425.25" width="2.2" height="2.05"/><rect x="552" y="425.48" width="2.2" height="1.82"/><rect x="554.2" y="425.72" width="2.2" height="1.58"/><rect x="556.4" y="425.95" width="2.2" height="1.35"/><rect x="558.6" y="426.1" width="2.2" height="1.2"/><rect x="560.8" y="426.2" width="2.2" height="1.1"/><rect x="563" y="426.34" width="2.2" height="0.96"/><rect x="565.2" y="426.37" width="2.2" height="0.93"/><rect x="567.4" y="426.48" width="2.2" height="0.82"/><rect x="569.6" y="426.5" width="2.2" height="0.8"/><rect x="571.8" y="426.58" width="2.2" height="0.72"/><rect x="574" y="426.59" width="2.2" height="0.71"/><rect x="576.2" y="426.64" width="2.2" height="0.66"/><rect x="578.4" y="426.69" width="2.2" height="0.61"/><rect x="580.6" y="426.72" width="2.2" height="0.58"/><rect x="582.8" y="426.74" width="2.2" height="0.56"/><rect x="585" y="426.78" width="2.2" height="0.52"/><rect x="587.2" y="426.81" width="2.2" height="0.49"/><rect x="589.4" y="426.83" width="2.2" height="0.47"/><rect x="591.6" y="426.84" width="2.2" height="0.46"/><rect x="593.8" y="426.85" width="2.2" height="0.45"/><rect x="596" y="426.88" width="2.2" height="0.42"/><rect x="598.2" y="426.91" width="2.2" height="0.39"/><rect x="600.4" y="426.9" width="2.2" height="0.4"/><rect x="602.6" y="426.92" width="2.2" height="0.38"/><rect x="604.8" y="426.93" width="2.2" height="0.37"/><rect x="607" y="426.97" width="2.2" height="0.33"/><rect x="609.2" y="426.97" width="2.2" height="0.33"/><rect x="611.4" y="427" width="2.2" height="0.3"/><rect x="613.6" y="426.99" width="2.2" height="0.31"/><rect x="615.8" y="427.02" width="2.2" height="0.28"/><rect x="618" y="427.03" width="2.2" height="0.27"/><rect x="620.2" y="427.03" width="2.2" height="0.27"/><rect x="622.4" y="427.05" width="2.2" height="0.25"/><rect x="624.6" y="427.06" width="2.2" height="0.24"/><rect x="626.8" y="427.06" width="2.2" height="0.24"/><rect x="629" y="427.08" width="2.2" height="0.22"/><rect x="631.2" y="427.09" width="2.2" height="0.21"/><rect x="633.4" y="427.09" width="2.2" height="0.21"/><rect x="635.6" y="427.11" width="2.2" height="0.19"/><rect x="637.8" y="427.12" width="2.2" height="0.18"/></g>
<path d="M423.9,420.4 L424.12,419.97 L424.39,419.44 L424.71,418.84 L425.07,418.16 L425.46,417.42 L425.87,416.62 L426.3,415.78 L426.74,414.9 L427.19,413.99 L427.64,413.07 L428.08,412.13 L428.5,411.2 L428.92,410.24 L429.34,409.24 L429.78,408.2 L430.22,407.12 L430.66,406.02 L431.11,404.89 L431.56,403.76 L432.01,402.61 L432.47,401.47 L432.91,400.33 L433.36,399.2 L433.8,398.1 L434.24,396.99 L434.68,395.85 L435.12,394.69 L435.56,393.52 L436,392.35 L436.44,391.19 L436.88,390.05 L437.31,388.94 L437.74,387.87 L438.17,386.85 L438.59,385.89 L439,385 L439.4,384.17 L439.8,383.39 L440.2,382.65 L440.59,381.95 L440.97,381.29 L441.35,380.67 L441.73,380.09 L442.1,379.54 L442.48,379.03 L442.85,378.55 L443.23,378.11 L443.6,377.7 L443.97,377.33 L444.34,376.99 L444.7,376.7 L445.07,376.45 L445.43,376.23 L445.79,376.04 L446.15,375.89 L446.51,375.76 L446.88,375.66 L447.25,375.59 L447.62,375.53 L448,375.5 L448.39,375.49 L448.78,375.51 L449.18,375.55 L449.58,375.62 L449.98,375.71 L450.39,375.84 L450.79,375.99 L451.2,376.16 L451.6,376.36 L452.01,376.58 L452.41,376.83 L452.8,377.1 L453.19,377.4 L453.57,377.72 L453.95,378.07 L454.32,378.44 L454.7,378.84 L455.07,379.26 L455.44,379.71 L455.82,380.18 L456.21,380.68 L456.6,381.19 L456.99,381.74 L457.4,382.3 L457.82,382.9 L458.24,383.54 L458.68,384.21 L459.12,384.92 L459.56,385.65 L460.01,386.39 L460.46,387.15 L460.91,387.91 L461.37,388.68 L461.81,389.43 L462.26,390.18 L462.7,390.9 L463.13,391.61 L463.56,392.33 L463.97,393.05 L464.39,393.76 L464.8,394.48 L465.22,395.19 L465.64,395.91 L466.07,396.61 L466.5,397.32 L466.95,398.02 L467.42,398.71 L467.9,399.4 L468.39,400.08 L468.89,400.75 L469.39,401.42 L469.9,402.08 L470.42,402.73 L470.95,403.39 L471.49,404.04 L472.06,404.69 L472.63,405.34 L473.23,405.99 L473.85,406.64 L474.5,407.3 L475.17,407.97 L475.87,408.65 L476.59,409.35 L477.33,410.06 L478.08,410.76 L478.86,411.46 L479.64,412.14 L480.44,412.81 L481.25,413.46 L482.06,414.07 L482.88,414.66 L483.7,415.2 L484.52,415.7 L485.34,416.17 L486.16,416.61 L486.98,417.03 L487.82,417.42 L488.66,417.79 L489.53,418.14 L490.41,418.49 L491.31,418.82 L492.24,419.15 L493.21,419.47 L494.2,419.8 L495.22,420.12 L496.26,420.43 L497.32,420.73 L498.41,421.01 L499.51,421.29 L500.64,421.56 L501.8,421.83 L502.98,422.09 L504.19,422.34 L505.43,422.59 L506.7,422.85 L508,423.1 L509.29,423.36 L510.55,423.62 L511.78,423.88 L513.03,424.13 L514.3,424.39 L515.62,424.64 L517.02,424.88 L518.5,425.11 L520.1,425.33 L521.84,425.54 L523.73,425.73 L525.8,425.9 L528.06,426.05 L530.48,426.19 L533.06,426.31 L535.77,426.42 L538.59,426.52 L541.51,426.61 L544.51,426.68 L547.56,426.76 L550.66,426.82 L553.77,426.88 L556.89,426.94 L560,427 L563.26,427.05 L566.79,427.1 L570.53,427.14 L574.39,427.17 L578.28,427.2 L582.14,427.22 L585.88,427.24 L589.41,427.25 L592.68,427.26 L595.58,427.28 L598.05,427.29 L600,427.3" fill="none" stroke="#9a5ccc" stroke-width="1.6" stroke-linejoin="round" stroke-linecap="round"/>
<path d="M420.6,426.4 L420.86,426.31 L421.18,426.21 L421.55,426.1 L421.98,425.98 L422.44,425.84 L422.93,425.69 L423.43,425.52 L423.94,425.33 L424.46,425.13 L424.96,424.91 L425.44,424.66 L425.9,424.4 L426.33,424.12 L426.76,423.85 L427.17,423.56 L427.59,423.26 L428,422.94 L428.42,422.59 L428.84,422.22 L429.27,421.82 L429.7,421.38 L430.15,420.9 L430.62,420.38 L431.1,419.8 L431.6,419.15 L432.12,418.43 L432.65,417.65 L433.2,416.82 L433.75,415.95 L434.31,415.06 L434.88,414.15 L435.45,413.25 L436.02,412.36 L436.58,411.5 L437.15,410.67 L437.7,409.9 L438.25,409.17 L438.78,408.45 L439.32,407.75 L439.85,407.07 L440.38,406.4 L440.92,405.74 L441.46,405.09 L442,404.46 L442.56,403.83 L443.12,403.21 L443.7,402.6 L444.3,402 L444.9,401.4 L445.51,400.8 L446.12,400.2 L446.74,399.61 L447.37,399.03 L448.01,398.46 L448.66,397.91 L449.33,397.38 L450.01,396.87 L450.72,396.38 L451.45,395.93 L452.2,395.5 L452.99,395.1 L453.83,394.71 L454.7,394.34 L455.6,393.99 L456.52,393.67 L457.45,393.36 L458.38,393.09 L459.3,392.84 L460.2,392.63 L461.07,392.45 L461.91,392.3 L462.7,392.2 L463.45,392.15 L464.18,392.14 L464.89,392.19 L465.58,392.27 L466.25,392.38 L466.9,392.52 L467.54,392.68 L468.17,392.84 L468.78,393.02 L469.39,393.19 L470,393.35 L470.6,393.5 L471.18,393.64 L471.73,393.77 L472.26,393.91 L472.77,394.04 L473.27,394.19 L473.77,394.34 L474.27,394.5 L474.79,394.67 L475.32,394.85 L475.88,395.05 L476.47,395.26 L477.1,395.5 L477.77,395.75 L478.46,396.01 L479.18,396.28 L479.92,396.56 L480.68,396.85 L481.45,397.16 L482.24,397.49 L483.04,397.83 L483.85,398.19 L484.66,398.57 L485.48,398.97 L486.3,399.4 L487.13,399.85 L487.97,400.33 L488.82,400.83 L489.68,401.35 L490.55,401.89 L491.43,402.45 L492.31,403.02 L493.2,403.6 L494.1,404.2 L494.99,404.79 L495.9,405.4 L496.8,406 L497.73,406.63 L498.69,407.29 L499.69,407.98 L500.7,408.7 L501.71,409.42 L502.72,410.14 L503.71,410.85 L504.67,411.54 L505.59,412.2 L506.46,412.82 L507.27,413.39 L508,413.9 L508.62,414.35 L509.11,414.73 L509.5,415.07 L509.81,415.36 L510.09,415.63 L510.36,415.88 L510.65,416.11 L510.99,416.35 L511.4,416.6 L511.92,416.86 L512.58,417.16 L513.4,417.5 L514.38,417.88 L515.47,418.29 L516.67,418.73 L517.95,419.18 L519.32,419.64 L520.74,420.11 L522.23,420.57 L523.75,421.02 L525.3,421.46 L526.87,421.87 L528.44,422.25 L530,422.6 L531.55,422.91 L533.11,423.2 L534.69,423.47 L536.28,423.73 L537.9,423.96 L539.56,424.18 L541.26,424.39 L543.01,424.59 L544.82,424.77 L546.7,424.95 L548.66,425.13 L550.7,425.3 L552.62,425.46 L554.27,425.62 L555.76,425.76 L557.21,425.89 L558.72,426.02 L560.39,426.13 L562.34,426.24 L564.68,426.34 L567.5,426.44 L570.93,426.53 L575.06,426.62 L580,426.7 L586.18,426.78 L593.73,426.85 L602.37,426.92 L611.8,426.98 L621.72,427.04 L631.83,427.09 L641.84,427.13 L651.46,427.17 L660.37,427.21 L668.3,427.24 L674.94,427.27 L680,427.3" fill="none" stroke="#3fd3c8" stroke-width="1.6" stroke-linejoin="round" stroke-linecap="round"/>
<rect x="418.7" y="362.4" width="261.3" height="64.9" fill="none" stroke="#262626" stroke-width="1.1"/>
<line x1="414.7" y1="427.3" x2="418.7" y2="427.3" stroke="#222" stroke-width="1"/>
<text x="401.93" y="432.85" font-size="16.11" fill="#000" textLength="9" lengthAdjust="spacingAndGlyphs" stroke="#000" stroke-width="0.12">0</text>
<line x1="414.7" y1="382.9" x2="418.7" y2="382.9" stroke="#222" stroke-width="1"/>
<text x="402.46" y="388.45" font-size="16.11" fill="#000" textLength="8.6" lengthAdjust="spacingAndGlyphs" stroke="#000" stroke-width="0.12">1</text>
<line x1="418.7" y1="427.3" x2="418.7" y2="431.3" stroke="#222" stroke-width="1"/>
<text x="414.19" y="446.98" font-size="16.11" fill="#000" textLength="8.6" lengthAdjust="spacingAndGlyphs" stroke="#000" stroke-width="0.12">1</text>
<line x1="470.96" y1="427.3" x2="470.96" y2="431.3" stroke="#222" stroke-width="1"/>
<text x="466.62" y="446.98" font-size="16.11" fill="#000" textLength="8.68" lengthAdjust="spacingAndGlyphs" stroke="#000" stroke-width="0.12">2</text>
<line x1="523.22" y1="427.3" x2="523.22" y2="431.3" stroke="#222" stroke-width="1"/>
<text x="518.94" y="446.98" font-size="16.11" fill="#000" textLength="8.64" lengthAdjust="spacingAndGlyphs" stroke="#000" stroke-width="0.12">3</text>
<line x1="575.48" y1="427.3" x2="575.48" y2="431.3" stroke="#222" stroke-width="1"/>
<text x="571.03" y="446.98" font-size="16.11" fill="#000" textLength="9" lengthAdjust="spacingAndGlyphs" stroke="#000" stroke-width="0.12">4</text>
<line x1="627.74" y1="427.3" x2="627.74" y2="431.3" stroke="#222" stroke-width="1"/>
<text x="623.51" y="446.98" font-size="16.11" fill="#000" textLength="8.49" lengthAdjust="spacingAndGlyphs" stroke="#000" stroke-width="0.12">5</text>
<line x1="680" y1="427.3" x2="680" y2="431.3" stroke="#222" stroke-width="1"/>
<text x="675.29" y="446.98" font-size="16.11" fill="#000" textLength="9.32" lengthAdjust="spacingAndGlyphs" stroke="#000" stroke-width="0.12">6</text>
<rect x="593.4" y="366.2" width="82.8" height="24.6" fill="rgba(255,255,255,0.85)" stroke="#d9d9d9" stroke-width="0.8" rx="1.8"/>
<rect x="596.1" y="370" width="15.3" height="5.5" fill="rgba(152,88,200,0.5)" stroke="none" stroke-width="0.8"/>
<rect x="596.1" y="380.8" width="15.3" height="5.5" fill="rgba(45,209,195,0.5)" stroke="none" stroke-width="0.8"/>
<text x="617.58" y="374.9" font-size="7.42" font-style="italic" fill="#333" textLength="3.56" lengthAdjust="spacingAndGlyphs">s</text>
<text x="621.32" y="376.3" font-size="5.19" fill="#333" textLength="2.77" lengthAdjust="spacingAndGlyphs">1</text>
<text x="626.85" y="374.9" font-size="7.42" fill="#333" textLength="41.82" lengthAdjust="spacingAndGlyphs">(N = 2352)</text>
<text x="617.58" y="385.6" font-size="7.42" font-style="italic" fill="#333" textLength="3.56" lengthAdjust="spacingAndGlyphs">s</text>
<text x="621.45" y="387" font-size="5.19" fill="#333" textLength="2.8" lengthAdjust="spacingAndGlyphs">2</text>
<text x="626.86" y="385.6" font-size="7.42" fill="#333" textLength="46.64" lengthAdjust="spacingAndGlyphs">(N = 14605)</text>
<text x="-10.51" y="0" font-size="15.9" transform="translate(395.6,396.2) rotate(-90)" textLength="20.52" lengthAdjust="spacingAndGlyphs">PD</text>
<g fill="rgb(152,88,200)" fill-opacity="0.5" stroke="#000" stroke-opacity="0.5" stroke-width="0.45"><rect x="79.6" y="817.5" width="3.1" height="0.5"/><rect x="82.7" y="816.83" width="3.1" height="1.17"/><rect x="85.8" y="816.19" width="3.1" height="1.81"/><rect x="88.9" y="815.65" width="3.1" height="2.35"/><rect x="92" y="814.95" width="3.1" height="3.05"/><rect x="95.1" y="814.29" width="3.1" height="3.71"/><rect x="98.2" y="813.51" width="3.1" height="4.49"/><rect x="101.3" y="812.67" width="3.1" height="5.33"/><rect x="104.4" y="812.17" width="3.1" height="5.83"/><rect x="107.5" y="811.37" width="3.1" height="6.63"/><rect x="110.6" y="809.98" width="3.1" height="8.02"/><rect x="113.7" y="809.26" width="3.1" height="8.74"/><rect x="116.8" y="807.95" width="3.1" height="10.05"/><rect x="119.9" y="807.43" width="3.1" height="10.57"/><rect x="123" y="805.79" width="3.1" height="12.21"/><rect x="126.1" y="804.22" width="3.1" height="13.78"/><rect x="129.2" y="803.52" width="3.1" height="14.48"/><rect x="132.3" y="801.34" width="3.1" height="16.66"/><rect x="135.4" y="800.04" width="3.1" height="17.96"/><rect x="138.5" y="800" width="3.1" height="18"/><rect x="141.6" y="798.82" width="3.1" height="19.18"/><rect x="144.7" y="796.88" width="3.1" height="21.12"/><rect x="147.8" y="795.28" width="3.1" height="22.72"/><rect x="150.9" y="795.61" width="3.1" height="22.39"/><rect x="154" y="795.45" width="3.1" height="22.55"/><rect x="157.1" y="794.81" width="3.1" height="23.19"/><rect x="160.2" y="795.41" width="3.1" height="22.59"/><rect x="163.3" y="794.81" width="3.1" height="23.19"/><rect x="166.4" y="794.03" width="3.1" height="23.97"/><rect x="169.5" y="793.49" width="3.1" height="24.51"/><rect x="172.6" y="793.61" width="3.1" height="24.39"/><rect x="175.7" y="793.26" width="3.1" height="24.74"/><rect x="178.8" y="793.05" width="3.1" height="24.95"/><rect x="181.9" y="792.45" width="3.1" height="25.55"/><rect x="185" y="792.78" width="3.1" height="25.22"/><rect x="188.1" y="793.39" width="3.1" height="24.61"/><rect x="191.2" y="791.88" width="3.1" height="26.12"/><rect x="194.3" y="792.73" width="3.1" height="25.27"/><rect x="197.4" y="792.96" width="3.1" height="25.04"/><rect x="200.5" y="794.37" width="3.1" height="23.63"/><rect x="203.6" y="793.49" width="3.1" height="24.51"/><rect x="206.7" y="794.51" width="3.1" height="23.49"/><rect x="209.8" y="796.64" width="3.1" height="21.36"/><rect x="212.9" y="797.1" width="3.1" height="20.9"/><rect x="216" y="797.33" width="3.1" height="20.67"/><rect x="219.1" y="798.22" width="3.1" height="19.78"/><rect x="222.2" y="798.77" width="3.1" height="19.23"/><rect x="225.3" y="800.44" width="3.1" height="17.56"/><rect x="228.4" y="800.84" width="3.1" height="17.16"/><rect x="231.5" y="802.02" width="3.1" height="15.98"/><rect x="234.6" y="803.42" width="3.1" height="14.58"/><rect x="237.7" y="804.02" width="3.1" height="13.98"/><rect x="240.8" y="804.62" width="3.1" height="13.38"/><rect x="243.9" y="805.54" width="3.1" height="12.46"/><rect x="247" y="806.73" width="3.1" height="11.27"/><rect x="250.1" y="807.49" width="3.1" height="10.51"/><rect x="253.2" y="808.7" width="3.1" height="9.3"/><rect x="256.3" y="809.21" width="3.1" height="8.79"/><rect x="259.4" y="809.37" width="3.1" height="8.63"/><rect x="262.5" y="810" width="3.1" height="8"/><rect x="265.6" y="810.4" width="3.1" height="7.6"/><rect x="268.7" y="810.39" width="3.1" height="7.61"/><rect x="271.8" y="810.59" width="3.1" height="7.41"/><rect x="274.9" y="811.02" width="3.1" height="6.98"/><rect x="278" y="811.64" width="3.1" height="6.36"/><rect x="281.1" y="812.1" width="3.1" height="5.9"/><rect x="284.2" y="812.58" width="3.1" height="5.42"/><rect x="287.3" y="812.98" width="3.1" height="5.02"/><rect x="290.4" y="813.61" width="3.1" height="4.39"/><rect x="293.5" y="814.21" width="3.1" height="3.79"/><rect x="296.6" y="814.73" width="3.1" height="3.27"/><rect x="299.7" y="815.38" width="3.1" height="2.62"/><rect x="302.8" y="815.86" width="3.1" height="2.14"/><rect x="305.9" y="816.2" width="3.1" height="1.8"/><rect x="309" y="816.59" width="3.1" height="1.41"/><rect x="312.1" y="816.95" width="3.1" height="1.05"/><rect x="315.2" y="817.2" width="3.1" height="0.8"/><rect x="318.3" y="817.39" width="3.1" height="0.61"/><rect x="321.4" y="817.5" width="3.1" height="0.5"/><rect x="324.5" y="817.59" width="3.1" height="0.41"/><rect x="327.6" y="817.69" width="3.1" height="0.31"/><rect x="330.7" y="817.79" width="3.1" height="0.21"/><rect x="333.8" y="817.86" width="3.1" height="0.14"/><rect x="336.9" y="817.95" width="3.1" height="0.05"/></g>
<g fill="rgb(45,209,195)" fill-opacity="0.5" stroke="#000" stroke-opacity="0.35" stroke-width="0.4"><rect x="79.6" y="812.89" width="2.2" height="5.11"/><rect x="81.8" y="809.8" width="2.2" height="8.2"/><rect x="84" y="803.87" width="2.2" height="14.13"/><rect x="86.2" y="800.62" width="2.2" height="17.38"/><rect x="88.4" y="788.15" width="2.2" height="29.85"/><rect x="90.6" y="788.28" width="2.2" height="29.72"/><rect x="92.8" y="778.8" width="2.2" height="39.2"/><rect x="95" y="782.72" width="2.2" height="35.28"/><rect x="97.2" y="770.55" width="2.2" height="47.45"/><rect x="99.4" y="775.37" width="2.2" height="42.63"/><rect x="101.6" y="764.33" width="2.2" height="53.67"/><rect x="103.8" y="773.15" width="2.2" height="44.85"/><rect x="106" y="761.29" width="2.2" height="56.71"/><rect x="108.2" y="769.76" width="2.2" height="48.24"/><rect x="110.4" y="757.67" width="2.2" height="60.33"/><rect x="112.6" y="765.72" width="2.2" height="52.28"/><rect x="114.8" y="755.93" width="2.2" height="62.07"/><rect x="117" y="767.89" width="2.2" height="50.11"/><rect x="119.2" y="758.83" width="2.2" height="59.17"/><rect x="121.4" y="770" width="2.2" height="48"/><rect x="123.6" y="762.73" width="2.2" height="55.27"/><rect x="125.8" y="773.94" width="2.2" height="44.06"/><rect x="128" y="766.08" width="2.2" height="51.92"/><rect x="130.2" y="778.13" width="2.2" height="39.87"/><rect x="132.4" y="773.26" width="2.2" height="44.74"/><rect x="134.6" y="781.96" width="2.2" height="36.04"/><rect x="136.8" y="779.53" width="2.2" height="38.47"/><rect x="139" y="789.16" width="2.2" height="28.84"/><rect x="141.2" y="787.91" width="2.2" height="30.09"/><rect x="143.4" y="795.5" width="2.2" height="22.5"/><rect x="145.6" y="792.55" width="2.2" height="25.45"/><rect x="147.8" y="798.98" width="2.2" height="19.02"/><rect x="150" y="796.63" width="2.2" height="21.37"/><rect x="152.2" y="801.14" width="2.2" height="16.86"/><rect x="154.4" y="800.16" width="2.2" height="17.84"/><rect x="156.6" y="804.93" width="2.2" height="13.07"/><rect x="158.8" y="802.81" width="2.2" height="15.19"/><rect x="161" y="806.37" width="2.2" height="11.63"/><rect x="163.2" y="805.18" width="2.2" height="12.82"/><rect x="165.4" y="807.79" width="2.2" height="10.21"/><rect x="167.6" y="806.7" width="2.2" height="11.3"/><rect x="169.8" y="809.09" width="2.2" height="8.91"/><rect x="172" y="808.31" width="2.2" height="9.69"/><rect x="174.2" y="810.01" width="2.2" height="7.99"/><rect x="176.4" y="809.12" width="2.2" height="8.88"/><rect x="178.6" y="811.52" width="2.2" height="6.48"/><rect x="180.8" y="810.53" width="2.2" height="7.47"/><rect x="183" y="812.43" width="2.2" height="5.57"/><rect x="185.2" y="812.37" width="2.2" height="5.63"/><rect x="187.4" y="814.08" width="2.2" height="3.92"/><rect x="189.6" y="814.4" width="2.2" height="3.6"/><rect x="191.8" y="815.82" width="2.2" height="2.18"/><rect x="194" y="816.4" width="2.2" height="1.6"/><rect x="196.2" y="817.15" width="2.2" height="0.85"/><rect x="198.4" y="817.45" width="2.2" height="0.55"/></g>
<path d="M79.6,817.8 L80.6,817.59 L81.86,817.34 L83.36,817.04 L85.03,816.7 L86.85,816.33 L88.77,815.94 L90.74,815.54 L92.73,815.12 L94.7,814.7 L96.59,814.29 L98.37,813.89 L100,813.5 L101.52,813.12 L103.01,812.75 L104.47,812.37 L105.9,811.99 L107.3,811.6 L108.68,811.21 L110.04,810.82 L111.37,810.43 L112.68,810.03 L113.97,809.62 L115.24,809.21 L116.5,808.8 L117.72,808.38 L118.9,807.96 L120.04,807.54 L121.15,807.11 L122.24,806.68 L123.31,806.25 L124.39,805.81 L125.46,805.36 L126.55,804.91 L127.67,804.45 L128.81,803.98 L130,803.5 L131.24,803 L132.54,802.46 L133.88,801.9 L135.24,801.32 L136.62,800.74 L138,800.16 L139.37,799.58 L140.7,799.03 L142,798.51 L143.24,798.02 L144.41,797.58 L145.5,797.2 L146.5,796.87 L147.43,796.58 L148.29,796.33 L149.1,796.11 L149.87,795.92 L150.61,795.75 L151.33,795.6 L152.04,795.47 L152.75,795.35 L153.47,795.23 L154.22,795.12 L155,795 L155.78,794.89 L156.52,794.81 L157.23,794.75 L157.94,794.7 L158.64,794.66 L159.36,794.63 L160.11,794.6 L160.9,794.57 L161.74,794.52 L162.64,794.47 L163.62,794.4 L164.7,794.3 L165.87,794.17 L167.14,794.02 L168.47,793.84 L169.88,793.65 L171.33,793.45 L172.83,793.24 L174.36,793.05 L175.9,792.86 L177.45,792.7 L178.99,792.56 L180.51,792.46 L182,792.4 L183.47,792.37 L184.92,792.35 L186.38,792.35 L187.83,792.36 L189.29,792.39 L190.76,792.45 L192.24,792.53 L193.74,792.64 L195.26,792.78 L196.81,792.95 L198.39,793.16 L200,793.4 L201.65,793.69 L203.35,794.02 L205.08,794.4 L206.83,794.81 L208.61,795.25 L210.41,795.72 L212.21,796.2 L214.02,796.7 L215.83,797.2 L217.64,797.71 L219.43,798.21 L221.2,798.7 L222.97,799.2 L224.77,799.72 L226.58,800.25 L228.39,800.8 L230.21,801.36 L232.01,801.91 L233.8,802.47 L235.57,803.01 L237.32,803.54 L239.02,804.05 L240.69,804.54 L242.3,805 L243.87,805.44 L245.4,805.86 L246.89,806.28 L248.35,806.69 L249.79,807.08 L251.19,807.45 L252.58,807.81 L253.95,808.15 L255.3,808.47 L256.64,808.77 L257.97,809.05 L259.3,809.3 L260.61,809.52 L261.89,809.7 L263.15,809.85 L264.4,809.98 L265.62,810.08 L266.84,810.17 L268.04,810.26 L269.25,810.34 L270.45,810.43 L271.66,810.54 L272.87,810.66 L274.1,810.8 L275.33,810.96 L276.54,811.13 L277.75,811.3 L278.96,811.49 L280.16,811.67 L281.37,811.86 L282.58,812.06 L283.81,812.26 L285.05,812.46 L286.31,812.67 L287.59,812.88 L288.9,813.1 L290.25,813.33 L291.64,813.57 L293.08,813.82 L294.53,814.08 L296.01,814.35 L297.48,814.61 L298.95,814.87 L300.4,815.13 L301.82,815.37 L303.2,815.6 L304.53,815.81 L305.8,816 L306.98,816.17 L308.05,816.32 L309.06,816.45 L310.01,816.57 L310.93,816.69 L311.84,816.79 L312.78,816.88 L313.75,816.97 L314.78,817.05 L315.91,817.14 L317.14,817.22 L318.5,817.3 L320.07,817.38 L321.86,817.46 L323.82,817.53 L325.9,817.6 L328.04,817.67 L330.19,817.73 L332.3,817.79 L334.31,817.84 L336.17,817.89 L337.82,817.93 L339.22,817.97 L340.3,818" fill="none" stroke="#9a5ccc" stroke-width="1.6" stroke-linejoin="round" stroke-linecap="round"/>
<path d="M79.6,817.5 L79.6,817.41 L79.58,817.33 L79.54,817.26 L79.5,817.18 L79.46,817.08 L79.42,816.96 L79.41,816.8 L79.43,816.59 L79.47,816.33 L79.56,816 L79.7,815.59 L79.9,815.1 L80.16,814.53 L80.48,813.88 L80.85,813.17 L81.27,812.4 L81.71,811.57 L82.19,810.69 L82.68,809.76 L83.18,808.79 L83.68,807.79 L84.17,806.75 L84.65,805.69 L85.1,804.6 L85.54,803.44 L85.99,802.17 L86.45,800.82 L86.91,799.4 L87.37,797.95 L87.83,796.48 L88.29,795.03 L88.73,793.61 L89.17,792.26 L89.6,790.99 L90.01,789.83 L90.4,788.8 L90.77,787.91 L91.13,787.12 L91.47,786.43 L91.8,785.81 L92.12,785.26 L92.43,784.75 L92.74,784.27 L93.04,783.81 L93.35,783.34 L93.66,782.86 L93.98,782.36 L94.3,781.8 L94.63,781.21 L94.97,780.61 L95.3,780 L95.64,779.39 L95.98,778.77 L96.33,778.16 L96.66,777.56 L97,776.97 L97.33,776.4 L97.66,775.84 L97.98,775.31 L98.3,774.8 L98.61,774.32 L98.91,773.85 L99.21,773.41 L99.5,772.97 L99.79,772.56 L100.08,772.16 L100.37,771.77 L100.65,771.39 L100.94,771.03 L101.22,770.68 L101.51,770.33 L101.8,770 L102.09,769.68 L102.37,769.38 L102.65,769.09 L102.93,768.82 L103.21,768.56 L103.49,768.31 L103.78,768.07 L104.07,767.83 L104.36,767.6 L104.66,767.37 L104.98,767.14 L105.3,766.9 L105.64,766.66 L105.98,766.42 L106.34,766.19 L106.7,765.95 L107.07,765.72 L107.45,765.49 L107.83,765.27 L108.21,765.06 L108.59,764.85 L108.96,764.66 L109.33,764.47 L109.7,764.3 L110.06,764.14 L110.42,763.98 L110.78,763.83 L111.14,763.68 L111.49,763.55 L111.85,763.42 L112.21,763.3 L112.56,763.2 L112.92,763.1 L113.28,763.02 L113.64,762.95 L114,762.9 L114.36,762.86 L114.73,762.84 L115.09,762.84 L115.46,762.84 L115.83,762.86 L116.19,762.89 L116.56,762.93 L116.93,762.98 L117.3,763.03 L117.67,763.08 L118.03,763.14 L118.4,763.2 L118.77,763.26 L119.13,763.31 L119.5,763.36 L119.87,763.42 L120.23,763.48 L120.6,763.55 L120.97,763.63 L121.33,763.73 L121.7,763.84 L122.07,763.97 L122.43,764.12 L122.8,764.3 L123.17,764.5 L123.53,764.71 L123.9,764.95 L124.27,765.19 L124.63,765.46 L125,765.74 L125.37,766.04 L125.73,766.35 L126.1,766.69 L126.47,767.04 L126.83,767.41 L127.2,767.8 L127.57,768.22 L127.93,768.67 L128.3,769.14 L128.67,769.64 L129.04,770.16 L129.41,770.69 L129.77,771.23 L130.14,771.77 L130.51,772.31 L130.87,772.85 L131.24,773.38 L131.6,773.9 L131.97,774.41 L132.34,774.94 L132.71,775.46 L133.09,776 L133.46,776.53 L133.83,777.06 L134.2,777.58 L134.56,778.09 L134.91,778.59 L135.25,779.08 L135.58,779.55 L135.9,780 L136.2,780.42 L136.49,780.82 L136.76,781.2 L137.03,781.57 L137.28,781.92 L137.53,782.26 L137.78,782.6 L138.02,782.94 L138.26,783.29 L138.5,783.65 L138.75,784.01 L139,784.4 L139.24,784.79 L139.46,785.19 L139.66,785.58 L139.86,785.98 L140.05,786.38 L140.26,786.79 L140.47,787.2 L140.71,787.63 L140.97,788.07 L141.27,788.53 L141.61,789.01 L142,789.5 L142.45,790.02 L142.95,790.58 L143.49,791.16 L144.07,791.77 L144.68,792.38 L145.31,793.01 L145.95,793.63 L146.59,794.24 L147.23,794.85 L147.84,795.43 L148.44,795.98 L149,796.5 L149.53,796.99 L150.05,797.46 L150.55,797.91 L151.04,798.35 L151.52,798.78 L152,799.19 L152.48,799.59 L152.96,799.98 L153.45,800.37 L153.95,800.75 L154.47,801.12 L155,801.5 L155.55,801.87 L156.11,802.24 L156.69,802.61 L157.27,802.97 L157.87,803.32 L158.46,803.67 L159.06,804 L159.66,804.33 L160.25,804.64 L160.84,804.94 L161.43,805.23 L162,805.5 L162.56,805.75 L163.13,805.99 L163.68,806.21 L164.24,806.41 L164.79,806.61 L165.34,806.79 L165.88,806.97 L166.43,807.14 L166.97,807.31 L167.52,807.47 L168.06,807.63 L168.6,807.8 L169.14,807.96 L169.67,808.12 L170.2,808.26 L170.73,808.41 L171.25,808.55 L171.77,808.68 L172.3,808.81 L172.83,808.95 L173.36,809.08 L173.9,809.22 L174.45,809.36 L175,809.5 L175.57,809.65 L176.14,809.79 L176.73,809.93 L177.33,810.08 L177.92,810.22 L178.53,810.37 L179.12,810.52 L179.72,810.67 L180.31,810.82 L180.88,810.98 L181.45,811.14 L182,811.3 L182.53,811.47 L183.05,811.63 L183.55,811.8 L184.04,811.97 L184.52,812.15 L185,812.32 L185.48,812.51 L185.96,812.69 L186.45,812.88 L186.95,813.08 L187.47,813.29 L188,813.5 L188.55,813.73 L189.12,813.97 L189.7,814.23 L190.29,814.5 L190.88,814.78 L191.48,815.06 L192.08,815.33 L192.68,815.6 L193.28,815.85 L193.86,816.09 L194.44,816.31 L195,816.5 L195.57,816.67 L196.16,816.83 L196.77,816.98 L197.39,817.11 L197.99,817.23 L198.59,817.34 L199.16,817.44 L199.69,817.53 L200.18,817.61 L200.62,817.68 L201,817.74 L201.3,817.8" fill="none" stroke="#3fd3c8" stroke-width="1.6" stroke-linejoin="round" stroke-linecap="round"/>
<rect x="79.4" y="752.9" width="260.9" height="65.1" fill="none" stroke="#262626" stroke-width="1.1"/>
<line x1="75.4" y1="818" x2="79.4" y2="818" stroke="#222" stroke-width="1"/>
<text x="47.95" y="823.55" font-size="16.11" fill="#000" textLength="23.72" lengthAdjust="spacingAndGlyphs" stroke="#000" stroke-width="0.12">0.0</text>
<line x1="75.4" y1="769.7" x2="79.4" y2="769.7" stroke="#222" stroke-width="1"/>
<text x="48.35" y="775.25" font-size="16.11" fill="#000" textLength="23.47" lengthAdjust="spacingAndGlyphs" stroke="#000" stroke-width="0.12">0.1</text>
<line x1="79.4" y1="818" x2="79.4" y2="822" stroke="#222" stroke-width="1"/>
<line x1="144.62" y1="818" x2="144.62" y2="822" stroke="#222" stroke-width="1"/>
<line x1="209.85" y1="818" x2="209.85" y2="822" stroke="#222" stroke-width="1"/>
<line x1="275.07" y1="818" x2="275.07" y2="822" stroke="#222" stroke-width="1"/>
<line x1="340.3" y1="818" x2="340.3" y2="822" stroke="#222" stroke-width="1"/>
<rect x="253.3" y="756.8" width="82.8" height="24.5" fill="rgba(255,255,255,0.85)" stroke="#d9d9d9" stroke-width="0.8" rx="1.8"/>
<rect x="256" y="760.6" width="15.3" height="5.5" fill="rgba(152,88,200,0.5)" stroke="#262626" stroke-width="0.8" stroke-opacity="0.3"/>
<rect x="256" y="771.4" width="15.3" height="5.5" fill="rgba(45,209,195,0.5)" stroke="#262626" stroke-width="0.8" stroke-opacity="0.3"/>
<text x="277.48" y="765.5" font-size="7.42" font-style="italic" fill="#333" textLength="3.56" lengthAdjust="spacingAndGlyphs">s</text>
<text x="281.22" y="766.9" font-size="5.19" fill="#333" textLength="2.77" lengthAdjust="spacingAndGlyphs">1</text>
<text x="286.76" y="765.5" font-size="7.42" fill="#333" textLength="46.64" lengthAdjust="spacingAndGlyphs">(N = 74803)</text>
<text x="277.48" y="776.2" font-size="7.42" font-style="italic" fill="#333" textLength="3.56" lengthAdjust="spacingAndGlyphs">s</text>
<text x="281.35" y="777.6" font-size="5.19" fill="#333" textLength="2.8" lengthAdjust="spacingAndGlyphs">2</text>
<text x="286.76" y="776.2" font-size="7.42" fill="#333" textLength="46.64" lengthAdjust="spacingAndGlyphs">(N = 26985)</text>
<text x="-10.51" y="0" font-size="15.9" transform="translate(41.4,786.8) rotate(-90)" textLength="20.52" lengthAdjust="spacingAndGlyphs">PD</text>
<g fill="rgb(152,88,200)" fill-opacity="0.5" stroke="#000" stroke-opacity="0.8" stroke-width="1.1"><rect x="79.8" y="853.8" width="2.3" height="61.5"/><rect x="82.1" y="871" width="2.3" height="44.3"/><rect x="84.4" y="877" width="2.3" height="38.3"/><rect x="86.7" y="880" width="2.3" height="35.3"/><rect x="89" y="894.77" width="2.3" height="20.53"/><rect x="91.3" y="897.06" width="2.3" height="18.24"/><rect x="93.6" y="901.56" width="2.3" height="13.74"/><rect x="95.9" y="905.45" width="2.3" height="9.85"/><rect x="98.2" y="906.75" width="2.3" height="8.55"/><rect x="100.5" y="908.19" width="2.3" height="7.11"/><rect x="102.8" y="909.08" width="2.3" height="6.22"/><rect x="105.1" y="910" width="2.3" height="5.3"/><rect x="107.4" y="911.56" width="2.3" height="3.74"/><rect x="109.7" y="912.31" width="2.3" height="2.99"/><rect x="112" y="912.44" width="2.3" height="2.86"/><rect x="114.3" y="913.19" width="2.3" height="2.11"/><rect x="116.6" y="913.59" width="2.3" height="1.71"/><rect x="118.9" y="914.23" width="2.3" height="1.07"/><rect x="121.2" y="914.48" width="2.3" height="0.82"/><rect x="123.5" y="914.76" width="2.3" height="0.54"/></g>
<g fill="rgb(45,209,195)" fill-opacity="0.5" stroke="#000" stroke-opacity="0.6" stroke-width="0.7"><rect x="79.6" y="913.91" width="2.3" height="1.39"/><rect x="81.9" y="912.59" width="2.3" height="2.71"/><rect x="84.2" y="911.67" width="2.3" height="3.63"/><rect x="86.5" y="910.45" width="2.3" height="4.85"/><rect x="88.8" y="908.64" width="2.3" height="6.66"/><rect x="91.1" y="907.38" width="2.3" height="7.92"/><rect x="93.4" y="906.1" width="2.3" height="9.2"/><rect x="95.7" y="905.22" width="2.3" height="10.08"/><rect x="98" y="903.5" width="2.3" height="11.8"/><rect x="100.3" y="902.13" width="2.3" height="13.17"/><rect x="102.6" y="900.92" width="2.3" height="14.38"/><rect x="104.9" y="900.7" width="2.3" height="14.6"/><rect x="107.2" y="899.4" width="2.3" height="15.9"/><rect x="109.5" y="898.96" width="2.3" height="16.34"/><rect x="111.8" y="898.34" width="2.3" height="16.96"/><rect x="114.1" y="898.61" width="2.3" height="16.69"/><rect x="116.4" y="899.95" width="2.3" height="15.35"/><rect x="118.7" y="901.89" width="2.3" height="13.41"/><rect x="121" y="903.54" width="2.3" height="11.76"/><rect x="123.3" y="905.12" width="2.3" height="10.18"/><rect x="125.6" y="906.32" width="2.3" height="8.98"/><rect x="127.9" y="907" width="2.3" height="8.3"/><rect x="130.2" y="907.14" width="2.3" height="8.16"/><rect x="132.5" y="907.84" width="2.3" height="7.46"/><rect x="134.8" y="908.35" width="2.3" height="6.95"/><rect x="137.1" y="908.58" width="2.3" height="6.72"/><rect x="139.4" y="909.61" width="2.3" height="5.69"/><rect x="141.7" y="910.46" width="2.3" height="4.84"/><rect x="144" y="911.55" width="2.3" height="3.75"/><rect x="146.3" y="912.53" width="2.3" height="2.77"/><rect x="148.6" y="913.25" width="2.3" height="2.05"/><rect x="150.9" y="913.93" width="2.3" height="1.37"/><rect x="153.2" y="914.32" width="2.3" height="0.98"/><rect x="155.5" y="914.6" width="2.3" height="0.7"/><rect x="157.8" y="914.88" width="2.3" height="0.42"/></g>
<path d="M79.8,884.4 L79.85,883.98 L79.9,883.44 L79.96,882.79 L80.02,882.06 L80.1,881.27 L80.17,880.45 L80.26,879.61 L80.36,878.79 L80.46,877.99 L80.56,877.24 L80.68,876.57 L80.8,876 L80.93,875.49 L81.08,874.99 L81.23,874.51 L81.39,874.06 L81.56,873.64 L81.74,873.26 L81.92,872.91 L82.1,872.61 L82.28,872.37 L82.46,872.18 L82.63,872.06 L82.8,872 L82.97,872.02 L83.13,872.1 L83.3,872.25 L83.47,872.46 L83.63,872.72 L83.8,873.03 L83.97,873.38 L84.13,873.76 L84.3,874.17 L84.47,874.6 L84.63,875.04 L84.8,875.5 L84.96,875.97 L85.11,876.46 L85.25,876.98 L85.38,877.52 L85.52,878.09 L85.66,878.69 L85.8,879.33 L85.96,879.99 L86.14,880.69 L86.33,881.42 L86.55,882.19 L86.8,883 L87.07,883.87 L87.37,884.82 L87.68,885.82 L88,886.88 L88.35,887.97 L88.71,889.08 L89.08,890.19 L89.46,891.3 L89.86,892.39 L90.26,893.44 L90.68,894.45 L91.1,895.4 L91.52,896.3 L91.94,897.19 L92.36,898.07 L92.79,898.92 L93.23,899.75 L93.68,900.56 L94.16,901.35 L94.66,902.11 L95.19,902.85 L95.75,903.56 L96.35,904.25 L97,904.9 L97.7,905.52 L98.45,906.11 L99.25,906.68 L100.08,907.21 L100.95,907.73 L101.83,908.21 L102.73,908.68 L103.64,909.12 L104.55,909.54 L105.45,909.94 L106.34,910.33 L107.2,910.7 L108.05,911.05 L108.92,911.37 L109.78,911.66 L110.65,911.94 L111.52,912.19 L112.39,912.43 L113.25,912.64 L114.1,912.85 L114.95,913.05 L115.78,913.24 L116.6,913.42 L117.4,913.6 L118.21,913.77 L119.05,913.94 L119.9,914.09 L120.76,914.23 L121.61,914.36 L122.44,914.48 L123.23,914.59 L123.97,914.69 L124.65,914.78 L125.26,914.87 L125.78,914.94 L126.2,915" fill="none" stroke="#9a5ccc" stroke-width="1.6" stroke-linejoin="round" stroke-linecap="round"/>
<path d="M79.8,914.5 L80.19,914.28 L80.68,914.02 L81.25,913.71 L81.9,913.36 L82.59,912.97 L83.34,912.57 L84.11,912.15 L84.9,911.71 L85.7,911.27 L86.49,910.84 L87.26,910.41 L88,910 L88.73,909.59 L89.47,909.18 L90.22,908.75 L90.98,908.32 L91.74,907.88 L92.51,907.44 L93.28,907.01 L94.04,906.57 L94.8,906.14 L95.55,905.72 L96.28,905.3 L97,904.9 L97.7,904.5 L98.4,904.1 L99.09,903.69 L99.77,903.29 L100.44,902.89 L101.11,902.49 L101.77,902.11 L102.42,901.75 L103.07,901.4 L103.72,901.07 L104.36,900.77 L105,900.5 L105.63,900.24 L106.26,900 L106.89,899.76 L107.51,899.54 L108.12,899.33 L108.73,899.15 L109.34,898.99 L109.94,898.86 L110.53,898.77 L111.13,898.7 L111.71,898.68 L112.3,898.7 L112.88,898.77 L113.45,898.89 L114.01,899.05 L114.56,899.24 L115.11,899.47 L115.66,899.73 L116.2,900.01 L116.75,900.3 L117.3,900.6 L117.86,900.9 L118.43,901.21 L119,901.5 L119.56,901.8 L120.1,902.11 L120.63,902.45 L121.14,902.79 L121.67,903.14 L122.2,903.5 L122.76,903.86 L123.34,904.22 L123.97,904.58 L124.65,904.93 L125.39,905.27 L126.2,905.6 L127.09,905.91 L128.06,906.22 L129.09,906.52 L130.18,906.81 L131.31,907.09 L132.47,907.38 L133.64,907.67 L134.82,907.96 L135.99,908.26 L137.13,908.56 L138.24,908.87 L139.3,909.2 L140.33,909.55 L141.36,909.92 L142.39,910.31 L143.41,910.72 L144.42,911.13 L145.42,911.54 L146.4,911.94 L147.37,912.33 L148.31,912.69 L149.23,913.03 L150.13,913.34 L151,913.6 L151.86,913.83 L152.74,914.02 L153.61,914.19 L154.47,914.34 L155.32,914.47 L156.13,914.57 L156.9,914.67 L157.63,914.75 L158.29,914.82 L158.88,914.88 L159.38,914.94 L159.8,915" fill="none" stroke="#3fd3c8" stroke-width="1.6" stroke-linejoin="round" stroke-linecap="round"/>
<rect x="79.5" y="850.4" width="260.9" height="64.9" fill="none" stroke="#262626" stroke-width="1.1"/>
<line x1="75.5" y1="915.3" x2="79.5" y2="915.3" stroke="#222" stroke-width="1"/>
<text x="48.05" y="920.85" font-size="16.11" fill="#000" textLength="23.72" lengthAdjust="spacingAndGlyphs" stroke="#000" stroke-width="0.12">0.0</text>
<line x1="75.5" y1="866.2" x2="79.5" y2="866.2" stroke="#222" stroke-width="1"/>
<text x="48.38" y="871.75" font-size="16.11" fill="#000" textLength="23.43" lengthAdjust="spacingAndGlyphs" stroke="#000" stroke-width="0.12">0.5</text>
<line x1="79.5" y1="915.3" x2="79.5" y2="919.3" stroke="#222" stroke-width="1"/>
<text x="75" y="935.48" font-size="16.11" fill="#000" textLength="9" lengthAdjust="spacingAndGlyphs" stroke="#000" stroke-width="0.12">0</text>
<line x1="144.72" y1="915.3" x2="144.72" y2="919.3" stroke="#222" stroke-width="1"/>
<text x="135.02" y="935.48" font-size="16.11" fill="#000" textLength="18.77" lengthAdjust="spacingAndGlyphs" stroke="#000" stroke-width="0.12">10</text>
<line x1="209.95" y1="915.3" x2="209.95" y2="919.3" stroke="#222" stroke-width="1"/>
<text x="200.4" y="935.48" font-size="16.11" fill="#000" textLength="18.91" lengthAdjust="spacingAndGlyphs" stroke="#000" stroke-width="0.12">20</text>
<line x1="275.17" y1="915.3" x2="275.17" y2="919.3" stroke="#222" stroke-width="1"/>
<text x="265.86" y="935.48" font-size="16.11" fill="#000" textLength="18.64" lengthAdjust="spacingAndGlyphs" stroke="#000" stroke-width="0.12">30</text>
<line x1="340.4" y1="915.3" x2="340.4" y2="919.3" stroke="#222" stroke-width="1"/>
<text x="331.13" y="935.48" font-size="16.11" fill="#000" textLength="18.81" lengthAdjust="spacingAndGlyphs" stroke="#000" stroke-width="0.12">40</text>
<rect x="253.5" y="854.1" width="83.1" height="25" fill="rgba(255,255,255,0.85)" stroke="#d9d9d9" stroke-width="0.8" rx="1.8"/>
<rect x="256.2" y="857.9" width="15.3" height="5.5" fill="rgba(152,88,200,0.5)" stroke="#262626" stroke-width="0.8" stroke-opacity="0.8"/>
<rect x="256.2" y="868.7" width="15.3" height="5.5" fill="rgba(45,209,195,0.5)" stroke="#262626" stroke-width="0.8" stroke-opacity="0.8"/>
<text x="277.68" y="862.8" font-size="7.42" font-style="italic" fill="#333" textLength="3.56" lengthAdjust="spacingAndGlyphs">s</text>
<text x="281.42" y="864.2" font-size="5.19" fill="#333" textLength="2.77" lengthAdjust="spacingAndGlyphs">1</text>
<text x="286.95" y="862.8" font-size="7.42" fill="#333" textLength="41.82" lengthAdjust="spacingAndGlyphs">(N = 2356)</text>
<text x="277.68" y="873.5" font-size="7.42" font-style="italic" fill="#333" textLength="3.56" lengthAdjust="spacingAndGlyphs">s</text>
<text x="281.55" y="874.9" font-size="5.19" fill="#333" textLength="2.8" lengthAdjust="spacingAndGlyphs">2</text>
<text x="286.96" y="873.5" font-size="7.42" fill="#333" textLength="46.64" lengthAdjust="spacingAndGlyphs">(N = 14789)</text>
<text x="-10.51" y="0" font-size="15.9" transform="translate(41.4,884.2) rotate(-90)" textLength="20.52" lengthAdjust="spacingAndGlyphs">PD</text>
<g fill="rgb(152,88,200)" fill-opacity="0.5" stroke="#000" stroke-opacity="0.35" stroke-width="0.26"><rect x="450" y="817.71" width="2" height="0.29"/><rect x="452" y="817.4" width="2" height="0.6"/><rect x="454" y="817.18" width="2" height="0.82"/><rect x="456" y="817.02" width="2" height="0.98"/><rect x="458" y="816.77" width="2" height="1.23"/><rect x="460" y="816.43" width="2" height="1.57"/><rect x="462" y="815.81" width="2" height="2.19"/><rect x="464" y="814.87" width="2" height="3.13"/><rect x="466" y="813.76" width="2" height="4.24"/><rect x="468" y="811.67" width="2" height="6.33"/><rect x="470" y="806.65" width="2" height="11.35"/><rect x="472" y="799.1" width="2" height="18.9"/><rect x="474" y="787.73" width="2" height="30.27"/><rect x="476" y="775.95" width="2" height="42.05"/><rect x="478" y="762.81" width="2" height="55.19"/><rect x="480" y="756.77" width="2" height="61.23"/><rect x="482" y="759.17" width="2" height="58.83"/><rect x="484" y="757.6" width="2" height="60.4"/><rect x="486" y="762.17" width="2" height="55.83"/><rect x="488" y="771.1" width="2" height="46.9"/><rect x="490" y="776.69" width="2" height="41.31"/><rect x="492" y="780.9" width="2" height="37.1"/><rect x="494" y="786.01" width="2" height="31.99"/><rect x="496" y="792.52" width="2" height="25.48"/><rect x="498" y="796.53" width="2" height="21.47"/><rect x="500" y="799.42" width="2" height="18.58"/><rect x="502" y="803.31" width="2" height="14.69"/><rect x="504" y="805.09" width="2" height="12.91"/><rect x="506" y="806.54" width="2" height="11.46"/><rect x="508" y="808.08" width="2" height="9.92"/><rect x="510" y="809.72" width="2" height="8.28"/><rect x="512" y="811.02" width="2" height="6.98"/><rect x="514" y="812.17" width="2" height="5.83"/><rect x="516" y="813" width="2" height="5"/><rect x="518" y="813.82" width="2" height="4.18"/><rect x="520" y="814.49" width="2" height="3.51"/><rect x="522" y="814.74" width="2" height="3.26"/><rect x="524" y="815.19" width="2" height="2.81"/><rect x="526" y="815.48" width="2" height="2.52"/><rect x="528" y="815.81" width="2" height="2.19"/><rect x="530" y="815.9" width="2" height="2.1"/><rect x="532" y="816.14" width="2" height="1.86"/><rect x="534" y="816.45" width="2" height="1.55"/><rect x="536" y="816.67" width="2" height="1.33"/><rect x="538" y="816.9" width="2" height="1.1"/><rect x="540" y="817.07" width="2" height="0.93"/><rect x="542" y="817.15" width="2" height="0.85"/><rect x="544" y="817.25" width="2" height="0.75"/><rect x="546" y="817.28" width="2" height="0.72"/><rect x="548" y="817.33" width="2" height="0.67"/><rect x="550" y="817.39" width="2" height="0.61"/><rect x="552" y="817.4" width="2" height="0.6"/><rect x="554" y="817.42" width="2" height="0.58"/><rect x="556" y="817.45" width="2" height="0.55"/><rect x="558" y="817.49" width="2" height="0.51"/><rect x="560" y="817.51" width="2" height="0.49"/><rect x="562" y="817.55" width="2" height="0.45"/><rect x="564" y="817.56" width="2" height="0.44"/><rect x="566" y="817.56" width="2" height="0.44"/><rect x="568" y="817.58" width="2" height="0.42"/><rect x="570" y="817.61" width="2" height="0.39"/><rect x="572" y="817.61" width="2" height="0.39"/><rect x="574" y="817.62" width="2" height="0.38"/><rect x="576" y="817.63" width="2" height="0.37"/><rect x="578" y="817.65" width="2" height="0.35"/><rect x="580" y="817.66" width="2" height="0.34"/><rect x="582" y="817.67" width="2" height="0.33"/><rect x="584" y="817.67" width="2" height="0.33"/><rect x="586" y="817.69" width="2" height="0.31"/><rect x="588" y="817.7" width="2" height="0.3"/><rect x="590" y="817.71" width="2" height="0.29"/><rect x="592" y="817.73" width="2" height="0.27"/><rect x="594" y="817.74" width="2" height="0.26"/><rect x="596" y="817.73" width="2" height="0.27"/><rect x="598" y="817.73" width="2" height="0.27"/></g>
<g fill="rgb(45,209,195)" fill-opacity="0.5" stroke="#000" stroke-opacity="0.35" stroke-width="0.26"><rect x="437" y="817.17" width="2" height="0.83"/><rect x="439" y="817.02" width="2" height="0.98"/><rect x="441" y="816.92" width="2" height="1.08"/><rect x="443" y="816.76" width="2" height="1.24"/><rect x="445" y="816.52" width="2" height="1.48"/><rect x="447" y="816.32" width="2" height="1.68"/><rect x="449" y="816.06" width="2" height="1.94"/><rect x="451" y="815.71" width="2" height="2.29"/><rect x="453" y="815.07" width="2" height="2.93"/><rect x="455" y="814.19" width="2" height="3.81"/><rect x="457" y="813.09" width="2" height="4.91"/><rect x="459" y="812.03" width="2" height="5.97"/><rect x="461" y="810.5" width="2" height="7.5"/><rect x="463" y="808.76" width="2" height="9.24"/><rect x="465" y="806.23" width="2" height="11.77"/><rect x="467" y="803.04" width="2" height="14.96"/><rect x="469" y="799.65" width="2" height="18.35"/><rect x="471" y="796.32" width="2" height="21.68"/><rect x="473" y="792.85" width="2" height="25.15"/><rect x="475" y="789.65" width="2" height="28.35"/><rect x="477" y="786.6" width="2" height="31.4"/><rect x="479" y="784.21" width="2" height="33.79"/><rect x="481" y="781.92" width="2" height="36.08"/><rect x="483" y="781.57" width="2" height="36.43"/><rect x="485" y="781.53" width="2" height="36.47"/><rect x="487" y="781.07" width="2" height="36.93"/><rect x="489" y="782.87" width="2" height="35.13"/><rect x="491" y="784.6" width="2" height="33.4"/><rect x="493" y="788.02" width="2" height="29.98"/><rect x="495" y="791.48" width="2" height="26.52"/><rect x="497" y="794.05" width="2" height="23.95"/><rect x="499" y="797.26" width="2" height="20.74"/><rect x="501" y="799.92" width="2" height="18.08"/><rect x="503" y="802.05" width="2" height="15.95"/><rect x="505" y="804.23" width="2" height="13.77"/><rect x="507" y="806.24" width="2" height="11.76"/><rect x="509" y="807.23" width="2" height="10.77"/><rect x="511" y="808.62" width="2" height="9.38"/><rect x="513" y="809.8" width="2" height="8.2"/><rect x="515" y="810.69" width="2" height="7.31"/><rect x="517" y="811.59" width="2" height="6.41"/><rect x="519" y="812.32" width="2" height="5.68"/><rect x="521" y="813.1" width="2" height="4.9"/><rect x="523" y="813.48" width="2" height="4.52"/><rect x="525" y="813.99" width="2" height="4.01"/><rect x="527" y="814.59" width="2" height="3.41"/><rect x="529" y="814.85" width="2" height="3.15"/><rect x="531" y="815.2" width="2" height="2.8"/><rect x="533" y="815.56" width="2" height="2.44"/><rect x="535" y="815.81" width="2" height="2.19"/><rect x="537" y="816.04" width="2" height="1.96"/><rect x="539" y="816.17" width="2" height="1.83"/><rect x="541" y="816.36" width="2" height="1.64"/><rect x="543" y="816.45" width="2" height="1.55"/><rect x="545" y="816.6" width="2" height="1.4"/><rect x="547" y="816.65" width="2" height="1.35"/><rect x="549" y="816.74" width="2" height="1.26"/><rect x="551" y="816.85" width="2" height="1.15"/><rect x="553" y="816.92" width="2" height="1.08"/><rect x="555" y="816.97" width="2" height="1.03"/><rect x="557" y="817.05" width="2" height="0.95"/><rect x="559" y="817.12" width="2" height="0.88"/><rect x="561" y="817.19" width="2" height="0.81"/><rect x="563" y="817.24" width="2" height="0.76"/><rect x="565" y="817.27" width="2" height="0.73"/><rect x="567" y="817.34" width="2" height="0.66"/><rect x="569" y="817.36" width="2" height="0.64"/><rect x="571" y="817.42" width="2" height="0.58"/><rect x="573" y="817.44" width="2" height="0.56"/><rect x="575" y="817.49" width="2" height="0.51"/><rect x="577" y="817.51" width="2" height="0.49"/><rect x="579" y="817.55" width="2" height="0.45"/><rect x="581" y="817.59" width="2" height="0.41"/><rect x="583" y="817.61" width="2" height="0.39"/><rect x="585" y="817.64" width="2" height="0.36"/><rect x="587" y="817.67" width="2" height="0.33"/><rect x="589" y="817.7" width="2" height="0.3"/><rect x="591" y="817.72" width="2" height="0.28"/><rect x="593" y="817.74" width="2" height="0.26"/><rect x="595" y="817.75" width="2" height="0.25"/><rect x="597" y="817.78" width="2" height="0.22"/><rect x="599" y="817.81" width="2" height="0.19"/><rect x="601" y="817.81" width="2" height="0.19"/><rect x="603" y="817.83" width="2" height="0.17"/><rect x="605" y="817.84" width="2" height="0.16"/><rect x="607" y="817.86" width="2" height="0.14"/><rect x="609" y="817.87" width="2" height="0.13"/><rect x="611" y="817.88" width="2" height="0.12"/><rect x="613" y="817.89" width="2" height="0.11"/><rect x="615" y="817.9" width="2" height="0.1"/><rect x="617" y="817.91" width="2" height="0.09"/><rect x="619" y="817.91" width="2" height="0.09"/><rect x="621" y="817.92" width="2" height="0.08"/><rect x="623" y="817.92" width="2" height="0.08"/><rect x="625" y="817.93" width="2" height="0.07"/><rect x="627" y="817.94" width="2" height="0.06"/><rect x="629" y="817.94" width="2" height="0.06"/><rect x="631" y="817.94" width="2" height="0.06"/><rect x="633" y="817.95" width="2" height="0.05"/></g>
<path d="M449.1,818 L449.28,817.97 L449.48,817.94 L449.71,817.91 L449.96,817.87 L450.24,817.82 L450.55,817.77 L450.89,817.72 L451.26,817.67 L451.67,817.61 L452.11,817.54 L452.59,817.47 L453.1,817.4 L453.67,817.33 L454.32,817.26 L455.03,817.19 L455.79,817.12 L456.58,817.04 L457.39,816.96 L458.2,816.87 L459.01,816.77 L459.8,816.65 L460.55,816.52 L461.26,816.37 L461.9,816.2 L462.5,816.01 L463.07,815.81 L463.63,815.59 L464.16,815.36 L464.67,815.11 L465.16,814.85 L465.63,814.58 L466.09,814.29 L466.52,813.99 L466.93,813.67 L467.32,813.34 L467.7,813 L468.05,812.65 L468.37,812.28 L468.67,811.91 L468.94,811.52 L469.19,811.12 L469.43,810.7 L469.66,810.27 L469.87,809.81 L470.08,809.34 L470.28,808.85 L470.49,808.34 L470.7,807.8 L470.91,807.23 L471.11,806.61 L471.3,805.96 L471.49,805.29 L471.67,804.59 L471.84,803.89 L472.01,803.18 L472.18,802.47 L472.34,801.77 L472.5,801.08 L472.65,800.43 L472.8,799.8 L472.95,799.21 L473.08,798.67 L473.22,798.15 L473.34,797.66 L473.47,797.17 L473.59,796.68 L473.71,796.18 L473.82,795.67 L473.94,795.12 L474.06,794.53 L474.18,793.9 L474.3,793.2 L474.43,792.44 L474.55,791.61 L474.68,790.74 L474.8,789.83 L474.93,788.88 L475.06,787.92 L475.18,786.95 L475.31,785.97 L475.43,785.01 L475.56,784.07 L475.68,783.17 L475.8,782.3 L475.92,781.48 L476.03,780.7 L476.14,779.94 L476.24,779.2 L476.34,778.48 L476.45,777.76 L476.56,777.03 L476.67,776.29 L476.79,775.52 L476.92,774.72 L477.05,773.89 L477.2,773 L477.36,772.03 L477.53,770.98 L477.72,769.85 L477.91,768.68 L478.11,767.48 L478.31,766.29 L478.52,765.12 L478.72,763.99 L478.92,762.93 L479.12,761.97 L479.32,761.11 L479.5,760.4 L479.67,759.82 L479.84,759.33 L480,758.94 L480.15,758.62 L480.3,758.37 L480.46,758.18 L480.61,758.04 L480.77,757.94 L480.94,757.86 L481.11,757.8 L481.3,757.75 L481.5,757.7 L481.72,757.66 L481.95,757.64 L482.19,757.65 L482.44,757.69 L482.69,757.75 L482.96,757.84 L483.22,757.97 L483.49,758.11 L483.75,758.29 L484.01,758.5 L484.26,758.74 L484.5,759 L484.73,759.29 L484.96,759.62 L485.18,759.97 L485.4,760.34 L485.61,760.75 L485.82,761.19 L486.04,761.65 L486.26,762.14 L486.48,762.67 L486.71,763.22 L486.95,763.79 L487.2,764.4 L487.46,765.05 L487.73,765.76 L488.02,766.52 L488.31,767.32 L488.6,768.14 L488.9,768.99 L489.2,769.84 L489.49,770.69 L489.78,771.53 L490.07,772.36 L490.34,773.15 L490.6,773.9 L490.85,774.61 L491.08,775.3 L491.31,775.97 L491.53,776.62 L491.74,777.26 L491.96,777.9 L492.17,778.54 L492.38,779.18 L492.6,779.83 L492.82,780.5 L493.06,781.19 L493.3,781.9 L493.55,782.65 L493.81,783.42 L494.06,784.22 L494.33,785.03 L494.59,785.86 L494.86,786.69 L495.14,787.51 L495.42,788.33 L495.7,789.14 L496,789.92 L496.3,790.68 L496.6,791.4 L496.91,792.09 L497.23,792.77 L497.56,793.43 L497.9,794.07 L498.24,794.7 L498.59,795.32 L498.94,795.92 L499.29,796.51 L499.64,797.1 L500,797.67 L500.35,798.24 L500.7,798.8 L501.03,799.34 L501.31,799.85 L501.57,800.34 L501.81,800.81 L502.06,801.28 L502.32,801.74 L502.62,802.2 L502.95,802.67 L503.34,803.16 L503.81,803.68 L504.35,804.22 L505,804.8 L505.74,805.43 L506.56,806.12 L507.45,806.86 L508.41,807.62 L509.42,808.4 L510.48,809.18 L511.59,809.95 L512.73,810.7 L513.89,811.42 L515.08,812.08 L516.29,812.68 L517.5,813.2 L518.71,813.65 L519.92,814.05 L521.14,814.39 L522.39,814.7 L523.66,814.96 L524.96,815.2 L526.32,815.41 L527.73,815.6 L529.2,815.78 L530.75,815.95 L532.38,816.13 L534.1,816.3 L535.63,816.47 L536.79,816.62 L537.72,816.75 L538.56,816.87 L539.47,816.97 L540.59,817.06 L542.07,817.15 L544.05,817.22 L546.69,817.29 L550.13,817.36 L554.52,817.43 L560,817.5 L567.09,817.57 L575.94,817.63 L586.2,817.69 L597.47,817.74 L609.41,817.78 L621.62,817.83 L633.74,817.86 L645.4,817.9 L656.23,817.93 L665.86,817.95 L673.9,817.98 L680,818" fill="none" stroke="#9a5ccc" stroke-width="1.6" stroke-linejoin="round" stroke-linecap="round"/>
<path d="M436.7,817.3 L437.41,817.24 L438.34,817.17 L439.44,817.08 L440.67,816.99 L442,816.89 L443.4,816.78 L444.82,816.66 L446.23,816.53 L447.59,816.39 L448.86,816.24 L450.01,816.07 L451,815.9 L451.85,815.72 L452.63,815.52 L453.33,815.32 L453.97,815.1 L454.57,814.87 L455.12,814.64 L455.65,814.39 L456.16,814.13 L456.66,813.87 L457.16,813.59 L457.67,813.3 L458.2,813 L458.74,812.69 L459.28,812.37 L459.8,812.04 L460.32,811.7 L460.83,811.35 L461.33,810.99 L461.81,810.62 L462.29,810.23 L462.76,809.84 L463.22,809.44 L463.66,809.02 L464.1,808.6 L464.52,808.16 L464.93,807.71 L465.32,807.24 L465.71,806.77 L466.08,806.28 L466.44,805.78 L466.8,805.28 L467.15,804.77 L467.49,804.25 L467.83,803.74 L468.17,803.22 L468.5,802.7 L468.83,802.18 L469.15,801.65 L469.45,801.12 L469.76,800.58 L470.05,800.04 L470.34,799.49 L470.63,798.95 L470.92,798.4 L471.21,797.85 L471.5,797.3 L471.8,796.75 L472.1,796.2 L472.41,795.65 L472.71,795.1 L473.02,794.54 L473.33,793.98 L473.64,793.42 L473.95,792.86 L474.26,792.3 L474.57,791.74 L474.88,791.2 L475.19,790.65 L475.49,790.12 L475.8,789.6 L476.1,789.08 L476.4,788.55 L476.69,788.02 L476.98,787.49 L477.27,786.96 L477.56,786.45 L477.85,785.95 L478.14,785.47 L478.45,785.01 L478.75,784.57 L479.07,784.17 L479.4,783.8 L479.74,783.46 L480.09,783.14 L480.44,782.85 L480.81,782.57 L481.18,782.32 L481.55,782.09 L481.93,781.88 L482.3,781.7 L482.68,781.54 L483.06,781.4 L483.43,781.29 L483.8,781.2 L484.17,781.14 L484.54,781.12 L484.92,781.12 L485.29,781.15 L485.67,781.2 L486.04,781.27 L486.42,781.37 L486.79,781.47 L487.15,781.59 L487.51,781.72 L487.86,781.86 L488.2,782 L488.53,782.14 L488.85,782.29 L489.16,782.44 L489.47,782.6 L489.77,782.78 L490.07,782.97 L490.37,783.18 L490.66,783.41 L490.96,783.66 L491.27,783.94 L491.58,784.26 L491.9,784.6 L492.23,784.99 L492.56,785.41 L492.9,785.88 L493.24,786.37 L493.59,786.89 L493.93,787.43 L494.28,787.98 L494.63,788.54 L494.97,789.09 L495.32,789.64 L495.66,790.18 L496,790.7 L496.33,791.21 L496.66,791.71 L496.98,792.21 L497.3,792.71 L497.62,793.21 L497.94,793.71 L498.27,794.22 L498.6,794.72 L498.93,795.23 L499.28,795.75 L499.63,796.27 L500,796.8 L500.36,797.34 L500.71,797.88 L501.05,798.42 L501.39,798.97 L501.74,799.53 L502.1,800.09 L502.48,800.65 L502.9,801.21 L503.35,801.78 L503.84,802.35 L504.39,802.93 L505,803.5 L505.66,804.09 L506.37,804.69 L507.12,805.31 L507.91,805.94 L508.74,806.57 L509.6,807.2 L510.5,807.82 L511.42,808.43 L512.38,809.01 L513.36,809.57 L514.37,810.11 L515.4,810.6 L516.45,811.06 L517.52,811.51 L518.61,811.93 L519.73,812.33 L520.88,812.71 L522.06,813.08 L523.27,813.42 L524.53,813.75 L525.82,814.06 L527.17,814.35 L528.56,814.63 L530,814.9 L531.42,815.15 L532.77,815.37 L534.08,815.56 L535.39,815.74 L536.74,815.91 L538.18,816.06 L539.74,816.19 L541.46,816.32 L543.37,816.44 L545.52,816.56 L547.95,816.68 L550.7,816.8 L553.71,816.92 L556.91,817.03 L560.29,817.13 L563.88,817.23 L567.66,817.32 L571.64,817.41 L575.83,817.49 L580.23,817.56 L584.85,817.63 L589.68,817.69 L594.73,817.75 L600,817.8 L605.85,817.85 L612.48,817.88 L619.72,817.91 L627.36,817.93 L635.21,817.95 L643.08,817.96 L650.78,817.97 L658.12,817.98 L664.91,817.98 L670.94,817.99 L676.04,817.99 L680,818" fill="none" stroke="#3fd3c8" stroke-width="1.6" stroke-linejoin="round" stroke-linecap="round"/>
<rect x="418.8" y="752.9" width="261.2" height="65.1" fill="none" stroke="#262626" stroke-width="1.1"/>
<line x1="414.8" y1="818" x2="418.8" y2="818" stroke="#222" stroke-width="1"/>
<text x="402.03" y="823.55" font-size="16.11" fill="#000" textLength="9" lengthAdjust="spacingAndGlyphs" stroke="#000" stroke-width="0.12">0</text>
<line x1="414.8" y1="783.3" x2="418.8" y2="783.3" stroke="#222" stroke-width="1"/>
<text x="402.56" y="788.85" font-size="16.11" fill="#000" textLength="8.6" lengthAdjust="spacingAndGlyphs" stroke="#000" stroke-width="0.12">1</text>
<line x1="479.08" y1="818" x2="479.08" y2="822" stroke="#222" stroke-width="1"/>
<line x1="559.45" y1="818" x2="559.45" y2="822" stroke="#222" stroke-width="1"/>
<line x1="639.82" y1="818" x2="639.82" y2="822" stroke="#222" stroke-width="1"/>
<rect x="593.4" y="756.5" width="82.8" height="24.8" fill="rgba(255,255,255,0.85)" stroke="#d9d9d9" stroke-width="0.8" rx="1.8"/>
<rect x="596.1" y="760.3" width="15.3" height="5.5" fill="rgba(152,88,200,0.5)" stroke="none" stroke-width="0.8"/>
<rect x="596.1" y="771.1" width="15.3" height="5.5" fill="rgba(45,209,195,0.5)" stroke="none" stroke-width="0.8"/>
<text x="617.58" y="765.2" font-size="7.42" font-style="italic" fill="#333" textLength="3.56" lengthAdjust="spacingAndGlyphs">s</text>
<text x="621.32" y="766.6" font-size="5.19" fill="#333" textLength="2.77" lengthAdjust="spacingAndGlyphs">1</text>
<text x="626.86" y="765.2" font-size="7.42" fill="#333" textLength="46.64" lengthAdjust="spacingAndGlyphs">(N = 74803)</text>
<text x="617.58" y="775.9" font-size="7.42" font-style="italic" fill="#333" textLength="3.56" lengthAdjust="spacingAndGlyphs">s</text>
<text x="621.45" y="777.3" font-size="5.19" fill="#333" textLength="2.8" lengthAdjust="spacingAndGlyphs">2</text>
<text x="626.86" y="775.9" font-size="7.42" fill="#333" textLength="46.64" lengthAdjust="spacingAndGlyphs">(N = 26985)</text>
<text x="-10.51" y="0" font-size="15.9" transform="translate(395.6,786.8) rotate(-90)" textLength="20.52" lengthAdjust="spacingAndGlyphs">PD</text>
<g fill="rgb(152,88,200)" fill-opacity="0.5" stroke="#000" stroke-opacity="0.5" stroke-width="0.8879"><rect x="437.2" y="887.4" width="6.83" height="28.1"/><rect x="444.03" y="906.9" width="6.83" height="8.6"/><rect x="450.86" y="902.8" width="6.83" height="12.7"/><rect x="457.69" y="901.6" width="6.83" height="13.9"/><rect x="464.52" y="897" width="6.83" height="18.5"/><rect x="471.35" y="895.5" width="6.83" height="20"/><rect x="478.18" y="889.5" width="6.83" height="26"/><rect x="485.01" y="890.8" width="6.83" height="24.7"/><rect x="491.84" y="883.2" width="6.83" height="32.3"/><rect x="498.67" y="890.8" width="6.83" height="24.7"/><rect x="505.5" y="895.5" width="6.83" height="20"/><rect x="512.33" y="899.7" width="6.83" height="15.8"/><rect x="519.16" y="905.4" width="6.83" height="10.1"/><rect x="525.99" y="910.4" width="6.83" height="5.1"/><rect x="532.82" y="911" width="6.83" height="4.5"/><rect x="539.65" y="912.3" width="6.83" height="3.2"/><rect x="546.48" y="913.3" width="6.83" height="2.2"/><rect x="553.31" y="914" width="6.83" height="1.5"/><rect x="560.14" y="914.5" width="6.83" height="1"/><rect x="566.97" y="914.8" width="6.83" height="0.7"/><rect x="573.8" y="915" width="6.83" height="0.5"/></g>
<g fill="rgb(45,209,195)" fill-opacity="0.5" stroke="#000" stroke-opacity="0.5" stroke-width="0.8879"><rect x="437.2" y="913.6" width="6.83" height="1.9"/><rect x="444.03" y="913.6" width="6.83" height="1.9"/><rect x="450.86" y="912.6" width="6.83" height="2.9"/><rect x="457.69" y="907" width="6.83" height="8.5"/><rect x="464.52" y="897" width="6.83" height="18.5"/><rect x="471.35" y="877.5" width="6.83" height="38"/><rect x="478.18" y="857.6" width="6.83" height="57.9"/><rect x="485.01" y="853.8" width="6.83" height="61.7"/><rect x="491.84" y="870.5" width="6.83" height="45"/><rect x="498.67" y="897.4" width="6.83" height="18.1"/><rect x="505.5" y="910.7" width="6.83" height="4.8"/><rect x="512.33" y="913.6" width="6.83" height="1.9"/><rect x="519.16" y="914.6" width="6.83" height="0.9"/><rect x="525.99" y="915" width="6.83" height="0.5"/></g>
<path d="M437.2,904.7 L437.8,904.58 L438.53,904.43 L439.38,904.27 L440.33,904.08 L441.36,903.88 L442.47,903.66 L443.65,903.42 L444.87,903.16 L446.13,902.89 L447.42,902.61 L448.71,902.31 L450,902 L451.34,901.67 L452.77,901.31 L454.28,900.93 L455.84,900.54 L457.44,900.12 L459.05,899.7 L460.66,899.27 L462.25,898.83 L463.8,898.39 L465.29,897.95 L466.69,897.52 L468,897.1 L469.21,896.68 L470.34,896.24 L471.41,895.79 L472.42,895.34 L473.39,894.89 L474.34,894.44 L475.26,893.99 L476.18,893.56 L477.1,893.14 L478.03,892.74 L479,892.36 L480,892 L481.05,891.66 L482.13,891.31 L483.23,890.97 L484.35,890.64 L485.47,890.33 L486.59,890.03 L487.69,889.76 L488.76,889.51 L489.8,889.3 L490.79,889.12 L491.73,888.99 L492.6,888.9 L493.39,888.86 L494.11,888.86 L494.76,888.89 L495.37,888.96 L495.94,889.06 L496.48,889.19 L497.02,889.35 L497.56,889.54 L498.11,889.75 L498.69,889.98 L499.32,890.23 L500,890.5 L500.71,890.78 L501.42,891.07 L502.13,891.38 L502.86,891.71 L503.6,892.06 L504.36,892.44 L505.15,892.85 L505.97,893.3 L506.83,893.78 L507.74,894.31 L508.69,894.88 L509.7,895.5 L510.76,896.2 L511.87,896.99 L513.02,897.86 L514.22,898.79 L515.45,899.76 L516.72,900.74 L518.02,901.73 L519.35,902.7 L520.7,903.63 L522.08,904.5 L523.48,905.3 L524.9,906 L526.36,906.62 L527.88,907.19 L529.45,907.72 L531.06,908.2 L532.69,908.64 L534.34,909.05 L536,909.43 L537.64,909.79 L539.26,910.13 L540.86,910.46 L542.41,910.78 L543.9,911.1 L545.27,911.4 L546.47,911.68 L547.57,911.93 L548.6,912.17 L549.6,912.38 L550.64,912.58 L551.74,912.77 L552.97,912.94 L554.36,913.11 L555.97,913.28 L557.83,913.44 L560,913.6 L562.37,913.76 L564.82,913.91 L567.38,914.05 L570.08,914.18 L572.95,914.31 L576.01,914.43 L579.29,914.54 L582.82,914.64 L586.63,914.74 L590.74,914.83 L595.19,914.92 L600,915 L605.52,915.07 L611.94,915.14 L619.06,915.2 L626.67,915.25 L634.55,915.3 L642.5,915.34 L650.31,915.37 L657.78,915.4 L664.69,915.43 L670.83,915.46 L676.01,915.48 L680,915.5" fill="none" stroke="#9a5ccc" stroke-width="1.6" stroke-linejoin="round" stroke-linecap="round"/>
<path d="M437.2,914.5 L438.27,914.35 L439.65,914.2 L441.3,914.04 L443.16,913.87 L445.16,913.67 L447.26,913.43 L449.38,913.15 L451.49,912.81 L453.51,912.41 L455.39,911.93 L457.07,911.36 L458.5,910.7 L459.71,909.96 L460.79,909.16 L461.75,908.31 L462.61,907.39 L463.4,906.4 L464.11,905.35 L464.78,904.22 L465.42,903.02 L466.04,901.74 L466.67,900.38 L467.32,898.93 L468,897.4 L468.7,895.72 L469.39,893.85 L470.06,891.82 L470.71,889.69 L471.36,887.48 L471.99,885.22 L472.6,882.96 L473.21,880.72 L473.8,878.55 L474.38,876.49 L474.94,874.56 L475.5,872.8 L476.04,871.17 L476.56,869.6 L477.07,868.08 L477.57,866.63 L478.05,865.24 L478.52,863.92 L478.98,862.68 L479.43,861.5 L479.88,860.41 L480.32,859.39 L480.76,858.45 L481.2,857.6 L481.63,856.83 L482.03,856.14 L482.42,855.54 L482.8,855 L483.17,854.55 L483.54,854.17 L483.92,853.86 L484.3,853.63 L484.69,853.47 L485.11,853.38 L485.54,853.35 L486,853.4 L486.49,853.51 L487.01,853.67 L487.54,853.9 L488.1,854.19 L488.67,854.56 L489.24,855 L489.82,855.52 L490.4,856.13 L490.97,856.83 L491.53,857.62 L492.08,858.51 L492.6,859.5 L493.1,860.62 L493.58,861.88 L494.04,863.26 L494.5,864.74 L494.94,866.31 L495.39,867.96 L495.84,869.67 L496.29,871.41 L496.76,873.19 L497.25,874.97 L497.76,876.75 L498.3,878.5 L498.87,880.3 L499.46,882.22 L500.07,884.22 L500.69,886.28 L501.33,888.36 L501.98,890.44 L502.64,892.49 L503.3,894.47 L503.96,896.37 L504.61,898.14 L505.26,899.76 L505.9,901.2 L506.52,902.47 L507.12,903.62 L507.71,904.65 L508.29,905.57 L508.87,906.4 L509.46,907.16 L510.06,907.84 L510.69,908.47 L511.33,909.06 L512.01,909.62 L512.73,910.16 L513.5,910.7 L514.29,911.2 L515.08,911.65 L515.88,912.03 L516.7,912.37 L517.54,912.66 L518.42,912.92 L519.34,913.15 L520.31,913.36 L521.35,913.55 L522.45,913.73 L523.63,913.91 L524.9,914.1 L526.33,914.28 L527.98,914.44 L529.78,914.58 L531.7,914.71 L533.68,914.82 L535.66,914.91 L537.61,915 L539.47,915.07 L541.18,915.14 L542.71,915.19 L544,915.25 L545,915.3" fill="none" stroke="#3fd3c8" stroke-width="1.6" stroke-linejoin="round" stroke-linecap="round"/>
<rect x="418.8" y="850.3" width="261.2" height="65.2" fill="none" stroke="#262626" stroke-width="1.1"/>
<line x1="414.8" y1="915.5" x2="418.8" y2="915.5" stroke="#222" stroke-width="1"/>
<text x="402.03" y="921.05" font-size="16.11" fill="#000" textLength="9" lengthAdjust="spacingAndGlyphs" stroke="#000" stroke-width="0.12">0</text>
<line x1="414.8" y1="866.6" x2="418.8" y2="866.6" stroke="#222" stroke-width="1"/>
<text x="402.56" y="872.15" font-size="16.11" fill="#000" textLength="8.6" lengthAdjust="spacingAndGlyphs" stroke="#000" stroke-width="0.12">1</text>
<line x1="479.08" y1="915.5" x2="479.08" y2="919.5" stroke="#222" stroke-width="1"/>
<text x="474.58" y="935.78" font-size="16.11" fill="#000" textLength="9" lengthAdjust="spacingAndGlyphs" stroke="#000" stroke-width="0.12">0</text>
<line x1="559.45" y1="915.5" x2="559.45" y2="919.5" stroke="#222" stroke-width="1"/>
<text x="555.11" y="935.78" font-size="16.11" fill="#000" textLength="8.68" lengthAdjust="spacingAndGlyphs" stroke="#000" stroke-width="0.12">2</text>
<line x1="639.82" y1="915.5" x2="639.82" y2="919.5" stroke="#222" stroke-width="1"/>
<text x="635.37" y="935.78" font-size="16.11" fill="#000" textLength="9" lengthAdjust="spacingAndGlyphs" stroke="#000" stroke-width="0.12">4</text>
<rect x="593.4" y="854.2" width="82.8" height="24.5" fill="rgba(255,255,255,0.85)" stroke="#d9d9d9" stroke-width="0.8" rx="1.8"/>
<rect x="596.1" y="858" width="15.3" height="5.5" fill="rgba(152,88,200,0.5)" stroke="#262626" stroke-width="0.8" stroke-opacity="0.3"/>
<rect x="596.1" y="868.8" width="15.3" height="5.5" fill="rgba(45,209,195,0.5)" stroke="#262626" stroke-width="0.8" stroke-opacity="0.3"/>
<text x="617.58" y="862.9" font-size="7.42" font-style="italic" fill="#333" textLength="3.56" lengthAdjust="spacingAndGlyphs">s</text>
<text x="621.32" y="864.3" font-size="5.19" fill="#333" textLength="2.77" lengthAdjust="spacingAndGlyphs">1</text>
<text x="626.85" y="862.9" font-size="7.42" fill="#333" textLength="41.82" lengthAdjust="spacingAndGlyphs">(N = 2356)</text>
<text x="617.58" y="873.6" font-size="7.42" font-style="italic" fill="#333" textLength="3.56" lengthAdjust="spacingAndGlyphs">s</text>
<text x="621.45" y="875" font-size="5.19" fill="#333" textLength="2.8" lengthAdjust="spacingAndGlyphs">2</text>
<text x="626.86" y="873.6" font-size="7.42" fill="#333" textLength="46.64" lengthAdjust="spacingAndGlyphs">(N = 14789)</text>
<text x="-10.51" y="0" font-size="15.9" transform="translate(395.6,884.3) rotate(-90)" textLength="20.52" lengthAdjust="spacingAndGlyphs">PD</text>
<text x="177.62" y="258" font-size="18.13" fill="#000" textLength="64.2" lengthAdjust="spacingAndGlyphs" stroke="#000" stroke-width="0.12">pRPS6-</text>
<text x="173.11" y="355.6" font-size="18.13" fill="#000" textLength="72.29" lengthAdjust="spacingAndGlyphs" stroke="#000" stroke-width="0.12">pRPS6+</text>
<text x="177.62" y="746.5" font-size="18.13" fill="#000" textLength="64.2" lengthAdjust="spacingAndGlyphs" stroke="#000" stroke-width="0.12">pRPS6-</text>
<text x="173.11" y="844.1" font-size="18.13" fill="#000" textLength="72.29" lengthAdjust="spacingAndGlyphs" stroke="#000" stroke-width="0.12">pRPS6+</text>
<text x="517.02" y="258" font-size="18.13" fill="#000" textLength="64.2" lengthAdjust="spacingAndGlyphs" stroke="#000" stroke-width="0.12">pRPS6-</text>
<text x="512.51" y="355.6" font-size="18.13" fill="#000" textLength="72.29" lengthAdjust="spacingAndGlyphs" stroke="#000" stroke-width="0.12">pRPS6+</text>
<text x="517.02" y="746.5" font-size="18.13" fill="#000" textLength="64.2" lengthAdjust="spacingAndGlyphs" stroke="#000" stroke-width="0.12">pRPS6-</text>
<text x="512.51" y="844.1" font-size="18.13" fill="#000" textLength="72.29" lengthAdjust="spacingAndGlyphs" stroke="#000" stroke-width="0.12">pRPS6+</text>
<text x="132.29" y="13.8" font-size="18.13" fill="#000" textLength="155.43" lengthAdjust="spacingAndGlyphs" stroke="#000" stroke-width="0.12">Cell volume [µm³]</text>
<text x="465.55" y="13.8" font-size="18.13" fill="#000" textLength="168.11" lengthAdjust="spacingAndGlyphs" stroke="#000" stroke-width="0.12">Cell ellipticity [a.u.]</text>
<text x="87.57" y="502.3" font-size="18.13" fill="#000" textLength="244.66" lengthAdjust="spacingAndGlyphs" stroke="#000" stroke-width="0.12">Cell density [cells / 10⁶ µm³]</text>
<text x="462.27" y="502.3" font-size="18.13" fill="#000" textLength="174.67" lengthAdjust="spacingAndGlyphs" stroke="#000" stroke-width="0.12">Cell clustering [a.u.]</text>
<text x="0.23" y="13.9" font-size="19.72" font-weight="bold" fill="#000" textLength="10.84" lengthAdjust="spacingAndGlyphs">a</text>
<text x="376.27" y="14.1" font-size="19.72" font-weight="bold" fill="#000" textLength="10.34" lengthAdjust="spacingAndGlyphs">c</text>
<text x="-0.14" y="258.6" font-size="19.72" font-weight="bold" fill="#000" textLength="13.37" lengthAdjust="spacingAndGlyphs">b</text>
<text x="375" y="258.5" font-size="19.72" font-weight="bold" fill="#000" textLength="13.37" lengthAdjust="spacingAndGlyphs">d</text>
<text x="-0.09" y="503.3" font-size="19.72" font-weight="bold" fill="#000" textLength="12.7" lengthAdjust="spacingAndGlyphs">e</text>
<text x="375.2" y="503" font-size="19.72" font-weight="bold" fill="#000" textLength="13.39" lengthAdjust="spacingAndGlyphs">g</text>
<text x="2.47" y="746.7" font-size="19.72" font-weight="bold" fill="#000" textLength="8.36" lengthAdjust="spacingAndGlyphs">f</text>
<text x="374.59" y="746.9" font-size="19.72" font-weight="bold" fill="#000" textLength="13.17" lengthAdjust="spacingAndGlyphs">h</text>
</svg></body></html>
